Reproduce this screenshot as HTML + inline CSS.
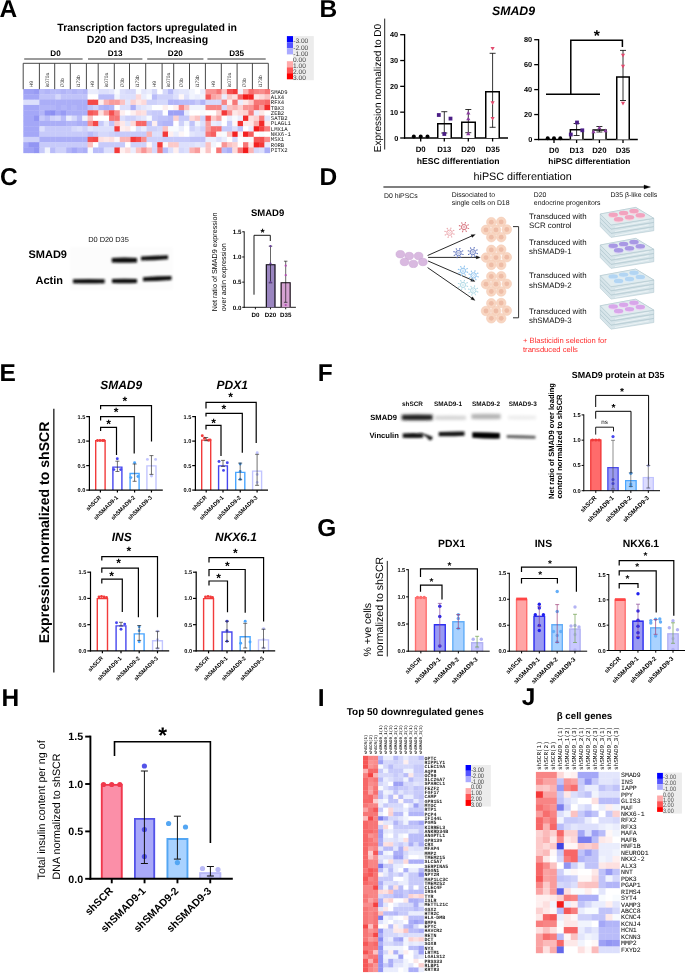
<!DOCTYPE html>
<html><head><meta charset="utf-8"><style>
html,body{margin:0;padding:0;background:#fff;}
svg{display:block;font-family:"Liberation Sans",sans-serif;-webkit-font-smoothing:antialiased;will-change:transform;text-rendering:geometricPrecision;}
</style></head><body>
<svg width="685" height="973" viewBox="0 0 685 973">
<rect width="685" height="973" fill="#fff"/>
<text x="-0.60" y="16.80" text-anchor="start" fill="#000" style='font-size:24.50px;font-weight:bold;'>A</text>
<text x="319.60" y="16.80" text-anchor="start" fill="#000" style='font-size:24.50px;font-weight:bold;'>B</text>
<text x="0.00" y="185.20" text-anchor="start" fill="#000" style='font-size:24.50px;font-weight:bold;'>C</text>
<text x="319.60" y="185.20" text-anchor="start" fill="#000" style='font-size:24.50px;font-weight:bold;'>D</text>
<text x="-0.50" y="380.80" text-anchor="start" fill="#000" style='font-size:24.50px;font-weight:bold;'>E</text>
<text x="317.80" y="380.60" text-anchor="start" fill="#000" style='font-size:24.50px;font-weight:bold;'>F</text>
<text x="317.30" y="535.80" text-anchor="start" fill="#000" style='font-size:24.50px;font-weight:bold;'>G</text>
<text x="1.60" y="706.10" text-anchor="start" fill="#000" style='font-size:24.50px;font-weight:bold;'>H</text>
<text x="317.80" y="706.10" text-anchor="start" fill="#000" style='font-size:24.50px;font-weight:bold;'>I</text>
<text x="521.80" y="705.20" text-anchor="start" fill="#000" style='font-size:24.50px;font-weight:bold;'>J</text>
<text x="513.50" y="14.60" text-anchor="middle" fill="#000" style='font-size:12.30px;font-weight:bold;font-style:italic;'>SMAD9</text>
<text x="380.70" y="88.00" text-anchor="middle" fill="#000" style='font-size:10.05px;font-weight:normal;' transform="rotate(-90.0 380.70 88.00)">Expression normalized to D0</text>
<line x1="384.70" y1="18.60" x2="384.70" y2="149.50" stroke="#222" stroke-width="1.00" stroke-linecap="butt"/>
<line x1="404.60" y1="34.05" x2="404.60" y2="138.65" stroke="#000" stroke-width="1.30" stroke-linecap="butt"/>
<line x1="400.20" y1="138.00" x2="404.60" y2="138.00" stroke="#000" stroke-width="1.30" stroke-linecap="butt"/>
<text x="398.20" y="140.63" text-anchor="end" fill="#000" style='font-size:7.30px;font-weight:bold;'>0</text>
<line x1="400.20" y1="112.17" x2="404.60" y2="112.17" stroke="#000" stroke-width="1.30" stroke-linecap="butt"/>
<text x="398.20" y="114.80" text-anchor="end" fill="#000" style='font-size:7.30px;font-weight:bold;'>10</text>
<line x1="400.20" y1="86.35" x2="404.60" y2="86.35" stroke="#000" stroke-width="1.30" stroke-linecap="butt"/>
<text x="398.20" y="88.98" text-anchor="end" fill="#000" style='font-size:7.30px;font-weight:bold;'>20</text>
<line x1="400.20" y1="60.53" x2="404.60" y2="60.53" stroke="#000" stroke-width="1.30" stroke-linecap="butt"/>
<text x="398.20" y="63.15" text-anchor="end" fill="#000" style='font-size:7.30px;font-weight:bold;'>30</text>
<line x1="400.20" y1="34.70" x2="404.60" y2="34.70" stroke="#000" stroke-width="1.30" stroke-linecap="butt"/>
<text x="398.20" y="37.33" text-anchor="end" fill="#000" style='font-size:7.30px;font-weight:bold;'>40</text>
<line x1="403.95" y1="138.00" x2="508.00" y2="138.00" stroke="#000" stroke-width="1.30" stroke-linecap="butt"/>
<line x1="420.70" y1="138.00" x2="420.70" y2="141.50" stroke="#000" stroke-width="1.30" stroke-linecap="butt"/>
<line x1="444.30" y1="138.00" x2="444.30" y2="141.50" stroke="#000" stroke-width="1.30" stroke-linecap="butt"/>
<line x1="468.30" y1="138.00" x2="468.30" y2="141.50" stroke="#000" stroke-width="1.30" stroke-linecap="butt"/>
<line x1="492.60" y1="138.00" x2="492.60" y2="141.50" stroke="#000" stroke-width="1.30" stroke-linecap="butt"/>
<rect x="437.00" y="123.00" width="15.00" height="15.00" fill="#fff"/>
<path d="M437.75 138.00 L437.75 123.75 L451.25 123.75 L451.25 138.00" stroke="#000" stroke-width="1.50" fill="none" stroke-linejoin="miter"/>
<rect x="461.00" y="121.60" width="15.00" height="16.40" fill="#fff"/>
<path d="M461.75 138.00 L461.75 122.35 L475.25 122.35 L475.25 138.00" stroke="#000" stroke-width="1.50" fill="none" stroke-linejoin="miter"/>
<rect x="485.00" y="91.00" width="15.00" height="47.00" fill="#fff"/>
<path d="M485.75 138.00 L485.75 91.75 L499.25 91.75 L499.25 138.00" stroke="#000" stroke-width="1.50" fill="none" stroke-linejoin="miter"/>
<line x1="444.30" y1="111.70" x2="444.30" y2="133.00" stroke="#000" stroke-width="0.80" stroke-linecap="butt"/>
<line x1="441.30" y1="111.70" x2="447.30" y2="111.70" stroke="#000" stroke-width="0.80" stroke-linecap="butt"/>
<line x1="441.30" y1="133.00" x2="447.30" y2="133.00" stroke="#000" stroke-width="0.80" stroke-linecap="butt"/>
<line x1="468.30" y1="109.50" x2="468.30" y2="132.70" stroke="#000" stroke-width="0.80" stroke-linecap="butt"/>
<line x1="465.30" y1="109.50" x2="471.30" y2="109.50" stroke="#000" stroke-width="0.80" stroke-linecap="butt"/>
<line x1="465.30" y1="132.70" x2="471.30" y2="132.70" stroke="#000" stroke-width="0.80" stroke-linecap="butt"/>
<line x1="492.60" y1="53.30" x2="492.60" y2="127.30" stroke="#000" stroke-width="0.80" stroke-linecap="butt"/>
<line x1="489.60" y1="53.30" x2="495.60" y2="53.30" stroke="#000" stroke-width="0.80" stroke-linecap="butt"/>
<line x1="489.60" y1="127.30" x2="495.60" y2="127.30" stroke="#000" stroke-width="0.80" stroke-linecap="butt"/>
<circle cx="413.80" cy="136.50" r="2.00" fill="#000"/>
<circle cx="420.70" cy="136.50" r="2.00" fill="#000"/>
<circle cx="427.50" cy="136.50" r="2.00" fill="#000"/>
<rect x="436.90" y="113.10" width="3.80" height="3.80" fill="#4b1e86"/>
<rect x="448.60" y="116.70" width="3.80" height="3.80" fill="#4b1e86"/>
<rect x="442.40" y="132.10" width="3.80" height="3.80" fill="#4b1e86"/>
<path d="M466.20 114.38 L470.40 114.38 L468.30 110.81 L466.20 114.38" stroke="#8a3d9e" stroke-width="0.01" fill="#8a3d9e" stroke-linejoin="miter"/>
<path d="M466.20 120.28 L470.40 120.28 L468.30 116.71 L466.20 120.28" stroke="#8a3d9e" stroke-width="0.01" fill="#8a3d9e" stroke-linejoin="miter"/>
<path d="M466.20 135.18 L470.40 135.18 L468.30 131.61 L466.20 135.18" stroke="#8a3d9e" stroke-width="0.01" fill="#8a3d9e" stroke-linejoin="miter"/>
<path d="M490.50 46.92 L494.70 46.92 L492.60 50.49 L490.50 46.92" stroke="#e24a6e" stroke-width="0.01" fill="#e24a6e" stroke-linejoin="miter"/>
<path d="M490.50 101.32 L494.70 101.32 L492.60 104.89 L490.50 101.32" stroke="#e24a6e" stroke-width="0.01" fill="#e24a6e" stroke-linejoin="miter"/>
<path d="M490.50 116.92 L494.70 116.92 L492.60 120.49 L490.50 116.92" stroke="#e24a6e" stroke-width="0.01" fill="#e24a6e" stroke-linejoin="miter"/>
<text x="420.70" y="152.00" text-anchor="middle" fill="#000" style='font-size:7.80px;font-weight:bold;'>D0</text>
<text x="444.30" y="152.00" text-anchor="middle" fill="#000" style='font-size:7.80px;font-weight:bold;'>D13</text>
<text x="468.30" y="152.00" text-anchor="middle" fill="#000" style='font-size:7.80px;font-weight:bold;'>D20</text>
<text x="492.60" y="152.00" text-anchor="middle" fill="#000" style='font-size:7.80px;font-weight:bold;'>D35</text>
<text x="458.10" y="163.80" text-anchor="middle" fill="#000" style='font-size:8.60px;font-weight:bold;'>hESC differentiation</text>
<line x1="538.60" y1="39.05" x2="538.60" y2="140.15" stroke="#000" stroke-width="1.30" stroke-linecap="butt"/>
<line x1="534.20" y1="139.50" x2="538.60" y2="139.50" stroke="#000" stroke-width="1.30" stroke-linecap="butt"/>
<text x="532.20" y="142.13" text-anchor="end" fill="#000" style='font-size:7.30px;font-weight:bold;'>0</text>
<line x1="534.20" y1="114.55" x2="538.60" y2="114.55" stroke="#000" stroke-width="1.30" stroke-linecap="butt"/>
<text x="532.20" y="117.18" text-anchor="end" fill="#000" style='font-size:7.30px;font-weight:bold;'>20</text>
<line x1="534.20" y1="89.60" x2="538.60" y2="89.60" stroke="#000" stroke-width="1.30" stroke-linecap="butt"/>
<text x="532.20" y="92.23" text-anchor="end" fill="#000" style='font-size:7.30px;font-weight:bold;'>40</text>
<line x1="534.20" y1="64.65" x2="538.60" y2="64.65" stroke="#000" stroke-width="1.30" stroke-linecap="butt"/>
<text x="532.20" y="67.28" text-anchor="end" fill="#000" style='font-size:7.30px;font-weight:bold;'>60</text>
<line x1="534.20" y1="39.70" x2="538.60" y2="39.70" stroke="#000" stroke-width="1.30" stroke-linecap="butt"/>
<text x="532.20" y="42.33" text-anchor="end" fill="#000" style='font-size:7.30px;font-weight:bold;'>80</text>
<line x1="537.95" y1="139.50" x2="637.80" y2="139.50" stroke="#000" stroke-width="1.30" stroke-linecap="butt"/>
<line x1="554.00" y1="139.50" x2="554.00" y2="143.00" stroke="#000" stroke-width="1.30" stroke-linecap="butt"/>
<line x1="576.60" y1="139.50" x2="576.60" y2="143.00" stroke="#000" stroke-width="1.30" stroke-linecap="butt"/>
<line x1="599.40" y1="139.50" x2="599.40" y2="143.00" stroke="#000" stroke-width="1.30" stroke-linecap="butt"/>
<line x1="623.00" y1="139.50" x2="623.00" y2="143.00" stroke="#000" stroke-width="1.30" stroke-linecap="butt"/>
<rect x="569.60" y="129.00" width="14.10" height="10.50" fill="#fff"/>
<path d="M570.35 139.50 L570.35 129.75 L582.95 129.75 L582.95 139.50" stroke="#000" stroke-width="1.50" fill="none" stroke-linejoin="miter"/>
<rect x="592.40" y="129.30" width="14.40" height="10.20" fill="#fff"/>
<path d="M593.15 139.50 L593.15 130.05 L606.05 130.05 L606.05 139.50" stroke="#000" stroke-width="1.50" fill="none" stroke-linejoin="miter"/>
<rect x="616.00" y="76.20" width="14.00" height="63.30" fill="#fff"/>
<path d="M616.75 139.50 L616.75 76.95 L629.25 76.95 L629.25 139.50" stroke="#000" stroke-width="1.50" fill="none" stroke-linejoin="miter"/>
<line x1="576.60" y1="123.50" x2="576.60" y2="135.50" stroke="#000" stroke-width="0.80" stroke-linecap="butt"/>
<line x1="573.60" y1="123.50" x2="579.60" y2="123.50" stroke="#000" stroke-width="0.80" stroke-linecap="butt"/>
<line x1="573.60" y1="135.50" x2="579.60" y2="135.50" stroke="#000" stroke-width="0.80" stroke-linecap="butt"/>
<line x1="599.40" y1="126.50" x2="599.40" y2="132.00" stroke="#000" stroke-width="0.80" stroke-linecap="butt"/>
<line x1="596.40" y1="126.50" x2="602.40" y2="126.50" stroke="#000" stroke-width="0.80" stroke-linecap="butt"/>
<line x1="596.40" y1="132.00" x2="602.40" y2="132.00" stroke="#000" stroke-width="0.80" stroke-linecap="butt"/>
<line x1="623.00" y1="50.40" x2="623.00" y2="100.50" stroke="#000" stroke-width="0.80" stroke-linecap="butt"/>
<line x1="620.00" y1="50.40" x2="626.00" y2="50.40" stroke="#000" stroke-width="0.80" stroke-linecap="butt"/>
<line x1="620.00" y1="100.50" x2="626.00" y2="100.50" stroke="#000" stroke-width="0.80" stroke-linecap="butt"/>
<circle cx="547.70" cy="138.20" r="2.00" fill="#000"/>
<circle cx="554.00" cy="138.20" r="2.00" fill="#000"/>
<circle cx="560.30" cy="138.20" r="2.00" fill="#000"/>
<rect x="568.90" y="132.60" width="3.80" height="3.80" fill="#4b1e86"/>
<rect x="575.10" y="120.60" width="3.80" height="3.80" fill="#4b1e86"/>
<rect x="580.40" y="128.40" width="3.80" height="3.80" fill="#4b1e86"/>
<path d="M591.40 133.18 L595.60 133.18 L593.50 129.61 L591.40 133.18" stroke="#8a3d9e" stroke-width="0.01" fill="#8a3d9e" stroke-linejoin="miter"/>
<path d="M597.30 129.28 L601.50 129.28 L599.40 125.71 L597.30 129.28" stroke="#8a3d9e" stroke-width="0.01" fill="#8a3d9e" stroke-linejoin="miter"/>
<path d="M603.40 132.18 L607.60 132.18 L605.50 128.61 L603.40 132.18" stroke="#8a3d9e" stroke-width="0.01" fill="#8a3d9e" stroke-linejoin="miter"/>
<path d="M620.90 53.82 L625.10 53.82 L623.00 57.39 L620.90 53.82" stroke="#e24a6e" stroke-width="0.01" fill="#e24a6e" stroke-linejoin="miter"/>
<path d="M620.90 64.82 L625.10 64.82 L623.00 68.39 L620.90 64.82" stroke="#e24a6e" stroke-width="0.01" fill="#e24a6e" stroke-linejoin="miter"/>
<path d="M620.90 101.82 L625.10 101.82 L623.00 105.39 L620.90 101.82" stroke="#e24a6e" stroke-width="0.01" fill="#e24a6e" stroke-linejoin="miter"/>
<path d="M546.00 94.30 L600.00 94.30" stroke="#000" stroke-width="1.50" fill="none" stroke-linejoin="miter"/>
<path d="M570.80 94.30 L570.80 40.20 L622.40 40.20 L622.40 47.00" stroke="#000" stroke-width="1.50" fill="none" stroke-linejoin="miter"/>
<text x="596.92" y="41.43" text-anchor="middle" fill="#000" style='font-size:15.79px;font-weight:bold;'>*</text>
<text x="554.00" y="153.00" text-anchor="middle" fill="#000" style='font-size:7.80px;font-weight:bold;'>D0</text>
<text x="576.60" y="153.00" text-anchor="middle" fill="#000" style='font-size:7.80px;font-weight:bold;'>D13</text>
<text x="599.40" y="153.00" text-anchor="middle" fill="#000" style='font-size:7.80px;font-weight:bold;'>D20</text>
<text x="623.00" y="153.00" text-anchor="middle" fill="#000" style='font-size:7.80px;font-weight:bold;'>D35</text>
<text x="589.40" y="164.30" text-anchor="middle" fill="#000" style='font-size:8.30px;font-weight:bold;'>hiPSC differentiation</text>
<defs><filter id="blur1" x="-20%" y="-50%" width="140%" height="200%"><feGaussianBlur stdDeviation="0.9"/></filter><filter id="blur2" x="-20%" y="-80%" width="140%" height="260%"><feGaussianBlur stdDeviation="1.4"/></filter><filter id="blur05"><feGaussianBlur stdDeviation="0.5"/></filter></defs>
<text x="108.50" y="242.30" text-anchor="middle" fill="#111" style='font-size:7.40px;font-weight:normal;'>D0 D20 D35</text>
<text x="47.70" y="258.00" text-anchor="middle" fill="#000" style='font-size:11.00px;font-weight:bold;'>SMAD9</text>
<text x="49.30" y="283.50" text-anchor="middle" fill="#000" style='font-size:11.00px;font-weight:bold;'>Actin</text>
<rect x="70.00" y="247.00" width="103.00" height="43.00" fill="#fcfcfc" filter="url(#blur2)"/>
<path d="M111.8 257.9 Q124.4 257.3 137.0 257.9 L137.0 262.5 Q124.4 263.1 111.8 262.5 Z" fill="#0c0c0c" filter="url(#blur1)"/>
<path d="M141.0 256.6 Q154.5 255.3 168.0 255.2 L168.0 259.2 Q154.5 260.5 141.0 260.6 Z" fill="#111" filter="url(#blur1)"/>
<path d="M73.0 279.2 Q88.8 278.6 104.7 279.2 L104.7 283.2 Q88.8 283.8 73.0 283.2 Z" fill="#111" filter="url(#blur1)"/>
<path d="M112.0 279.0 Q124.5 278.4 137.0 279.0 L137.0 283.0 Q124.5 283.6 112.0 283.0 Z" fill="#111" filter="url(#blur1)"/>
<path d="M143.0 277.3 Q157.2 276.1 171.5 276.1 L171.5 280.1 Q157.2 281.3 143.0 281.3 Z" fill="#111" filter="url(#blur1)"/>
<text x="267.60" y="216.20" text-anchor="middle" fill="#000" style='font-size:9.50px;font-weight:bold;'>SMAD9</text>
<text x="217.20" y="311.20" text-anchor="start" fill="#000" style='font-size:7.20px;font-weight:normal;' transform="rotate(-90.0 217.20 311.20)">Net ratio of SMAD9 expression</text>
<text x="225.90" y="311.20" text-anchor="start" fill="#000" style='font-size:7.20px;font-weight:normal;' transform="rotate(-90.0 225.90 311.20)">over actin expression</text>
<line x1="244.20" y1="231.35" x2="244.20" y2="307.75" stroke="#000" stroke-width="0.90" stroke-linecap="butt"/>
<line x1="242.20" y1="307.30" x2="244.20" y2="307.30" stroke="#000" stroke-width="0.90" stroke-linecap="butt"/>
<text x="241.40" y="309.53" text-anchor="end" fill="#000" style='font-size:6.20px;font-weight:bold;'>0.0</text>
<line x1="242.20" y1="282.13" x2="244.20" y2="282.13" stroke="#000" stroke-width="0.90" stroke-linecap="butt"/>
<text x="241.40" y="284.37" text-anchor="end" fill="#000" style='font-size:6.20px;font-weight:bold;'>0.5</text>
<line x1="242.20" y1="256.97" x2="244.20" y2="256.97" stroke="#000" stroke-width="0.90" stroke-linecap="butt"/>
<text x="241.40" y="259.20" text-anchor="end" fill="#000" style='font-size:6.20px;font-weight:bold;'>1.0</text>
<line x1="242.20" y1="231.80" x2="244.20" y2="231.80" stroke="#000" stroke-width="0.90" stroke-linecap="butt"/>
<text x="241.40" y="234.03" text-anchor="end" fill="#000" style='font-size:6.20px;font-weight:bold;'>1.5</text>
<line x1="243.75" y1="307.30" x2="295.90" y2="307.30" stroke="#000" stroke-width="0.90" stroke-linecap="butt"/>
<line x1="255.40" y1="307.30" x2="255.40" y2="309.30" stroke="#000" stroke-width="0.90" stroke-linecap="butt"/>
<line x1="270.50" y1="307.30" x2="270.50" y2="309.30" stroke="#000" stroke-width="0.90" stroke-linecap="butt"/>
<line x1="285.70" y1="307.30" x2="285.70" y2="309.30" stroke="#000" stroke-width="0.90" stroke-linecap="butt"/>
<rect x="265.80" y="264.20" width="9.70" height="43.10" fill="#9a85c0"/>
<path d="M266.35 307.30 L266.35 264.75 L274.95 264.75 L274.95 307.30" stroke="#111" stroke-width="1.10" fill="none" stroke-linejoin="miter"/>
<rect x="280.60" y="282.20" width="10.10" height="25.10" fill="#d5a2d2"/>
<path d="M281.15 307.30 L281.15 282.75 L290.15 282.75 L290.15 307.30" stroke="#111" stroke-width="1.10" fill="none" stroke-linejoin="miter"/>
<line x1="270.50" y1="246.20" x2="270.50" y2="282.80" stroke="#000" stroke-width="0.60" stroke-linecap="butt"/>
<line x1="268.75" y1="246.20" x2="272.25" y2="246.20" stroke="#000" stroke-width="0.60" stroke-linecap="butt"/>
<line x1="268.75" y1="282.80" x2="272.25" y2="282.80" stroke="#000" stroke-width="0.60" stroke-linecap="butt"/>
<line x1="285.70" y1="261.20" x2="285.70" y2="302.30" stroke="#000" stroke-width="0.60" stroke-linecap="butt"/>
<line x1="283.95" y1="261.20" x2="287.45" y2="261.20" stroke="#000" stroke-width="0.60" stroke-linecap="butt"/>
<line x1="283.95" y1="302.30" x2="287.45" y2="302.30" stroke="#000" stroke-width="0.60" stroke-linecap="butt"/>
<circle cx="270.50" cy="246.20" r="1.10" fill="#6a3f9e"/>
<circle cx="270.50" cy="263.50" r="1.10" fill="#6a3f9e"/>
<circle cx="270.50" cy="282.00" r="1.10" fill="#6a3f9e"/>
<circle cx="285.70" cy="265.70" r="1.10" fill="#b04bb0"/>
<circle cx="285.70" cy="275.20" r="1.10" fill="#b04bb0"/>
<circle cx="285.70" cy="305.00" r="1.10" fill="#b04bb0"/>
<path d="M254.00 294.70 L254.00 235.30 L270.30 235.30 L270.30 241.00" stroke="#000" stroke-width="0.90" fill="none" stroke-linejoin="miter"/>
<text x="262.55" y="235.78" text-anchor="middle" fill="#000" style='font-size:10.53px;font-weight:bold;'>*</text>
<text x="255.40" y="317.20" text-anchor="middle" fill="#000" style='font-size:6.20px;font-weight:bold;'>D0</text>
<text x="270.50" y="317.20" text-anchor="middle" fill="#000" style='font-size:6.20px;font-weight:bold;'>D20</text>
<text x="285.70" y="317.20" text-anchor="middle" fill="#000" style='font-size:6.20px;font-weight:bold;'>D35</text>
<text x="473.50" y="179.60" text-anchor="start" fill="#000" style='font-size:10.80px;font-weight:normal;'>hiPSC differentiation</text>
<line x1="383.40" y1="187.00" x2="646.00" y2="187.00" stroke="#000" stroke-width="1.20" stroke-linecap="butt"/>
<path d="M644.00 185.00 L650.50 187.00 L644.00 189.00 L644.00 185.00" stroke="#000" stroke-width="0.30" fill="#000" stroke-linejoin="miter"/>
<text x="384.00" y="197.70" text-anchor="start" fill="#111" style='font-size:6.90px;font-weight:normal;'>D0 hiPSCs</text>
<text x="451.70" y="197.00" text-anchor="start" fill="#111" style='font-size:6.90px;font-weight:normal;'>Dissociated to</text>
<text x="451.70" y="205.00" text-anchor="start" fill="#111" style='font-size:6.90px;font-weight:normal;'>single cells on D18</text>
<text x="533.80" y="197.00" text-anchor="start" fill="#111" style='font-size:6.90px;font-weight:normal;'>D20</text>
<text x="533.80" y="205.30" text-anchor="start" fill="#111" style='font-size:6.90px;font-weight:normal;'>endocrine progenitors</text>
<text x="610.40" y="197.00" text-anchor="start" fill="#111" style='font-size:6.90px;font-weight:normal;'>D35 β-like cells</text>
<text x="529.00" y="218.60" text-anchor="start" fill="#111" style='font-size:7.90px;font-weight:normal;'>Transduced with</text>
<text x="529.00" y="227.80" text-anchor="start" fill="#111" style='font-size:7.90px;font-weight:normal;'>SCR control</text>
<text x="529.00" y="245.00" text-anchor="start" fill="#111" style='font-size:7.90px;font-weight:normal;'>Transduced with</text>
<text x="529.00" y="254.20" text-anchor="start" fill="#111" style='font-size:7.90px;font-weight:normal;'>shSMAD9-1</text>
<text x="529.00" y="278.40" text-anchor="start" fill="#111" style='font-size:7.90px;font-weight:normal;'>Transduced with</text>
<text x="529.00" y="287.60" text-anchor="start" fill="#111" style='font-size:7.90px;font-weight:normal;'>shSMAD9-2</text>
<text x="529.00" y="313.60" text-anchor="start" fill="#111" style='font-size:7.90px;font-weight:normal;'>Transduced with</text>
<text x="529.00" y="322.80" text-anchor="start" fill="#111" style='font-size:7.90px;font-weight:normal;'>shSMAD9-3</text>
<text x="523.00" y="343.00" text-anchor="start" fill="#ff2b2b" style='font-size:7.60px;font-weight:normal;'>+ Blasticidin selection for</text>
<text x="523.00" y="351.90" text-anchor="start" fill="#ff2b2b" style='font-size:7.60px;font-weight:normal;'>transduced cells</text>
<ellipse cx="400.30" cy="254.20" rx="4.30" ry="3.70" fill="#d9b9e0" stroke="#cdaad6" stroke-width="0.60" opacity="1.00"/>
<ellipse cx="409.20" cy="256.00" rx="4.30" ry="3.70" fill="#d9b9e0" stroke="#cdaad6" stroke-width="0.60" opacity="1.00"/>
<ellipse cx="418.60" cy="256.00" rx="4.30" ry="3.70" fill="#d9b9e0" stroke="#cdaad6" stroke-width="0.60" opacity="1.00"/>
<ellipse cx="404.50" cy="262.00" rx="4.30" ry="3.70" fill="#d9b9e0" stroke="#cdaad6" stroke-width="0.60" opacity="1.00"/>
<ellipse cx="413.40" cy="263.90" rx="4.30" ry="3.70" fill="#d9b9e0" stroke="#cdaad6" stroke-width="0.60" opacity="1.00"/>
<ellipse cx="422.90" cy="262.00" rx="4.30" ry="3.70" fill="#d9b9e0" stroke="#cdaad6" stroke-width="0.60" opacity="1.00"/>
<line x1="427.60" y1="255.50" x2="472.02" y2="235.89" stroke="#111" stroke-width="0.90" stroke-linecap="butt"/>
<path d="M475.40 234.40 L472.20 237.56 L470.91 234.63 L475.40 234.40" stroke="#111" stroke-width="0.20" fill="#111" stroke-linejoin="miter"/>
<line x1="428.10" y1="257.40" x2="476.70" y2="257.40" stroke="#111" stroke-width="0.90" stroke-linecap="butt"/>
<path d="M480.40 257.40 L476.20 259.00 L476.20 255.80 L480.40 257.40" stroke="#111" stroke-width="0.20" fill="#111" stroke-linejoin="miter"/>
<line x1="428.10" y1="261.00" x2="471.71" y2="279.93" stroke="#111" stroke-width="0.90" stroke-linecap="butt"/>
<path d="M475.10 281.40 L470.61 281.20 L471.88 278.26 L475.10 281.40" stroke="#111" stroke-width="0.20" fill="#111" stroke-linejoin="miter"/>
<line x1="427.60" y1="267.60" x2="472.06" y2="298.30" stroke="#111" stroke-width="0.90" stroke-linecap="butt"/>
<path d="M475.10 300.40 L470.73 299.33 L472.55 296.70 L475.10 300.40" stroke="#111" stroke-width="0.20" fill="#111" stroke-linejoin="miter"/>
<line x1="451.98" y1="233.47" x2="454.09" y2="234.12" stroke="#eaa3a9" stroke-width="0.60" stroke-linecap="butt"/>
<circle cx="454.09" cy="234.12" r="0.60" fill="#eaa3a9"/>
<line x1="450.71" y1="235.00" x2="451.74" y2="236.95" stroke="#eaa3a9" stroke-width="0.60" stroke-linecap="butt"/>
<circle cx="451.74" cy="236.95" r="0.60" fill="#eaa3a9"/>
<line x1="448.73" y1="235.18" x2="448.08" y2="237.29" stroke="#eaa3a9" stroke-width="0.60" stroke-linecap="butt"/>
<circle cx="448.08" cy="237.29" r="0.60" fill="#eaa3a9"/>
<line x1="447.20" y1="233.91" x2="445.25" y2="234.94" stroke="#eaa3a9" stroke-width="0.60" stroke-linecap="butt"/>
<circle cx="445.25" cy="234.94" r="0.60" fill="#eaa3a9"/>
<line x1="447.02" y1="231.93" x2="444.91" y2="231.28" stroke="#eaa3a9" stroke-width="0.60" stroke-linecap="butt"/>
<circle cx="444.91" cy="231.28" r="0.60" fill="#eaa3a9"/>
<line x1="448.29" y1="230.40" x2="447.26" y2="228.45" stroke="#eaa3a9" stroke-width="0.60" stroke-linecap="butt"/>
<circle cx="447.26" cy="228.45" r="0.60" fill="#eaa3a9"/>
<line x1="450.27" y1="230.22" x2="450.92" y2="228.11" stroke="#eaa3a9" stroke-width="0.60" stroke-linecap="butt"/>
<circle cx="450.92" cy="228.11" r="0.60" fill="#eaa3a9"/>
<line x1="451.80" y1="231.49" x2="453.75" y2="230.46" stroke="#eaa3a9" stroke-width="0.60" stroke-linecap="butt"/>
<circle cx="453.75" cy="230.46" r="0.60" fill="#eaa3a9"/>
<circle cx="449.50" cy="232.70" r="2.60" fill="#fff" stroke="#eaa3a9" stroke-width="0.90"/>
<circle cx="449.50" cy="232.70" r="1.00" fill="none" stroke="#eaa3a9" stroke-width="0.50"/>
<line x1="466.48" y1="227.87" x2="468.59" y2="228.52" stroke="#d56b76" stroke-width="0.60" stroke-linecap="butt"/>
<circle cx="468.59" cy="228.52" r="0.60" fill="#d56b76"/>
<line x1="465.21" y1="229.40" x2="466.24" y2="231.35" stroke="#d56b76" stroke-width="0.60" stroke-linecap="butt"/>
<circle cx="466.24" cy="231.35" r="0.60" fill="#d56b76"/>
<line x1="463.23" y1="229.58" x2="462.58" y2="231.69" stroke="#d56b76" stroke-width="0.60" stroke-linecap="butt"/>
<circle cx="462.58" cy="231.69" r="0.60" fill="#d56b76"/>
<line x1="461.70" y1="228.31" x2="459.75" y2="229.34" stroke="#d56b76" stroke-width="0.60" stroke-linecap="butt"/>
<circle cx="459.75" cy="229.34" r="0.60" fill="#d56b76"/>
<line x1="461.52" y1="226.33" x2="459.41" y2="225.68" stroke="#d56b76" stroke-width="0.60" stroke-linecap="butt"/>
<circle cx="459.41" cy="225.68" r="0.60" fill="#d56b76"/>
<line x1="462.79" y1="224.80" x2="461.76" y2="222.85" stroke="#d56b76" stroke-width="0.60" stroke-linecap="butt"/>
<circle cx="461.76" cy="222.85" r="0.60" fill="#d56b76"/>
<line x1="464.77" y1="224.62" x2="465.42" y2="222.51" stroke="#d56b76" stroke-width="0.60" stroke-linecap="butt"/>
<circle cx="465.42" cy="222.51" r="0.60" fill="#d56b76"/>
<line x1="466.30" y1="225.89" x2="468.25" y2="224.86" stroke="#d56b76" stroke-width="0.60" stroke-linecap="butt"/>
<circle cx="468.25" cy="224.86" r="0.60" fill="#d56b76"/>
<circle cx="464.00" cy="227.10" r="2.60" fill="#fff" stroke="#d56b76" stroke-width="0.90"/>
<circle cx="464.00" cy="227.10" r="1.00" fill="none" stroke="#d56b76" stroke-width="0.50"/>
<line x1="460.98" y1="253.87" x2="463.09" y2="254.52" stroke="#5a6fbb" stroke-width="0.60" stroke-linecap="butt"/>
<circle cx="463.09" cy="254.52" r="0.60" fill="#5a6fbb"/>
<line x1="459.71" y1="255.40" x2="460.74" y2="257.35" stroke="#5a6fbb" stroke-width="0.60" stroke-linecap="butt"/>
<circle cx="460.74" cy="257.35" r="0.60" fill="#5a6fbb"/>
<line x1="457.73" y1="255.58" x2="457.08" y2="257.69" stroke="#5a6fbb" stroke-width="0.60" stroke-linecap="butt"/>
<circle cx="457.08" cy="257.69" r="0.60" fill="#5a6fbb"/>
<line x1="456.20" y1="254.31" x2="454.25" y2="255.34" stroke="#5a6fbb" stroke-width="0.60" stroke-linecap="butt"/>
<circle cx="454.25" cy="255.34" r="0.60" fill="#5a6fbb"/>
<line x1="456.02" y1="252.33" x2="453.91" y2="251.68" stroke="#5a6fbb" stroke-width="0.60" stroke-linecap="butt"/>
<circle cx="453.91" cy="251.68" r="0.60" fill="#5a6fbb"/>
<line x1="457.29" y1="250.80" x2="456.26" y2="248.85" stroke="#5a6fbb" stroke-width="0.60" stroke-linecap="butt"/>
<circle cx="456.26" cy="248.85" r="0.60" fill="#5a6fbb"/>
<line x1="459.27" y1="250.62" x2="459.92" y2="248.51" stroke="#5a6fbb" stroke-width="0.60" stroke-linecap="butt"/>
<circle cx="459.92" cy="248.51" r="0.60" fill="#5a6fbb"/>
<line x1="460.80" y1="251.89" x2="462.75" y2="250.86" stroke="#5a6fbb" stroke-width="0.60" stroke-linecap="butt"/>
<circle cx="462.75" cy="250.86" r="0.60" fill="#5a6fbb"/>
<circle cx="458.50" cy="253.10" r="2.60" fill="#fff" stroke="#5a6fbb" stroke-width="0.90"/>
<circle cx="458.50" cy="253.10" r="1.00" fill="none" stroke="#5a6fbb" stroke-width="0.50"/>
<line x1="475.28" y1="252.97" x2="477.39" y2="253.62" stroke="#5a6fbb" stroke-width="0.60" stroke-linecap="butt"/>
<circle cx="477.39" cy="253.62" r="0.60" fill="#5a6fbb"/>
<line x1="474.01" y1="254.50" x2="475.04" y2="256.45" stroke="#5a6fbb" stroke-width="0.60" stroke-linecap="butt"/>
<circle cx="475.04" cy="256.45" r="0.60" fill="#5a6fbb"/>
<line x1="472.03" y1="254.68" x2="471.38" y2="256.79" stroke="#5a6fbb" stroke-width="0.60" stroke-linecap="butt"/>
<circle cx="471.38" cy="256.79" r="0.60" fill="#5a6fbb"/>
<line x1="470.50" y1="253.41" x2="468.55" y2="254.44" stroke="#5a6fbb" stroke-width="0.60" stroke-linecap="butt"/>
<circle cx="468.55" cy="254.44" r="0.60" fill="#5a6fbb"/>
<line x1="470.32" y1="251.43" x2="468.21" y2="250.78" stroke="#5a6fbb" stroke-width="0.60" stroke-linecap="butt"/>
<circle cx="468.21" cy="250.78" r="0.60" fill="#5a6fbb"/>
<line x1="471.59" y1="249.90" x2="470.56" y2="247.95" stroke="#5a6fbb" stroke-width="0.60" stroke-linecap="butt"/>
<circle cx="470.56" cy="247.95" r="0.60" fill="#5a6fbb"/>
<line x1="473.57" y1="249.72" x2="474.22" y2="247.61" stroke="#5a6fbb" stroke-width="0.60" stroke-linecap="butt"/>
<circle cx="474.22" cy="247.61" r="0.60" fill="#5a6fbb"/>
<line x1="475.10" y1="250.99" x2="477.05" y2="249.96" stroke="#5a6fbb" stroke-width="0.60" stroke-linecap="butt"/>
<circle cx="477.05" cy="249.96" r="0.60" fill="#5a6fbb"/>
<circle cx="472.80" cy="252.20" r="2.60" fill="#fff" stroke="#5a6fbb" stroke-width="0.90"/>
<circle cx="472.80" cy="252.20" r="1.00" fill="none" stroke="#5a6fbb" stroke-width="0.50"/>
<line x1="465.48" y1="271.57" x2="467.59" y2="272.22" stroke="#85bdec" stroke-width="0.60" stroke-linecap="butt"/>
<circle cx="467.59" cy="272.22" r="0.60" fill="#85bdec"/>
<line x1="464.21" y1="273.10" x2="465.24" y2="275.05" stroke="#85bdec" stroke-width="0.60" stroke-linecap="butt"/>
<circle cx="465.24" cy="275.05" r="0.60" fill="#85bdec"/>
<line x1="462.23" y1="273.28" x2="461.58" y2="275.39" stroke="#85bdec" stroke-width="0.60" stroke-linecap="butt"/>
<circle cx="461.58" cy="275.39" r="0.60" fill="#85bdec"/>
<line x1="460.70" y1="272.01" x2="458.75" y2="273.04" stroke="#85bdec" stroke-width="0.60" stroke-linecap="butt"/>
<circle cx="458.75" cy="273.04" r="0.60" fill="#85bdec"/>
<line x1="460.52" y1="270.03" x2="458.41" y2="269.38" stroke="#85bdec" stroke-width="0.60" stroke-linecap="butt"/>
<circle cx="458.41" cy="269.38" r="0.60" fill="#85bdec"/>
<line x1="461.79" y1="268.50" x2="460.76" y2="266.55" stroke="#85bdec" stroke-width="0.60" stroke-linecap="butt"/>
<circle cx="460.76" cy="266.55" r="0.60" fill="#85bdec"/>
<line x1="463.77" y1="268.32" x2="464.42" y2="266.21" stroke="#85bdec" stroke-width="0.60" stroke-linecap="butt"/>
<circle cx="464.42" cy="266.21" r="0.60" fill="#85bdec"/>
<line x1="465.30" y1="269.59" x2="467.25" y2="268.56" stroke="#85bdec" stroke-width="0.60" stroke-linecap="butt"/>
<circle cx="467.25" cy="268.56" r="0.60" fill="#85bdec"/>
<circle cx="463.00" cy="270.80" r="2.60" fill="#fff" stroke="#85bdec" stroke-width="0.90"/>
<circle cx="463.00" cy="270.80" r="1.00" fill="none" stroke="#85bdec" stroke-width="0.50"/>
<line x1="476.08" y1="276.17" x2="478.19" y2="276.82" stroke="#85bdec" stroke-width="0.60" stroke-linecap="butt"/>
<circle cx="478.19" cy="276.82" r="0.60" fill="#85bdec"/>
<line x1="474.81" y1="277.70" x2="475.84" y2="279.65" stroke="#85bdec" stroke-width="0.60" stroke-linecap="butt"/>
<circle cx="475.84" cy="279.65" r="0.60" fill="#85bdec"/>
<line x1="472.83" y1="277.88" x2="472.18" y2="279.99" stroke="#85bdec" stroke-width="0.60" stroke-linecap="butt"/>
<circle cx="472.18" cy="279.99" r="0.60" fill="#85bdec"/>
<line x1="471.30" y1="276.61" x2="469.35" y2="277.64" stroke="#85bdec" stroke-width="0.60" stroke-linecap="butt"/>
<circle cx="469.35" cy="277.64" r="0.60" fill="#85bdec"/>
<line x1="471.12" y1="274.63" x2="469.01" y2="273.98" stroke="#85bdec" stroke-width="0.60" stroke-linecap="butt"/>
<circle cx="469.01" cy="273.98" r="0.60" fill="#85bdec"/>
<line x1="472.39" y1="273.10" x2="471.36" y2="271.15" stroke="#85bdec" stroke-width="0.60" stroke-linecap="butt"/>
<circle cx="471.36" cy="271.15" r="0.60" fill="#85bdec"/>
<line x1="474.37" y1="272.92" x2="475.02" y2="270.81" stroke="#85bdec" stroke-width="0.60" stroke-linecap="butt"/>
<circle cx="475.02" cy="270.81" r="0.60" fill="#85bdec"/>
<line x1="475.90" y1="274.19" x2="477.85" y2="273.16" stroke="#85bdec" stroke-width="0.60" stroke-linecap="butt"/>
<circle cx="477.85" cy="273.16" r="0.60" fill="#85bdec"/>
<circle cx="473.60" cy="275.40" r="2.60" fill="#fff" stroke="#85bdec" stroke-width="0.90"/>
<circle cx="473.60" cy="275.40" r="1.00" fill="none" stroke="#85bdec" stroke-width="0.50"/>
<line x1="465.48" y1="285.67" x2="467.59" y2="286.32" stroke="#aad6e2" stroke-width="0.60" stroke-linecap="butt"/>
<circle cx="467.59" cy="286.32" r="0.60" fill="#aad6e2"/>
<line x1="464.21" y1="287.20" x2="465.24" y2="289.15" stroke="#aad6e2" stroke-width="0.60" stroke-linecap="butt"/>
<circle cx="465.24" cy="289.15" r="0.60" fill="#aad6e2"/>
<line x1="462.23" y1="287.38" x2="461.58" y2="289.49" stroke="#aad6e2" stroke-width="0.60" stroke-linecap="butt"/>
<circle cx="461.58" cy="289.49" r="0.60" fill="#aad6e2"/>
<line x1="460.70" y1="286.11" x2="458.75" y2="287.14" stroke="#aad6e2" stroke-width="0.60" stroke-linecap="butt"/>
<circle cx="458.75" cy="287.14" r="0.60" fill="#aad6e2"/>
<line x1="460.52" y1="284.13" x2="458.41" y2="283.48" stroke="#aad6e2" stroke-width="0.60" stroke-linecap="butt"/>
<circle cx="458.41" cy="283.48" r="0.60" fill="#aad6e2"/>
<line x1="461.79" y1="282.60" x2="460.76" y2="280.65" stroke="#aad6e2" stroke-width="0.60" stroke-linecap="butt"/>
<circle cx="460.76" cy="280.65" r="0.60" fill="#aad6e2"/>
<line x1="463.77" y1="282.42" x2="464.42" y2="280.31" stroke="#aad6e2" stroke-width="0.60" stroke-linecap="butt"/>
<circle cx="464.42" cy="280.31" r="0.60" fill="#aad6e2"/>
<line x1="465.30" y1="283.69" x2="467.25" y2="282.66" stroke="#aad6e2" stroke-width="0.60" stroke-linecap="butt"/>
<circle cx="467.25" cy="282.66" r="0.60" fill="#aad6e2"/>
<circle cx="463.00" cy="284.90" r="2.60" fill="#fff" stroke="#aad6e2" stroke-width="0.90"/>
<circle cx="463.00" cy="284.90" r="1.00" fill="none" stroke="#aad6e2" stroke-width="0.50"/>
<line x1="475.68" y1="291.27" x2="477.79" y2="291.92" stroke="#aad6e2" stroke-width="0.60" stroke-linecap="butt"/>
<circle cx="477.79" cy="291.92" r="0.60" fill="#aad6e2"/>
<line x1="474.41" y1="292.80" x2="475.44" y2="294.75" stroke="#aad6e2" stroke-width="0.60" stroke-linecap="butt"/>
<circle cx="475.44" cy="294.75" r="0.60" fill="#aad6e2"/>
<line x1="472.43" y1="292.98" x2="471.78" y2="295.09" stroke="#aad6e2" stroke-width="0.60" stroke-linecap="butt"/>
<circle cx="471.78" cy="295.09" r="0.60" fill="#aad6e2"/>
<line x1="470.90" y1="291.71" x2="468.95" y2="292.74" stroke="#aad6e2" stroke-width="0.60" stroke-linecap="butt"/>
<circle cx="468.95" cy="292.74" r="0.60" fill="#aad6e2"/>
<line x1="470.72" y1="289.73" x2="468.61" y2="289.08" stroke="#aad6e2" stroke-width="0.60" stroke-linecap="butt"/>
<circle cx="468.61" cy="289.08" r="0.60" fill="#aad6e2"/>
<line x1="471.99" y1="288.20" x2="470.96" y2="286.25" stroke="#aad6e2" stroke-width="0.60" stroke-linecap="butt"/>
<circle cx="470.96" cy="286.25" r="0.60" fill="#aad6e2"/>
<line x1="473.97" y1="288.02" x2="474.62" y2="285.91" stroke="#aad6e2" stroke-width="0.60" stroke-linecap="butt"/>
<circle cx="474.62" cy="285.91" r="0.60" fill="#aad6e2"/>
<line x1="475.50" y1="289.29" x2="477.45" y2="288.26" stroke="#aad6e2" stroke-width="0.60" stroke-linecap="butt"/>
<circle cx="477.45" cy="288.26" r="0.60" fill="#aad6e2"/>
<circle cx="473.20" cy="290.50" r="2.60" fill="#fff" stroke="#aad6e2" stroke-width="0.90"/>
<circle cx="473.20" cy="290.50" r="1.00" fill="none" stroke="#aad6e2" stroke-width="0.50"/>
<circle cx="491.30" cy="222.20" r="4.80" fill="#f8d6c2" stroke="#f3c9b2" stroke-width="0.50"/>
<circle cx="501.20" cy="221.90" r="4.80" fill="#f8d6c2" stroke="#f3c9b2" stroke-width="0.50"/>
<circle cx="486.00" cy="229.90" r="4.80" fill="#f8d6c2" stroke="#f3c9b2" stroke-width="0.50"/>
<circle cx="496.00" cy="229.90" r="4.80" fill="#f8d6c2" stroke="#f3c9b2" stroke-width="0.50"/>
<circle cx="506.80" cy="229.50" r="4.80" fill="#f8d6c2" stroke="#f3c9b2" stroke-width="0.50"/>
<circle cx="491.30" cy="237.20" r="4.80" fill="#f8d6c2" stroke="#f3c9b2" stroke-width="0.50"/>
<circle cx="501.20" cy="237.20" r="4.80" fill="#f8d6c2" stroke="#f3c9b2" stroke-width="0.50"/>
<circle cx="491.30" cy="222.20" r="2.40" fill="#eebca6"/>
<circle cx="501.20" cy="221.90" r="2.40" fill="#eebca6"/>
<circle cx="486.00" cy="229.90" r="2.40" fill="#eebca6"/>
<circle cx="496.00" cy="229.90" r="2.40" fill="#eebca6"/>
<circle cx="506.80" cy="229.50" r="2.40" fill="#eebca6"/>
<circle cx="491.30" cy="237.20" r="2.40" fill="#eebca6"/>
<circle cx="501.20" cy="237.20" r="2.40" fill="#eebca6"/>
<circle cx="491.30" cy="249.90" r="4.80" fill="#f8d6c2" stroke="#f3c9b2" stroke-width="0.50"/>
<circle cx="501.20" cy="249.60" r="4.80" fill="#f8d6c2" stroke="#f3c9b2" stroke-width="0.50"/>
<circle cx="486.00" cy="257.60" r="4.80" fill="#f8d6c2" stroke="#f3c9b2" stroke-width="0.50"/>
<circle cx="496.00" cy="257.60" r="4.80" fill="#f8d6c2" stroke="#f3c9b2" stroke-width="0.50"/>
<circle cx="506.80" cy="257.20" r="4.80" fill="#f8d6c2" stroke="#f3c9b2" stroke-width="0.50"/>
<circle cx="491.30" cy="264.90" r="4.80" fill="#f8d6c2" stroke="#f3c9b2" stroke-width="0.50"/>
<circle cx="501.20" cy="264.90" r="4.80" fill="#f8d6c2" stroke="#f3c9b2" stroke-width="0.50"/>
<circle cx="491.30" cy="249.90" r="2.40" fill="#eebca6"/>
<circle cx="501.20" cy="249.60" r="2.40" fill="#eebca6"/>
<circle cx="486.00" cy="257.60" r="2.40" fill="#eebca6"/>
<circle cx="496.00" cy="257.60" r="2.40" fill="#eebca6"/>
<circle cx="506.80" cy="257.20" r="2.40" fill="#eebca6"/>
<circle cx="491.30" cy="264.90" r="2.40" fill="#eebca6"/>
<circle cx="501.20" cy="264.90" r="2.40" fill="#eebca6"/>
<circle cx="491.30" cy="276.50" r="4.80" fill="#f8d6c2" stroke="#f3c9b2" stroke-width="0.50"/>
<circle cx="501.20" cy="276.20" r="4.80" fill="#f8d6c2" stroke="#f3c9b2" stroke-width="0.50"/>
<circle cx="486.00" cy="284.20" r="4.80" fill="#f8d6c2" stroke="#f3c9b2" stroke-width="0.50"/>
<circle cx="496.00" cy="284.20" r="4.80" fill="#f8d6c2" stroke="#f3c9b2" stroke-width="0.50"/>
<circle cx="506.80" cy="283.80" r="4.80" fill="#f8d6c2" stroke="#f3c9b2" stroke-width="0.50"/>
<circle cx="491.30" cy="291.50" r="4.80" fill="#f8d6c2" stroke="#f3c9b2" stroke-width="0.50"/>
<circle cx="501.20" cy="291.50" r="4.80" fill="#f8d6c2" stroke="#f3c9b2" stroke-width="0.50"/>
<circle cx="491.30" cy="276.50" r="2.40" fill="#eebca6"/>
<circle cx="501.20" cy="276.20" r="2.40" fill="#eebca6"/>
<circle cx="486.00" cy="284.20" r="2.40" fill="#eebca6"/>
<circle cx="496.00" cy="284.20" r="2.40" fill="#eebca6"/>
<circle cx="506.80" cy="283.80" r="2.40" fill="#eebca6"/>
<circle cx="491.30" cy="291.50" r="2.40" fill="#eebca6"/>
<circle cx="501.20" cy="291.50" r="2.40" fill="#eebca6"/>
<circle cx="491.30" cy="303.30" r="4.80" fill="#f8d6c2" stroke="#f3c9b2" stroke-width="0.50"/>
<circle cx="501.20" cy="303.00" r="4.80" fill="#f8d6c2" stroke="#f3c9b2" stroke-width="0.50"/>
<circle cx="486.00" cy="311.00" r="4.80" fill="#f8d6c2" stroke="#f3c9b2" stroke-width="0.50"/>
<circle cx="496.00" cy="311.00" r="4.80" fill="#f8d6c2" stroke="#f3c9b2" stroke-width="0.50"/>
<circle cx="506.80" cy="310.60" r="4.80" fill="#f8d6c2" stroke="#f3c9b2" stroke-width="0.50"/>
<circle cx="491.30" cy="318.30" r="4.80" fill="#f8d6c2" stroke="#f3c9b2" stroke-width="0.50"/>
<circle cx="501.20" cy="318.30" r="4.80" fill="#f8d6c2" stroke="#f3c9b2" stroke-width="0.50"/>
<circle cx="491.30" cy="303.30" r="2.40" fill="#eebca6"/>
<circle cx="501.20" cy="303.00" r="2.40" fill="#eebca6"/>
<circle cx="486.00" cy="311.00" r="2.40" fill="#eebca6"/>
<circle cx="496.00" cy="311.00" r="2.40" fill="#eebca6"/>
<circle cx="506.80" cy="310.60" r="2.40" fill="#eebca6"/>
<circle cx="491.30" cy="318.30" r="2.40" fill="#eebca6"/>
<circle cx="501.20" cy="318.30" r="2.40" fill="#eebca6"/>
<path d="M513.00 226.60 L518.60 226.60 L518.60 317.80 L513.00 317.80" stroke="#333" stroke-width="1.00" fill="none" stroke-linejoin="miter"/>
<path d="M600.20 222.40 L635.80 215.80 L653.80 226.70 L653.80 230.70 L611.00 237.40 L600.20 226.40 L600.20 222.40" stroke="#aac2cb" stroke-width="0.50" fill="#d7e5ea" stroke-linejoin="miter"/>
<path d="M611.00 233.40 L653.80 226.70" stroke="#aac2cb" stroke-width="0.50" fill="none" stroke-linejoin="miter"/>
<path d="M600.20 222.40 L611.00 233.40" stroke="#aac2cb" stroke-width="0.50" fill="none" stroke-linejoin="miter"/>
<line x1="615.00" y1="235.60" x2="648.80" y2="229.10" stroke="#f4f8f9" stroke-width="0.70" stroke-linecap="butt"/>
<path d="M600.20 218.20 L635.80 211.60 L653.80 222.50 L653.80 226.50 L611.00 233.20 L600.20 222.20 L600.20 218.20" stroke="#aac2cb" stroke-width="0.50" fill="#d7e5ea" stroke-linejoin="miter"/>
<path d="M611.00 229.20 L653.80 222.50" stroke="#aac2cb" stroke-width="0.50" fill="none" stroke-linejoin="miter"/>
<path d="M600.20 218.20 L611.00 229.20" stroke="#aac2cb" stroke-width="0.50" fill="none" stroke-linejoin="miter"/>
<line x1="615.00" y1="231.40" x2="648.80" y2="224.90" stroke="#f4f8f9" stroke-width="0.70" stroke-linecap="butt"/>
<path d="M600.20 214.00 L635.80 207.40 L653.80 218.30 L653.80 222.30 L611.00 229.00 L600.20 218.00 L600.20 214.00" stroke="#aac2cb" stroke-width="0.50" fill="#d7e5ea" stroke-linejoin="miter"/>
<path d="M611.00 225.00 L653.80 218.30" stroke="#aac2cb" stroke-width="0.50" fill="none" stroke-linejoin="miter"/>
<path d="M600.20 214.00 L611.00 225.00" stroke="#aac2cb" stroke-width="0.50" fill="none" stroke-linejoin="miter"/>
<line x1="615.00" y1="227.20" x2="648.80" y2="220.70" stroke="#f4f8f9" stroke-width="0.70" stroke-linecap="butt"/>
<path d="M600.20 214.00 L635.80 207.40 L653.80 218.30 L611.00 225.00 L600.20 214.00" stroke="#aac2cb" stroke-width="0.50" fill="#e1ecef" stroke-linejoin="miter"/>
<ellipse cx="613.20" cy="215.70" rx="4.70" ry="2.40" fill="#f8d3df" opacity="1.00"/>
<ellipse cx="613.20" cy="214.70" rx="4.70" ry="2.20" fill="#f2a3bf" opacity="1.00"/>
<ellipse cx="623.60" cy="213.90" rx="4.70" ry="2.40" fill="#f8d3df" opacity="1.00"/>
<ellipse cx="623.60" cy="212.90" rx="4.70" ry="2.20" fill="#f2a3bf" opacity="1.00"/>
<ellipse cx="634.00" cy="212.00" rx="4.70" ry="2.40" fill="#f8d3df" opacity="1.00"/>
<ellipse cx="634.00" cy="211.00" rx="4.70" ry="2.20" fill="#f2a3bf" opacity="1.00"/>
<ellipse cx="618.60" cy="220.20" rx="4.70" ry="2.40" fill="#f8d3df" opacity="1.00"/>
<ellipse cx="618.60" cy="219.20" rx="4.70" ry="2.20" fill="#f2a3bf" opacity="1.00"/>
<ellipse cx="629.50" cy="218.30" rx="4.70" ry="2.40" fill="#f8d3df" opacity="1.00"/>
<ellipse cx="629.50" cy="217.30" rx="4.70" ry="2.20" fill="#f2a3bf" opacity="1.00"/>
<ellipse cx="640.30" cy="216.20" rx="4.70" ry="2.40" fill="#f8d3df" opacity="1.00"/>
<ellipse cx="640.30" cy="215.20" rx="4.70" ry="2.20" fill="#f2a3bf" opacity="1.00"/>
<path d="M600.20 253.40 L635.80 246.80 L653.80 257.70 L653.80 261.70 L611.00 268.40 L600.20 257.40 L600.20 253.40" stroke="#aac2cb" stroke-width="0.50" fill="#d7e5ea" stroke-linejoin="miter"/>
<path d="M611.00 264.40 L653.80 257.70" stroke="#aac2cb" stroke-width="0.50" fill="none" stroke-linejoin="miter"/>
<path d="M600.20 253.40 L611.00 264.40" stroke="#aac2cb" stroke-width="0.50" fill="none" stroke-linejoin="miter"/>
<line x1="615.00" y1="266.60" x2="648.80" y2="260.10" stroke="#f4f8f9" stroke-width="0.70" stroke-linecap="butt"/>
<path d="M600.20 249.20 L635.80 242.60 L653.80 253.50 L653.80 257.50 L611.00 264.20 L600.20 253.20 L600.20 249.20" stroke="#aac2cb" stroke-width="0.50" fill="#d7e5ea" stroke-linejoin="miter"/>
<path d="M611.00 260.20 L653.80 253.50" stroke="#aac2cb" stroke-width="0.50" fill="none" stroke-linejoin="miter"/>
<path d="M600.20 249.20 L611.00 260.20" stroke="#aac2cb" stroke-width="0.50" fill="none" stroke-linejoin="miter"/>
<line x1="615.00" y1="262.40" x2="648.80" y2="255.90" stroke="#f4f8f9" stroke-width="0.70" stroke-linecap="butt"/>
<path d="M600.20 245.00 L635.80 238.40 L653.80 249.30 L653.80 253.30 L611.00 260.00 L600.20 249.00 L600.20 245.00" stroke="#aac2cb" stroke-width="0.50" fill="#d7e5ea" stroke-linejoin="miter"/>
<path d="M611.00 256.00 L653.80 249.30" stroke="#aac2cb" stroke-width="0.50" fill="none" stroke-linejoin="miter"/>
<path d="M600.20 245.00 L611.00 256.00" stroke="#aac2cb" stroke-width="0.50" fill="none" stroke-linejoin="miter"/>
<line x1="615.00" y1="258.20" x2="648.80" y2="251.70" stroke="#f4f8f9" stroke-width="0.70" stroke-linecap="butt"/>
<path d="M600.20 245.00 L635.80 238.40 L653.80 249.30 L611.00 256.00 L600.20 245.00" stroke="#aac2cb" stroke-width="0.50" fill="#e1ecef" stroke-linejoin="miter"/>
<ellipse cx="613.20" cy="246.70" rx="4.70" ry="2.40" fill="#d9d0f4" opacity="1.00"/>
<ellipse cx="613.20" cy="245.70" rx="4.70" ry="2.20" fill="#a898e4" opacity="1.00"/>
<ellipse cx="623.60" cy="244.90" rx="4.70" ry="2.40" fill="#d9d0f4" opacity="1.00"/>
<ellipse cx="623.60" cy="243.90" rx="4.70" ry="2.20" fill="#a898e4" opacity="1.00"/>
<ellipse cx="634.00" cy="243.00" rx="4.70" ry="2.40" fill="#d9d0f4" opacity="1.00"/>
<ellipse cx="634.00" cy="242.00" rx="4.70" ry="2.20" fill="#a898e4" opacity="1.00"/>
<ellipse cx="618.60" cy="251.20" rx="4.70" ry="2.40" fill="#d9d0f4" opacity="1.00"/>
<ellipse cx="618.60" cy="250.20" rx="4.70" ry="2.20" fill="#a898e4" opacity="1.00"/>
<ellipse cx="629.50" cy="249.30" rx="4.70" ry="2.40" fill="#d9d0f4" opacity="1.00"/>
<ellipse cx="629.50" cy="248.30" rx="4.70" ry="2.20" fill="#a898e4" opacity="1.00"/>
<ellipse cx="640.30" cy="247.20" rx="4.70" ry="2.40" fill="#d9d0f4" opacity="1.00"/>
<ellipse cx="640.30" cy="246.20" rx="4.70" ry="2.20" fill="#a898e4" opacity="1.00"/>
<path d="M600.20 284.10 L635.80 277.50 L653.80 288.40 L653.80 292.40 L611.00 299.10 L600.20 288.10 L600.20 284.10" stroke="#aac2cb" stroke-width="0.50" fill="#d7e5ea" stroke-linejoin="miter"/>
<path d="M611.00 295.10 L653.80 288.40" stroke="#aac2cb" stroke-width="0.50" fill="none" stroke-linejoin="miter"/>
<path d="M600.20 284.10 L611.00 295.10" stroke="#aac2cb" stroke-width="0.50" fill="none" stroke-linejoin="miter"/>
<line x1="615.00" y1="297.30" x2="648.80" y2="290.80" stroke="#f4f8f9" stroke-width="0.70" stroke-linecap="butt"/>
<path d="M600.20 279.90 L635.80 273.30 L653.80 284.20 L653.80 288.20 L611.00 294.90 L600.20 283.90 L600.20 279.90" stroke="#aac2cb" stroke-width="0.50" fill="#d7e5ea" stroke-linejoin="miter"/>
<path d="M611.00 290.90 L653.80 284.20" stroke="#aac2cb" stroke-width="0.50" fill="none" stroke-linejoin="miter"/>
<path d="M600.20 279.90 L611.00 290.90" stroke="#aac2cb" stroke-width="0.50" fill="none" stroke-linejoin="miter"/>
<line x1="615.00" y1="293.10" x2="648.80" y2="286.60" stroke="#f4f8f9" stroke-width="0.70" stroke-linecap="butt"/>
<path d="M600.20 275.70 L635.80 269.10 L653.80 280.00 L653.80 284.00 L611.00 290.70 L600.20 279.70 L600.20 275.70" stroke="#aac2cb" stroke-width="0.50" fill="#d7e5ea" stroke-linejoin="miter"/>
<path d="M611.00 286.70 L653.80 280.00" stroke="#aac2cb" stroke-width="0.50" fill="none" stroke-linejoin="miter"/>
<path d="M600.20 275.70 L611.00 286.70" stroke="#aac2cb" stroke-width="0.50" fill="none" stroke-linejoin="miter"/>
<line x1="615.00" y1="288.90" x2="648.80" y2="282.40" stroke="#f4f8f9" stroke-width="0.70" stroke-linecap="butt"/>
<path d="M600.20 275.70 L635.80 269.10 L653.80 280.00 L611.00 286.70 L600.20 275.70" stroke="#aac2cb" stroke-width="0.50" fill="#e1ecef" stroke-linejoin="miter"/>
<ellipse cx="613.20" cy="277.40" rx="4.70" ry="2.40" fill="#d8eaf8" opacity="1.00"/>
<ellipse cx="613.20" cy="276.40" rx="4.70" ry="2.20" fill="#b2d5f3" opacity="1.00"/>
<ellipse cx="623.60" cy="275.60" rx="4.70" ry="2.40" fill="#d8eaf8" opacity="1.00"/>
<ellipse cx="623.60" cy="274.60" rx="4.70" ry="2.20" fill="#b2d5f3" opacity="1.00"/>
<ellipse cx="634.00" cy="273.70" rx="4.70" ry="2.40" fill="#d8eaf8" opacity="1.00"/>
<ellipse cx="634.00" cy="272.70" rx="4.70" ry="2.20" fill="#b2d5f3" opacity="1.00"/>
<ellipse cx="618.60" cy="281.90" rx="4.70" ry="2.40" fill="#d8eaf8" opacity="1.00"/>
<ellipse cx="618.60" cy="280.90" rx="4.70" ry="2.20" fill="#b2d5f3" opacity="1.00"/>
<ellipse cx="629.50" cy="280.00" rx="4.70" ry="2.40" fill="#d8eaf8" opacity="1.00"/>
<ellipse cx="629.50" cy="279.00" rx="4.70" ry="2.20" fill="#b2d5f3" opacity="1.00"/>
<ellipse cx="640.30" cy="277.90" rx="4.70" ry="2.40" fill="#d8eaf8" opacity="1.00"/>
<ellipse cx="640.30" cy="276.90" rx="4.70" ry="2.20" fill="#b2d5f3" opacity="1.00"/>
<path d="M600.20 314.20 L635.80 307.60 L653.80 318.50 L653.80 322.50 L611.00 329.20 L600.20 318.20 L600.20 314.20" stroke="#aac2cb" stroke-width="0.50" fill="#d7e5ea" stroke-linejoin="miter"/>
<path d="M611.00 325.20 L653.80 318.50" stroke="#aac2cb" stroke-width="0.50" fill="none" stroke-linejoin="miter"/>
<path d="M600.20 314.20 L611.00 325.20" stroke="#aac2cb" stroke-width="0.50" fill="none" stroke-linejoin="miter"/>
<line x1="615.00" y1="327.40" x2="648.80" y2="320.90" stroke="#f4f8f9" stroke-width="0.70" stroke-linecap="butt"/>
<path d="M600.20 310.00 L635.80 303.40 L653.80 314.30 L653.80 318.30 L611.00 325.00 L600.20 314.00 L600.20 310.00" stroke="#aac2cb" stroke-width="0.50" fill="#d7e5ea" stroke-linejoin="miter"/>
<path d="M611.00 321.00 L653.80 314.30" stroke="#aac2cb" stroke-width="0.50" fill="none" stroke-linejoin="miter"/>
<path d="M600.20 310.00 L611.00 321.00" stroke="#aac2cb" stroke-width="0.50" fill="none" stroke-linejoin="miter"/>
<line x1="615.00" y1="323.20" x2="648.80" y2="316.70" stroke="#f4f8f9" stroke-width="0.70" stroke-linecap="butt"/>
<path d="M600.20 305.80 L635.80 299.20 L653.80 310.10 L653.80 314.10 L611.00 320.80 L600.20 309.80 L600.20 305.80" stroke="#aac2cb" stroke-width="0.50" fill="#d7e5ea" stroke-linejoin="miter"/>
<path d="M611.00 316.80 L653.80 310.10" stroke="#aac2cb" stroke-width="0.50" fill="none" stroke-linejoin="miter"/>
<path d="M600.20 305.80 L611.00 316.80" stroke="#aac2cb" stroke-width="0.50" fill="none" stroke-linejoin="miter"/>
<line x1="615.00" y1="319.00" x2="648.80" y2="312.50" stroke="#f4f8f9" stroke-width="0.70" stroke-linecap="butt"/>
<path d="M600.20 305.80 L635.80 299.20 L653.80 310.10 L611.00 316.80 L600.20 305.80" stroke="#aac2cb" stroke-width="0.50" fill="#e1ecef" stroke-linejoin="miter"/>
<ellipse cx="613.20" cy="307.50" rx="4.70" ry="2.40" fill="#eed6f5" opacity="1.00"/>
<ellipse cx="613.20" cy="306.50" rx="4.70" ry="2.20" fill="#d8a6ea" opacity="1.00"/>
<ellipse cx="623.60" cy="305.70" rx="4.70" ry="2.40" fill="#eed6f5" opacity="1.00"/>
<ellipse cx="623.60" cy="304.70" rx="4.70" ry="2.20" fill="#d8a6ea" opacity="1.00"/>
<ellipse cx="634.00" cy="303.80" rx="4.70" ry="2.40" fill="#eed6f5" opacity="1.00"/>
<ellipse cx="634.00" cy="302.80" rx="4.70" ry="2.20" fill="#d8a6ea" opacity="1.00"/>
<ellipse cx="618.60" cy="312.00" rx="4.70" ry="2.40" fill="#eed6f5" opacity="1.00"/>
<ellipse cx="618.60" cy="311.00" rx="4.70" ry="2.20" fill="#d8a6ea" opacity="1.00"/>
<ellipse cx="629.50" cy="310.10" rx="4.70" ry="2.40" fill="#eed6f5" opacity="1.00"/>
<ellipse cx="629.50" cy="309.10" rx="4.70" ry="2.20" fill="#d8a6ea" opacity="1.00"/>
<ellipse cx="640.30" cy="308.00" rx="4.70" ry="2.40" fill="#eed6f5" opacity="1.00"/>
<ellipse cx="640.30" cy="307.00" rx="4.70" ry="2.20" fill="#d8a6ea" opacity="1.00"/>
<text x="48.90" y="532.40" text-anchor="middle" fill="#000" style='font-size:14.10px;font-weight:bold;' transform="rotate(-90.0 48.90 532.40)">Expression normalized to shSCR</text>
<line x1="53.80" y1="408.80" x2="53.80" y2="672.50" stroke="#444" stroke-width="1.60" stroke-linecap="butt"/>
<rect x="95.00" y="439.90" width="10.80" height="50.20" fill="#fff"/>
<path d="M95.70 490.10 L95.70 440.60 L105.10 440.60 L105.10 490.10" stroke="#f23b3b" stroke-width="1.40" fill="none" stroke-linejoin="miter"/>
<rect x="112.20" y="466.40" width="10.40" height="23.70" fill="#fff"/>
<path d="M112.90 490.10 L112.90 467.10 L121.90 467.10 L121.90 490.10" stroke="#4747ef" stroke-width="1.40" fill="none" stroke-linejoin="miter"/>
<rect x="129.40" y="472.80" width="10.40" height="17.30" fill="#fff"/>
<path d="M130.10 490.10 L130.10 473.50 L139.10 473.50 L139.10 490.10" stroke="#4aa6ff" stroke-width="1.40" fill="none" stroke-linejoin="miter"/>
<rect x="146.20" y="465.20" width="10.50" height="24.90" fill="#fff"/>
<path d="M146.90 490.10 L146.90 465.90 L156.00 465.90 L156.00 490.10" stroke="#c2c5ff" stroke-width="1.40" fill="none" stroke-linejoin="miter"/>
<circle cx="97.50" cy="440.50" r="1.45" fill="#f23b3b"/>
<circle cx="100.00" cy="440.50" r="1.45" fill="#f23b3b"/>
<circle cx="102.50" cy="440.50" r="1.45" fill="#f23b3b"/>
<circle cx="104.00" cy="440.50" r="1.45" fill="#f23b3b"/>
<circle cx="117.30" cy="458.80" r="1.45" fill="#4747ef"/>
<circle cx="113.80" cy="469.60" r="1.45" fill="#4747ef"/>
<circle cx="120.70" cy="469.60" r="1.45" fill="#4747ef"/>
<circle cx="134.60" cy="462.70" r="1.45" fill="#4aa6ff"/>
<circle cx="130.90" cy="477.60" r="1.45" fill="#4aa6ff"/>
<circle cx="137.90" cy="476.50" r="1.45" fill="#4aa6ff"/>
<circle cx="147.40" cy="459.40" r="1.45" fill="#c2c5ff"/>
<circle cx="155.60" cy="459.40" r="1.45" fill="#c2c5ff"/>
<circle cx="151.50" cy="476.00" r="1.45" fill="#c2c5ff"/>
<line x1="117.40" y1="461.20" x2="117.40" y2="471.50" stroke="#333" stroke-width="0.70" stroke-linecap="butt"/>
<line x1="115.40" y1="461.20" x2="119.40" y2="461.20" stroke="#333" stroke-width="0.70" stroke-linecap="butt"/>
<line x1="115.40" y1="471.50" x2="119.40" y2="471.50" stroke="#333" stroke-width="0.70" stroke-linecap="butt"/>
<line x1="134.60" y1="464.00" x2="134.60" y2="481.30" stroke="#333" stroke-width="0.70" stroke-linecap="butt"/>
<line x1="132.60" y1="464.00" x2="136.60" y2="464.00" stroke="#333" stroke-width="0.70" stroke-linecap="butt"/>
<line x1="132.60" y1="481.30" x2="136.60" y2="481.30" stroke="#333" stroke-width="0.70" stroke-linecap="butt"/>
<line x1="151.45" y1="455.60" x2="151.45" y2="474.40" stroke="#333" stroke-width="0.70" stroke-linecap="butt"/>
<line x1="149.45" y1="455.60" x2="153.45" y2="455.60" stroke="#333" stroke-width="0.70" stroke-linecap="butt"/>
<line x1="149.45" y1="474.40" x2="153.45" y2="474.40" stroke="#333" stroke-width="0.70" stroke-linecap="butt"/>
<path d="M100.60 431.00 L100.60 427.30 L116.50 427.30 L116.50 455.00" stroke="#000" stroke-width="1.20" fill="none" stroke-linejoin="miter"/>
<path d="M100.60 420.60 L100.60 416.60 L134.20 416.60 L134.20 453.50" stroke="#000" stroke-width="1.20" fill="none" stroke-linejoin="miter"/>
<path d="M100.60 409.30 L100.60 405.60 L151.50 405.60 L151.50 441.50" stroke="#000" stroke-width="1.20" fill="none" stroke-linejoin="miter"/>
<text x="108.64" y="428.08" text-anchor="middle" fill="#000" style='font-size:12.11px;font-weight:bold;'>*</text>
<text x="116.14" y="416.08" text-anchor="middle" fill="#000" style='font-size:12.11px;font-weight:bold;'>*</text>
<text x="124.94" y="405.48" text-anchor="middle" fill="#000" style='font-size:12.11px;font-weight:bold;'>*</text>
<line x1="89.40" y1="416.00" x2="89.40" y2="490.70" stroke="#000" stroke-width="1.20" stroke-linecap="butt"/>
<line x1="86.20" y1="490.10" x2="89.40" y2="490.10" stroke="#000" stroke-width="1.20" stroke-linecap="butt"/>
<text x="85.30" y="492.12" text-anchor="end" fill="#000" style='font-size:5.60px;font-weight:bold;'>0.0</text>
<line x1="86.20" y1="465.60" x2="89.40" y2="465.60" stroke="#000" stroke-width="1.20" stroke-linecap="butt"/>
<text x="85.30" y="467.62" text-anchor="end" fill="#000" style='font-size:5.60px;font-weight:bold;'>0.5</text>
<line x1="86.20" y1="441.10" x2="89.40" y2="441.10" stroke="#000" stroke-width="1.20" stroke-linecap="butt"/>
<text x="85.30" y="443.12" text-anchor="end" fill="#000" style='font-size:5.60px;font-weight:bold;'>1.0</text>
<line x1="86.20" y1="416.60" x2="89.40" y2="416.60" stroke="#000" stroke-width="1.20" stroke-linecap="butt"/>
<text x="85.30" y="418.62" text-anchor="end" fill="#000" style='font-size:5.60px;font-weight:bold;'>1.5</text>
<line x1="88.80" y1="490.10" x2="162.80" y2="490.10" stroke="#000" stroke-width="1.20" stroke-linecap="butt"/>
<line x1="100.40" y1="490.10" x2="100.40" y2="492.50" stroke="#000" stroke-width="1.20" stroke-linecap="butt"/>
<line x1="117.40" y1="490.10" x2="117.40" y2="492.50" stroke="#000" stroke-width="1.20" stroke-linecap="butt"/>
<line x1="134.60" y1="490.10" x2="134.60" y2="492.50" stroke="#000" stroke-width="1.20" stroke-linecap="butt"/>
<line x1="151.45" y1="490.10" x2="151.45" y2="492.50" stroke="#000" stroke-width="1.20" stroke-linecap="butt"/>
<text x="121.20" y="389.20" text-anchor="middle" fill="#000" style='font-size:12.00px;font-weight:bold;font-style:italic;'>SMAD9</text>
<text x="101.40" y="497.90" text-anchor="end" fill="#000" style='font-size:5.70px;font-weight:bold;' transform="rotate(-45.0 101.40 497.90)">shSCR</text>
<text x="118.40" y="497.90" text-anchor="end" fill="#000" style='font-size:5.70px;font-weight:bold;' transform="rotate(-45.0 118.40 497.90)">shSMAD9-1</text>
<text x="135.60" y="497.90" text-anchor="end" fill="#000" style='font-size:5.70px;font-weight:bold;' transform="rotate(-45.0 135.60 497.90)">shSMAD9-2</text>
<text x="152.45" y="497.90" text-anchor="end" fill="#000" style='font-size:5.70px;font-weight:bold;' transform="rotate(-45.0 152.45 497.90)">shSMAD9-3</text>
<rect x="201.00" y="439.40" width="10.40" height="50.70" fill="#fff"/>
<path d="M201.70 490.10 L201.70 440.10 L210.70 440.10 L210.70 490.10" stroke="#f23b3b" stroke-width="1.40" fill="none" stroke-linejoin="miter"/>
<rect x="217.90" y="465.20" width="10.20" height="24.90" fill="#fff"/>
<path d="M218.60 490.10 L218.60 465.90 L227.40 465.90 L227.40 490.10" stroke="#4747ef" stroke-width="1.40" fill="none" stroke-linejoin="miter"/>
<rect x="235.00" y="471.70" width="10.50" height="18.40" fill="#fff"/>
<path d="M235.70 490.10 L235.70 472.40 L244.80 472.40 L244.80 490.10" stroke="#4aa6ff" stroke-width="1.40" fill="none" stroke-linejoin="miter"/>
<rect x="251.90" y="470.40" width="10.40" height="19.70" fill="#fff"/>
<path d="M252.60 490.10 L252.60 471.10 L261.60 471.10 L261.60 490.10" stroke="#c2c5ff" stroke-width="1.40" fill="none" stroke-linejoin="miter"/>
<circle cx="202.30" cy="435.80" r="1.45" fill="#f23b3b"/>
<circle cx="204.50" cy="438.30" r="1.45" fill="#f23b3b"/>
<circle cx="208.50" cy="440.30" r="1.45" fill="#f23b3b"/>
<circle cx="210.00" cy="440.00" r="1.45" fill="#f23b3b"/>
<circle cx="219.00" cy="461.50" r="1.45" fill="#4747ef"/>
<circle cx="227.30" cy="462.80" r="1.45" fill="#4747ef"/>
<circle cx="223.50" cy="470.40" r="1.45" fill="#4747ef"/>
<circle cx="240.20" cy="464.00" r="1.45" fill="#4aa6ff"/>
<circle cx="240.20" cy="471.50" r="1.45" fill="#4aa6ff"/>
<circle cx="240.20" cy="479.20" r="1.45" fill="#4aa6ff"/>
<circle cx="257.20" cy="452.70" r="1.45" fill="#c2c5ff"/>
<circle cx="257.20" cy="474.40" r="1.45" fill="#c2c5ff"/>
<circle cx="257.20" cy="482.40" r="1.45" fill="#c2c5ff"/>
<line x1="206.20" y1="437.50" x2="206.20" y2="440.70" stroke="#333" stroke-width="0.70" stroke-linecap="butt"/>
<line x1="204.20" y1="437.50" x2="208.20" y2="437.50" stroke="#333" stroke-width="0.70" stroke-linecap="butt"/>
<line x1="204.20" y1="440.70" x2="208.20" y2="440.70" stroke="#333" stroke-width="0.70" stroke-linecap="butt"/>
<line x1="223.00" y1="460.40" x2="223.00" y2="466.40" stroke="#333" stroke-width="0.70" stroke-linecap="butt"/>
<line x1="221.00" y1="460.40" x2="225.00" y2="460.40" stroke="#333" stroke-width="0.70" stroke-linecap="butt"/>
<line x1="221.00" y1="466.40" x2="225.00" y2="466.40" stroke="#333" stroke-width="0.70" stroke-linecap="butt"/>
<line x1="240.20" y1="463.10" x2="240.20" y2="479.70" stroke="#333" stroke-width="0.70" stroke-linecap="butt"/>
<line x1="238.20" y1="463.10" x2="242.20" y2="463.10" stroke="#333" stroke-width="0.70" stroke-linecap="butt"/>
<line x1="238.20" y1="479.70" x2="242.20" y2="479.70" stroke="#333" stroke-width="0.70" stroke-linecap="butt"/>
<line x1="257.10" y1="454.30" x2="257.10" y2="485.30" stroke="#333" stroke-width="0.70" stroke-linecap="butt"/>
<line x1="255.10" y1="454.30" x2="259.10" y2="454.30" stroke="#333" stroke-width="0.70" stroke-linecap="butt"/>
<line x1="255.10" y1="485.30" x2="259.10" y2="485.30" stroke="#333" stroke-width="0.70" stroke-linecap="butt"/>
<path d="M206.00 429.40 L206.00 425.40 L221.00 425.40 L221.00 456.00" stroke="#000" stroke-width="1.20" fill="none" stroke-linejoin="miter"/>
<path d="M206.00 416.60 L206.00 413.40 L242.30 413.40 L242.30 452.70" stroke="#000" stroke-width="1.20" fill="none" stroke-linejoin="miter"/>
<path d="M206.00 408.50 L206.00 402.40 L256.20 402.40 L256.20 443.00" stroke="#000" stroke-width="1.20" fill="none" stroke-linejoin="miter"/>
<text x="213.64" y="426.68" text-anchor="middle" fill="#000" style='font-size:12.11px;font-weight:bold;'>*</text>
<text x="223.94" y="413.38" text-anchor="middle" fill="#000" style='font-size:12.11px;font-weight:bold;'>*</text>
<text x="230.64" y="401.48" text-anchor="middle" fill="#000" style='font-size:12.11px;font-weight:bold;'>*</text>
<line x1="195.40" y1="416.00" x2="195.40" y2="490.70" stroke="#000" stroke-width="1.20" stroke-linecap="butt"/>
<line x1="192.20" y1="490.10" x2="195.40" y2="490.10" stroke="#000" stroke-width="1.20" stroke-linecap="butt"/>
<text x="191.30" y="492.12" text-anchor="end" fill="#000" style='font-size:5.60px;font-weight:bold;'>0.0</text>
<line x1="192.20" y1="465.60" x2="195.40" y2="465.60" stroke="#000" stroke-width="1.20" stroke-linecap="butt"/>
<text x="191.30" y="467.62" text-anchor="end" fill="#000" style='font-size:5.60px;font-weight:bold;'>0.5</text>
<line x1="192.20" y1="441.10" x2="195.40" y2="441.10" stroke="#000" stroke-width="1.20" stroke-linecap="butt"/>
<text x="191.30" y="443.12" text-anchor="end" fill="#000" style='font-size:5.60px;font-weight:bold;'>1.0</text>
<line x1="192.20" y1="416.60" x2="195.40" y2="416.60" stroke="#000" stroke-width="1.20" stroke-linecap="butt"/>
<text x="191.30" y="418.62" text-anchor="end" fill="#000" style='font-size:5.60px;font-weight:bold;'>1.5</text>
<line x1="194.80" y1="490.10" x2="268.00" y2="490.10" stroke="#000" stroke-width="1.20" stroke-linecap="butt"/>
<line x1="206.20" y1="490.10" x2="206.20" y2="492.50" stroke="#000" stroke-width="1.20" stroke-linecap="butt"/>
<line x1="223.00" y1="490.10" x2="223.00" y2="492.50" stroke="#000" stroke-width="1.20" stroke-linecap="butt"/>
<line x1="240.25" y1="490.10" x2="240.25" y2="492.50" stroke="#000" stroke-width="1.20" stroke-linecap="butt"/>
<line x1="257.10" y1="490.10" x2="257.10" y2="492.50" stroke="#000" stroke-width="1.20" stroke-linecap="butt"/>
<text x="232.30" y="389.20" text-anchor="middle" fill="#000" style='font-size:12.00px;font-weight:bold;font-style:italic;'>PDX1</text>
<text x="207.20" y="497.90" text-anchor="end" fill="#000" style='font-size:5.70px;font-weight:bold;' transform="rotate(-45.0 207.20 497.90)">shSCR</text>
<text x="224.00" y="497.90" text-anchor="end" fill="#000" style='font-size:5.70px;font-weight:bold;' transform="rotate(-45.0 224.00 497.90)">shSMAD9-1</text>
<text x="241.25" y="497.90" text-anchor="end" fill="#000" style='font-size:5.70px;font-weight:bold;' transform="rotate(-45.0 241.25 497.90)">shSMAD9-2</text>
<text x="258.10" y="497.90" text-anchor="end" fill="#000" style='font-size:5.70px;font-weight:bold;' transform="rotate(-45.0 258.10 497.90)">shSMAD9-3</text>
<rect x="96.60" y="597.90" width="11.60" height="53.00" fill="#fff"/>
<path d="M97.30 650.90 L97.30 598.60 L107.50 598.60 L107.50 650.90" stroke="#f23b3b" stroke-width="1.40" fill="none" stroke-linejoin="miter"/>
<rect x="115.40" y="625.20" width="11.20" height="25.70" fill="#fff"/>
<path d="M116.10 650.90 L116.10 625.90 L125.90 625.90 L125.90 650.90" stroke="#4747ef" stroke-width="1.40" fill="none" stroke-linejoin="miter"/>
<rect x="133.60" y="633.20" width="11.20" height="17.70" fill="#fff"/>
<path d="M134.30 650.90 L134.30 633.90 L144.10 633.90 L144.10 650.90" stroke="#4aa6ff" stroke-width="1.40" fill="none" stroke-linejoin="miter"/>
<rect x="151.90" y="640.10" width="11.20" height="10.80" fill="#fff"/>
<path d="M152.60 650.90 L152.60 640.80 L162.40 640.80 L162.40 650.90" stroke="#c2c5ff" stroke-width="1.40" fill="none" stroke-linejoin="miter"/>
<circle cx="99.00" cy="597.00" r="1.45" fill="#f23b3b"/>
<circle cx="101.50" cy="596.50" r="1.45" fill="#f23b3b"/>
<circle cx="104.00" cy="597.00" r="1.45" fill="#f23b3b"/>
<circle cx="106.50" cy="597.50" r="1.45" fill="#f23b3b"/>
<circle cx="116.50" cy="622.80" r="1.45" fill="#4747ef"/>
<circle cx="124.70" cy="624.10" r="1.45" fill="#4747ef"/>
<circle cx="121.00" cy="629.20" r="1.45" fill="#4747ef"/>
<circle cx="139.20" cy="626.80" r="1.45" fill="#4aa6ff"/>
<circle cx="139.20" cy="630.80" r="1.45" fill="#4aa6ff"/>
<circle cx="139.20" cy="641.70" r="1.45" fill="#4aa6ff"/>
<circle cx="157.50" cy="631.30" r="1.45" fill="#c2c5ff"/>
<circle cx="157.50" cy="639.60" r="1.45" fill="#c2c5ff"/>
<circle cx="157.50" cy="648.50" r="1.45" fill="#c2c5ff"/>
<line x1="121.00" y1="622.30" x2="121.00" y2="626.00" stroke="#333" stroke-width="0.70" stroke-linecap="butt"/>
<line x1="119.00" y1="622.30" x2="123.00" y2="622.30" stroke="#333" stroke-width="0.70" stroke-linecap="butt"/>
<line x1="119.00" y1="626.00" x2="123.00" y2="626.00" stroke="#333" stroke-width="0.70" stroke-linecap="butt"/>
<line x1="139.20" y1="625.50" x2="139.20" y2="640.40" stroke="#333" stroke-width="0.70" stroke-linecap="butt"/>
<line x1="137.20" y1="625.50" x2="141.20" y2="625.50" stroke="#333" stroke-width="0.70" stroke-linecap="butt"/>
<line x1="137.20" y1="640.40" x2="141.20" y2="640.40" stroke="#333" stroke-width="0.70" stroke-linecap="butt"/>
<line x1="157.50" y1="631.30" x2="157.50" y2="648.20" stroke="#333" stroke-width="0.70" stroke-linecap="butt"/>
<line x1="155.50" y1="631.30" x2="159.50" y2="631.30" stroke="#333" stroke-width="0.70" stroke-linecap="butt"/>
<line x1="155.50" y1="648.20" x2="159.50" y2="648.20" stroke="#333" stroke-width="0.70" stroke-linecap="butt"/>
<path d="M101.80 583.40 L101.80 579.10 L122.30 579.10 L122.30 611.90" stroke="#000" stroke-width="1.20" fill="none" stroke-linejoin="miter"/>
<path d="M101.80 572.70 L101.80 568.20 L138.40 568.20 L138.40 617.20" stroke="#000" stroke-width="1.20" fill="none" stroke-linejoin="miter"/>
<path d="M101.80 560.50 L101.80 556.60 L157.50 556.60 L157.50 617.20" stroke="#000" stroke-width="1.20" fill="none" stroke-linejoin="miter"/>
<text x="111.64" y="579.88" text-anchor="middle" fill="#000" style='font-size:12.11px;font-weight:bold;'>*</text>
<text x="118.54" y="567.48" text-anchor="middle" fill="#000" style='font-size:12.11px;font-weight:bold;'>*</text>
<text x="128.94" y="555.48" text-anchor="middle" fill="#000" style='font-size:12.11px;font-weight:bold;'>*</text>
<line x1="90.50" y1="571.60" x2="90.50" y2="651.50" stroke="#000" stroke-width="1.20" stroke-linecap="butt"/>
<line x1="87.30" y1="650.90" x2="90.50" y2="650.90" stroke="#000" stroke-width="1.20" stroke-linecap="butt"/>
<text x="86.40" y="652.92" text-anchor="end" fill="#000" style='font-size:5.60px;font-weight:bold;'>0.0</text>
<line x1="87.30" y1="624.67" x2="90.50" y2="624.67" stroke="#000" stroke-width="1.20" stroke-linecap="butt"/>
<text x="86.40" y="626.68" text-anchor="end" fill="#000" style='font-size:5.60px;font-weight:bold;'>0.5</text>
<line x1="87.30" y1="598.43" x2="90.50" y2="598.43" stroke="#000" stroke-width="1.20" stroke-linecap="butt"/>
<text x="86.40" y="600.45" text-anchor="end" fill="#000" style='font-size:5.60px;font-weight:bold;'>1.0</text>
<line x1="87.30" y1="572.20" x2="90.50" y2="572.20" stroke="#000" stroke-width="1.20" stroke-linecap="butt"/>
<text x="86.40" y="574.22" text-anchor="end" fill="#000" style='font-size:5.60px;font-weight:bold;'>1.5</text>
<line x1="89.90" y1="650.90" x2="169.20" y2="650.90" stroke="#000" stroke-width="1.20" stroke-linecap="butt"/>
<line x1="102.40" y1="650.90" x2="102.40" y2="653.30" stroke="#000" stroke-width="1.20" stroke-linecap="butt"/>
<line x1="121.00" y1="650.90" x2="121.00" y2="653.30" stroke="#000" stroke-width="1.20" stroke-linecap="butt"/>
<line x1="139.20" y1="650.90" x2="139.20" y2="653.30" stroke="#000" stroke-width="1.20" stroke-linecap="butt"/>
<line x1="157.50" y1="650.90" x2="157.50" y2="653.30" stroke="#000" stroke-width="1.20" stroke-linecap="butt"/>
<text x="121.80" y="541.20" text-anchor="middle" fill="#000" style='font-size:12.00px;font-weight:bold;font-style:italic;'>INS</text>
<text x="103.40" y="658.70" text-anchor="end" fill="#000" style='font-size:5.70px;font-weight:bold;' transform="rotate(-45.0 103.40 658.70)">shSCR</text>
<text x="122.00" y="658.70" text-anchor="end" fill="#000" style='font-size:5.70px;font-weight:bold;' transform="rotate(-45.0 122.00 658.70)">shSMAD9-1</text>
<text x="140.20" y="658.70" text-anchor="end" fill="#000" style='font-size:5.70px;font-weight:bold;' transform="rotate(-45.0 140.20 658.70)">shSMAD9-2</text>
<text x="158.50" y="658.70" text-anchor="end" fill="#000" style='font-size:5.70px;font-weight:bold;' transform="rotate(-45.0 158.50 658.70)">shSMAD9-3</text>
<rect x="202.90" y="597.90" width="11.30" height="53.00" fill="#fff"/>
<path d="M203.60 650.90 L203.60 598.60 L213.50 598.60 L213.50 650.90" stroke="#f23b3b" stroke-width="1.40" fill="none" stroke-linejoin="miter"/>
<rect x="221.40" y="631.30" width="11.20" height="19.60" fill="#fff"/>
<path d="M222.10 650.90 L222.10 632.00 L231.90 632.00 L231.90 650.90" stroke="#4747ef" stroke-width="1.40" fill="none" stroke-linejoin="miter"/>
<rect x="239.50" y="636.00" width="11.30" height="14.90" fill="#fff"/>
<path d="M240.20 650.90 L240.20 636.70 L250.10 636.70 L250.10 650.90" stroke="#4aa6ff" stroke-width="1.40" fill="none" stroke-linejoin="miter"/>
<rect x="257.80" y="639.20" width="11.40" height="11.70" fill="#fff"/>
<path d="M258.50 650.90 L258.50 639.90 L268.50 639.90 L268.50 650.90" stroke="#c2c5ff" stroke-width="1.40" fill="none" stroke-linejoin="miter"/>
<circle cx="205.50" cy="597.00" r="1.45" fill="#f23b3b"/>
<circle cx="208.00" cy="596.50" r="1.45" fill="#f23b3b"/>
<circle cx="210.50" cy="597.00" r="1.45" fill="#f23b3b"/>
<circle cx="212.50" cy="597.50" r="1.45" fill="#f23b3b"/>
<circle cx="227.00" cy="621.20" r="1.45" fill="#4747ef"/>
<circle cx="227.00" cy="630.80" r="1.45" fill="#4747ef"/>
<circle cx="227.00" cy="641.20" r="1.45" fill="#4747ef"/>
<circle cx="245.20" cy="621.20" r="1.45" fill="#4aa6ff"/>
<circle cx="240.70" cy="643.30" r="1.45" fill="#4aa6ff"/>
<circle cx="250.00" cy="642.00" r="1.45" fill="#4aa6ff"/>
<circle cx="263.60" cy="628.70" r="1.45" fill="#c2c5ff"/>
<circle cx="263.60" cy="639.60" r="1.45" fill="#c2c5ff"/>
<circle cx="263.60" cy="648.00" r="1.45" fill="#c2c5ff"/>
<line x1="227.00" y1="621.20" x2="227.00" y2="641.50" stroke="#333" stroke-width="0.70" stroke-linecap="butt"/>
<line x1="225.00" y1="621.20" x2="229.00" y2="621.20" stroke="#333" stroke-width="0.70" stroke-linecap="butt"/>
<line x1="225.00" y1="641.50" x2="229.00" y2="641.50" stroke="#333" stroke-width="0.70" stroke-linecap="butt"/>
<line x1="245.20" y1="623.30" x2="245.20" y2="648.00" stroke="#333" stroke-width="0.70" stroke-linecap="butt"/>
<line x1="243.20" y1="623.30" x2="247.20" y2="623.30" stroke="#333" stroke-width="0.70" stroke-linecap="butt"/>
<line x1="243.20" y1="648.00" x2="247.20" y2="648.00" stroke="#333" stroke-width="0.70" stroke-linecap="butt"/>
<line x1="263.50" y1="629.20" x2="263.50" y2="648.00" stroke="#333" stroke-width="0.70" stroke-linecap="butt"/>
<line x1="261.50" y1="629.20" x2="265.50" y2="629.20" stroke="#333" stroke-width="0.70" stroke-linecap="butt"/>
<line x1="261.50" y1="648.00" x2="265.50" y2="648.00" stroke="#333" stroke-width="0.70" stroke-linecap="butt"/>
<path d="M209.00 585.50 L209.00 581.00 L227.50 581.00 L227.50 612.30" stroke="#000" stroke-width="1.20" fill="none" stroke-linejoin="miter"/>
<path d="M209.00 576.20 L209.00 569.50 L245.20 569.50 L245.20 612.80" stroke="#000" stroke-width="1.20" fill="none" stroke-linejoin="miter"/>
<path d="M209.00 562.60 L209.00 557.70 L263.60 557.70 L263.60 621.50" stroke="#000" stroke-width="1.20" fill="none" stroke-linejoin="miter"/>
<text x="218.64" y="582.28" text-anchor="middle" fill="#000" style='font-size:12.11px;font-weight:bold;'>*</text>
<text x="227.44" y="570.28" text-anchor="middle" fill="#000" style='font-size:12.11px;font-weight:bold;'>*</text>
<text x="235.44" y="557.08" text-anchor="middle" fill="#000" style='font-size:12.11px;font-weight:bold;'>*</text>
<line x1="196.20" y1="571.60" x2="196.20" y2="651.50" stroke="#000" stroke-width="1.20" stroke-linecap="butt"/>
<line x1="193.00" y1="650.90" x2="196.20" y2="650.90" stroke="#000" stroke-width="1.20" stroke-linecap="butt"/>
<text x="192.10" y="652.92" text-anchor="end" fill="#000" style='font-size:5.60px;font-weight:bold;'>0.0</text>
<line x1="193.00" y1="624.67" x2="196.20" y2="624.67" stroke="#000" stroke-width="1.20" stroke-linecap="butt"/>
<text x="192.10" y="626.68" text-anchor="end" fill="#000" style='font-size:5.60px;font-weight:bold;'>0.5</text>
<line x1="193.00" y1="598.43" x2="196.20" y2="598.43" stroke="#000" stroke-width="1.20" stroke-linecap="butt"/>
<text x="192.10" y="600.45" text-anchor="end" fill="#000" style='font-size:5.60px;font-weight:bold;'>1.0</text>
<line x1="193.00" y1="572.20" x2="196.20" y2="572.20" stroke="#000" stroke-width="1.20" stroke-linecap="butt"/>
<text x="192.10" y="574.22" text-anchor="end" fill="#000" style='font-size:5.60px;font-weight:bold;'>1.5</text>
<line x1="195.60" y1="650.90" x2="275.20" y2="650.90" stroke="#000" stroke-width="1.20" stroke-linecap="butt"/>
<line x1="208.55" y1="650.90" x2="208.55" y2="653.30" stroke="#000" stroke-width="1.20" stroke-linecap="butt"/>
<line x1="227.00" y1="650.90" x2="227.00" y2="653.30" stroke="#000" stroke-width="1.20" stroke-linecap="butt"/>
<line x1="245.15" y1="650.90" x2="245.15" y2="653.30" stroke="#000" stroke-width="1.20" stroke-linecap="butt"/>
<line x1="263.50" y1="650.90" x2="263.50" y2="653.30" stroke="#000" stroke-width="1.20" stroke-linecap="butt"/>
<text x="236.00" y="541.20" text-anchor="middle" fill="#000" style='font-size:12.00px;font-weight:bold;font-style:italic;'>NKX6.1</text>
<text x="209.55" y="658.70" text-anchor="end" fill="#000" style='font-size:5.70px;font-weight:bold;' transform="rotate(-45.0 209.55 658.70)">shSCR</text>
<text x="228.00" y="658.70" text-anchor="end" fill="#000" style='font-size:5.70px;font-weight:bold;' transform="rotate(-45.0 228.00 658.70)">shSMAD9-1</text>
<text x="246.15" y="658.70" text-anchor="end" fill="#000" style='font-size:5.70px;font-weight:bold;' transform="rotate(-45.0 246.15 658.70)">shSMAD9-2</text>
<text x="264.50" y="658.70" text-anchor="end" fill="#000" style='font-size:5.70px;font-weight:bold;' transform="rotate(-45.0 264.50 658.70)">shSMAD9-3</text>
<text x="412.50" y="406.00" text-anchor="middle" fill="#111" style='font-size:6.40px;font-weight:bold;'>shSCR</text>
<text x="448.00" y="406.00" text-anchor="middle" fill="#111" style='font-size:6.40px;font-weight:bold;'>SMAD9-1</text>
<text x="486.00" y="406.00" text-anchor="middle" fill="#111" style='font-size:6.40px;font-weight:bold;'>SMAD9-2</text>
<text x="522.70" y="406.00" text-anchor="middle" fill="#111" style='font-size:6.40px;font-weight:bold;'>SMAD9-3</text>
<text x="383.60" y="420.20" text-anchor="middle" fill="#000" style='font-size:7.60px;font-weight:bold;'>SMAD9</text>
<text x="384.10" y="438.20" text-anchor="middle" fill="#000" style='font-size:7.60px;font-weight:bold;'>Vinculin</text>
<path d="M401.8 414.7 Q417.2 414.1 432.6 414.7 L432.6 419.9 Q417.2 420.5 401.8 419.9 Z" fill="#1c1c1c" filter="url(#blur2)"/>
<path d="M435.0 415.8 Q450.5 415.2 466.0 415.8 L466.0 419.8 Q450.5 420.4 435.0 419.8 Z" fill="#d6d6d6" filter="url(#blur2)"/>
<path d="M471.5 414.0 Q486.1 413.4 500.6 414.0 L500.6 419.0 Q486.1 419.6 471.5 419.0 Z" fill="#b5b5b5" filter="url(#blur2)"/>
<path d="M508.0 415.8 Q522.0 415.1 536.0 415.8 L536.0 419.2 Q522.0 419.9 508.0 419.2 Z" fill="#ececec" filter="url(#blur2)"/>
<path d="M402.7 433.4 Q412.9 432.8 423.0 433.4 L423.0 437.8 Q412.9 438.4 402.7 437.8 Z" fill="#151515" filter="url(#blur1)"/>
<path d="M419 433.6 Q425 435 428.5 439.5 Q430.5 441.5 432.5 438.8 L432.5 436.8 Q426 433.5 419 433.1 Z" fill="#222" filter="url(#blur1)"/>
<path d="M438.7 432.1 Q451.6 431.2 464.5 431.5 L464.5 435.7 Q451.6 436.6 438.7 436.3 Z" fill="#151515" filter="url(#blur1)"/>
<path d="M472.3 432.2 Q486.1 432.0 499.8 433.0 L499.8 438.6 Q486.1 438.8 472.3 437.8 Z" fill="#050505" filter="url(#blur1)"/>
<path d="M506.7 435.0 Q521.1 434.8 535.5 435.8 L535.5 438.8 Q521.1 439.0 506.7 438.0 Z" fill="#6a6a6a" filter="url(#blur1)"/>
<text x="618.10" y="377.60" text-anchor="middle" fill="#000" style='font-size:8.90px;font-weight:bold;'>SMAD9 protein at D35</text>
<text x="553.60" y="441.00" text-anchor="middle" fill="#000" style='font-size:7.60px;font-weight:bold;' transform="rotate(-90.0 553.60 441.00)">Net ratio of SMAD9 over loading</text>
<text x="562.00" y="446.50" text-anchor="middle" fill="#000" style='font-size:7.60px;font-weight:bold;' transform="rotate(-90.0 562.00 446.50)">control normalized to shSCR</text>
<rect x="590.20" y="439.40" width="11.20" height="51.30" fill="#ff6b6b"/>
<path d="M590.80 490.70 L590.80 440.00 L600.80 440.00 L600.80 490.70" stroke="#f03a3a" stroke-width="1.20" fill="none" stroke-linejoin="miter"/>
<rect x="607.30" y="467.00" width="11.40" height="23.70" fill="#9a9af2"/>
<path d="M607.90 490.70 L607.90 467.60 L618.10 467.60 L618.10 490.70" stroke="#4a4aee" stroke-width="1.20" fill="none" stroke-linejoin="miter"/>
<rect x="625.00" y="480.00" width="11.70" height="10.70" fill="#a6d2ff"/>
<path d="M625.60 490.70 L625.60 480.60 L636.10 480.60 L636.10 490.70" stroke="#4aa6ff" stroke-width="1.20" fill="none" stroke-linejoin="miter"/>
<rect x="642.70" y="476.90" width="11.20" height="13.80" fill="#dcdcff"/>
<path d="M643.30 490.70 L643.30 477.50 L653.30 477.50 L653.30 490.70" stroke="#c0c3ff" stroke-width="1.20" fill="none" stroke-linejoin="miter"/>
<circle cx="592.50" cy="440.00" r="1.60" fill="#f03a3a"/>
<circle cx="595.80" cy="440.00" r="1.60" fill="#f03a3a"/>
<circle cx="599.00" cy="440.00" r="1.60" fill="#f03a3a"/>
<circle cx="613.00" cy="436.60" r="1.60" fill="#4a4aee"/>
<circle cx="613.00" cy="479.50" r="1.60" fill="#4a4aee"/>
<circle cx="613.00" cy="483.50" r="1.60" fill="#4a4aee"/>
<circle cx="630.80" cy="473.30" r="1.60" fill="#4aa6ff"/>
<circle cx="630.80" cy="484.00" r="1.60" fill="#4aa6ff"/>
<circle cx="630.80" cy="486.00" r="1.60" fill="#4aa6ff"/>
<circle cx="648.30" cy="465.50" r="1.60" fill="#c0c3ff"/>
<circle cx="648.30" cy="478.00" r="1.60" fill="#c0c3ff"/>
<circle cx="648.30" cy="488.00" r="1.60" fill="#c0c3ff"/>
<line x1="613.00" y1="440.30" x2="613.00" y2="489.00" stroke="#444" stroke-width="0.60" stroke-linecap="butt"/>
<line x1="611.00" y1="440.30" x2="615.00" y2="440.30" stroke="#444" stroke-width="0.60" stroke-linecap="butt"/>
<line x1="611.00" y1="489.00" x2="615.00" y2="489.00" stroke="#444" stroke-width="0.60" stroke-linecap="butt"/>
<line x1="630.80" y1="472.80" x2="630.80" y2="486.50" stroke="#444" stroke-width="0.60" stroke-linecap="butt"/>
<line x1="628.80" y1="472.80" x2="632.80" y2="472.80" stroke="#444" stroke-width="0.60" stroke-linecap="butt"/>
<line x1="628.80" y1="486.50" x2="632.80" y2="486.50" stroke="#444" stroke-width="0.60" stroke-linecap="butt"/>
<line x1="648.30" y1="465.50" x2="648.30" y2="488.00" stroke="#444" stroke-width="0.60" stroke-linecap="butt"/>
<line x1="646.30" y1="465.50" x2="650.30" y2="465.50" stroke="#444" stroke-width="0.60" stroke-linecap="butt"/>
<line x1="646.30" y1="488.00" x2="650.30" y2="488.00" stroke="#444" stroke-width="0.60" stroke-linecap="butt"/>
<line x1="583.80" y1="414.40" x2="583.80" y2="491.20" stroke="#000" stroke-width="1.00" stroke-linecap="butt"/>
<line x1="581.60" y1="490.70" x2="583.80" y2="490.70" stroke="#000" stroke-width="1.00" stroke-linecap="butt"/>
<text x="580.80" y="492.75" text-anchor="end" fill="#000" style='font-size:5.70px;font-weight:bold;'>0.0</text>
<line x1="581.60" y1="465.43" x2="583.80" y2="465.43" stroke="#000" stroke-width="1.00" stroke-linecap="butt"/>
<text x="580.80" y="467.49" text-anchor="end" fill="#000" style='font-size:5.70px;font-weight:bold;'>0.5</text>
<line x1="581.60" y1="440.17" x2="583.80" y2="440.17" stroke="#000" stroke-width="1.00" stroke-linecap="butt"/>
<text x="580.80" y="442.22" text-anchor="end" fill="#000" style='font-size:5.70px;font-weight:bold;'>1.0</text>
<line x1="581.60" y1="414.90" x2="583.80" y2="414.90" stroke="#000" stroke-width="1.00" stroke-linecap="butt"/>
<text x="580.80" y="416.95" text-anchor="end" fill="#000" style='font-size:5.70px;font-weight:bold;'>1.5</text>
<line x1="583.30" y1="490.70" x2="660.00" y2="490.70" stroke="#000" stroke-width="1.00" stroke-linecap="butt"/>
<line x1="595.80" y1="490.70" x2="595.80" y2="492.90" stroke="#000" stroke-width="1.00" stroke-linecap="butt"/>
<line x1="613.00" y1="490.70" x2="613.00" y2="492.90" stroke="#000" stroke-width="1.00" stroke-linecap="butt"/>
<line x1="630.85" y1="490.70" x2="630.85" y2="492.90" stroke="#000" stroke-width="1.00" stroke-linecap="butt"/>
<line x1="648.30" y1="490.70" x2="648.30" y2="492.90" stroke="#000" stroke-width="1.00" stroke-linecap="butt"/>
<path d="M595.70 434.60 L595.70 427.20 L613.50 427.20 L613.50 431.40" stroke="#000" stroke-width="0.90" fill="none" stroke-linejoin="miter"/>
<text x="604.60" y="423.80" text-anchor="middle" fill="#000" style='font-size:6.20px;font-weight:normal;'>ns</text>
<path d="M595.70 418.70 L595.70 411.30 L631.00 411.30 L631.00 472.70" stroke="#000" stroke-width="1.00" fill="none" stroke-linejoin="miter"/>
<path d="M595.70 407.00 L595.70 395.40 L648.60 395.40 L648.60 465.30" stroke="#000" stroke-width="1.00" fill="none" stroke-linejoin="miter"/>
<text x="613.45" y="411.15" text-anchor="middle" fill="#000" style='font-size:10.26px;font-weight:bold;'>*</text>
<text x="621.95" y="395.15" text-anchor="middle" fill="#000" style='font-size:10.26px;font-weight:bold;'>*</text>
<text x="597.00" y="498.30" text-anchor="end" fill="#000" style='font-size:6.20px;font-weight:bold;' transform="rotate(-45.0 597.00 498.30)">shSCR</text>
<text x="614.20" y="498.30" text-anchor="end" fill="#000" style='font-size:6.20px;font-weight:bold;' transform="rotate(-45.0 614.20 498.30)">shSMAD9-1</text>
<text x="632.05" y="498.30" text-anchor="end" fill="#000" style='font-size:6.20px;font-weight:bold;' transform="rotate(-45.0 632.05 498.30)">shSMAD9-2</text>
<text x="649.50" y="498.30" text-anchor="end" fill="#000" style='font-size:6.20px;font-weight:bold;' transform="rotate(-45.0 649.50 498.30)">shSMAD9-3</text>
<text x="371.30" y="656.50" text-anchor="start" fill="#000" style='font-size:10.55px;font-weight:normal;' transform="rotate(-90.0 371.30 656.50)">% +ve cells</text>
<text x="383.40" y="656.50" text-anchor="start" fill="#000" style='font-size:10.55px;font-weight:normal;' transform="rotate(-90.0 383.40 656.50)">normalized to shSCR</text>
<line x1="387.30" y1="560.90" x2="387.30" y2="656.50" stroke="#222" stroke-width="1.00" stroke-linecap="butt"/>
<rect x="414.90" y="597.00" width="11.90" height="54.20" fill="#ffa6a6"/>
<path d="M415.55 651.20 L415.55 597.65 L426.15 597.65 L426.15 651.20" stroke="#ff6e6e" stroke-width="1.30" fill="none" stroke-linejoin="miter"/>
<rect x="433.80" y="624.10" width="12.10" height="27.10" fill="#9a9af2"/>
<path d="M434.45 651.20 L434.45 624.75 L445.25 624.75 L445.25 651.20" stroke="#2d2df0" stroke-width="1.30" fill="none" stroke-linejoin="miter"/>
<rect x="452.20" y="621.10" width="12.30" height="30.10" fill="#a9d2ff"/>
<path d="M452.85 651.20 L452.85 621.75 L463.85 621.75 L463.85 651.20" stroke="#64aef8" stroke-width="1.30" fill="none" stroke-linejoin="miter"/>
<rect x="471.00" y="642.10" width="12.20" height="9.10" fill="#c9c9ff"/>
<path d="M471.65 651.20 L471.65 642.75 L482.55 642.75 L482.55 651.20" stroke="#b3b3f3" stroke-width="1.30" fill="none" stroke-linejoin="miter"/>
<circle cx="417.50" cy="597.50" r="1.70" fill="#ff6e6e"/>
<circle cx="420.80" cy="597.50" r="1.70" fill="#ff6e6e"/>
<circle cx="424.20" cy="597.50" r="1.70" fill="#ff6e6e"/>
<circle cx="439.80" cy="606.30" r="1.70" fill="#2020ee"/>
<circle cx="439.80" cy="616.50" r="1.70" fill="#2020ee"/>
<circle cx="439.80" cy="646.00" r="1.70" fill="#2020ee"/>
<circle cx="458.30" cy="614.80" r="1.70" fill="#64aef8"/>
<circle cx="458.30" cy="618.50" r="1.70" fill="#64aef8"/>
<circle cx="458.30" cy="628.50" r="1.70" fill="#64aef8"/>
<circle cx="473.20" cy="639.30" r="1.70" fill="#b3b3f3"/>
<circle cx="481.30" cy="639.30" r="1.70" fill="#b3b3f3"/>
<circle cx="477.10" cy="648.00" r="1.70" fill="#b3b3f3"/>
<line x1="439.80" y1="603.40" x2="439.80" y2="646.00" stroke="#8a4a9a" stroke-width="0.70" stroke-linecap="butt"/>
<line x1="437.80" y1="603.40" x2="441.80" y2="603.40" stroke="#8a4a9a" stroke-width="0.70" stroke-linecap="butt"/>
<line x1="437.80" y1="646.00" x2="441.80" y2="646.00" stroke="#8a4a9a" stroke-width="0.70" stroke-linecap="butt"/>
<line x1="458.30" y1="614.50" x2="458.30" y2="628.50" stroke="#a0407a" stroke-width="0.70" stroke-linecap="butt"/>
<line x1="456.30" y1="614.50" x2="460.30" y2="614.50" stroke="#a0407a" stroke-width="0.70" stroke-linecap="butt"/>
<line x1="456.30" y1="628.50" x2="460.30" y2="628.50" stroke="#a0407a" stroke-width="0.70" stroke-linecap="butt"/>
<line x1="477.10" y1="636.30" x2="477.10" y2="647.00" stroke="#70a050" stroke-width="0.70" stroke-linecap="butt"/>
<line x1="475.10" y1="636.30" x2="479.10" y2="636.30" stroke="#70a050" stroke-width="0.70" stroke-linecap="butt"/>
<line x1="475.10" y1="647.00" x2="479.10" y2="647.00" stroke="#70a050" stroke-width="0.70" stroke-linecap="butt"/>
<path d="M420.50 591.70 L420.50 585.20 L442.00 585.20 L442.00 599.60" stroke="#000" stroke-width="1.20" fill="none" stroke-linejoin="miter"/>
<path d="M420.50 577.10 L420.50 568.90 L477.40 568.90 L477.40 630.20" stroke="#000" stroke-width="1.20" fill="none" stroke-linejoin="miter"/>
<text x="431.45" y="585.02" text-anchor="middle" fill="#000" style='font-size:10.00px;font-weight:bold;'>*</text>
<text x="449.35" y="568.72" text-anchor="middle" fill="#000" style='font-size:10.00px;font-weight:bold;'>*</text>
<line x1="408.30" y1="569.20" x2="408.30" y2="651.70" stroke="#000" stroke-width="1.00" stroke-linecap="butt"/>
<line x1="406.10" y1="651.20" x2="408.30" y2="651.20" stroke="#000" stroke-width="1.00" stroke-linecap="butt"/>
<text x="405.30" y="653.25" text-anchor="end" fill="#000" style='font-size:5.70px;font-weight:bold;'>0.0</text>
<line x1="406.10" y1="624.03" x2="408.30" y2="624.03" stroke="#000" stroke-width="1.00" stroke-linecap="butt"/>
<text x="405.30" y="626.09" text-anchor="end" fill="#000" style='font-size:5.70px;font-weight:bold;'>0.5</text>
<line x1="406.10" y1="596.87" x2="408.30" y2="596.87" stroke="#000" stroke-width="1.00" stroke-linecap="butt"/>
<text x="405.30" y="598.92" text-anchor="end" fill="#000" style='font-size:5.70px;font-weight:bold;'>1.0</text>
<line x1="406.10" y1="569.70" x2="408.30" y2="569.70" stroke="#000" stroke-width="1.00" stroke-linecap="butt"/>
<text x="405.30" y="571.75" text-anchor="end" fill="#000" style='font-size:5.70px;font-weight:bold;'>1.5</text>
<line x1="407.80" y1="651.20" x2="489.70" y2="651.20" stroke="#000" stroke-width="1.00" stroke-linecap="butt"/>
<line x1="420.85" y1="651.20" x2="420.85" y2="653.40" stroke="#000" stroke-width="1.00" stroke-linecap="butt"/>
<line x1="439.85" y1="651.20" x2="439.85" y2="653.40" stroke="#000" stroke-width="1.00" stroke-linecap="butt"/>
<line x1="458.35" y1="651.20" x2="458.35" y2="653.40" stroke="#000" stroke-width="1.00" stroke-linecap="butt"/>
<line x1="477.10" y1="651.20" x2="477.10" y2="653.40" stroke="#000" stroke-width="1.00" stroke-linecap="butt"/>
<text x="451.70" y="546.80" text-anchor="middle" fill="#000" style='font-size:10.40px;font-weight:bold;'>PDX1</text>
<text x="421.85" y="659.80" text-anchor="end" fill="#000" style='font-size:6.20px;font-weight:bold;' transform="rotate(-45.0 421.85 659.80)">shSCR</text>
<text x="440.85" y="659.80" text-anchor="end" fill="#000" style='font-size:6.20px;font-weight:bold;' transform="rotate(-45.0 440.85 659.80)">shSMAD9-1</text>
<text x="459.35" y="659.80" text-anchor="end" fill="#000" style='font-size:6.20px;font-weight:bold;' transform="rotate(-45.0 459.35 659.80)">shSMAD9-2</text>
<text x="478.10" y="659.80" text-anchor="end" fill="#000" style='font-size:6.20px;font-weight:bold;' transform="rotate(-45.0 478.10 659.80)">shSMAD9-3</text>
<rect x="515.90" y="598.70" width="11.40" height="52.50" fill="#ffa6a6"/>
<path d="M516.55 651.20 L516.55 599.35 L526.65 599.35 L526.65 651.20" stroke="#ff6e6e" stroke-width="1.30" fill="none" stroke-linejoin="miter"/>
<rect x="533.40" y="615.70" width="11.80" height="35.50" fill="#9a9af2"/>
<path d="M534.05 651.20 L534.05 616.35 L544.55 616.35 L544.55 651.20" stroke="#2d2df0" stroke-width="1.30" fill="none" stroke-linejoin="miter"/>
<rect x="551.30" y="624.10" width="11.70" height="27.10" fill="#a9d2ff"/>
<path d="M551.95 651.20 L551.95 624.75 L562.35 624.75 L562.35 651.20" stroke="#64aef8" stroke-width="1.30" fill="none" stroke-linejoin="miter"/>
<rect x="569.20" y="628.50" width="11.50" height="22.70" fill="#c9c9ff"/>
<path d="M569.85 651.20 L569.85 629.15 L580.05 629.15 L580.05 651.20" stroke="#b3b3f3" stroke-width="1.30" fill="none" stroke-linejoin="miter"/>
<circle cx="539.30" cy="604.30" r="1.70" fill="#2020ee"/>
<circle cx="539.30" cy="608.00" r="1.70" fill="#2020ee"/>
<circle cx="535.30" cy="614.70" r="1.70" fill="#2020ee"/>
<circle cx="543.40" cy="614.70" r="1.70" fill="#2020ee"/>
<circle cx="539.30" cy="625.50" r="1.70" fill="#2020ee"/>
<circle cx="539.30" cy="630.50" r="1.70" fill="#2020ee"/>
<circle cx="557.20" cy="591.50" r="1.70" fill="#64aef8"/>
<circle cx="557.20" cy="611.50" r="1.70" fill="#64aef8"/>
<circle cx="553.50" cy="631.50" r="1.70" fill="#64aef8"/>
<circle cx="560.80" cy="631.50" r="1.70" fill="#64aef8"/>
<circle cx="557.20" cy="635.50" r="1.70" fill="#64aef8"/>
<circle cx="557.20" cy="642.00" r="1.70" fill="#64aef8"/>
<circle cx="575.00" cy="607.00" r="1.70" fill="#b3b3f3"/>
<circle cx="571.00" cy="626.00" r="1.70" fill="#b3b3f3"/>
<circle cx="575.00" cy="625.50" r="1.70" fill="#b3b3f3"/>
<circle cx="579.00" cy="627.00" r="1.70" fill="#b3b3f3"/>
<circle cx="575.00" cy="634.50" r="1.70" fill="#b3b3f3"/>
<circle cx="575.00" cy="650.00" r="1.70" fill="#b3b3f3"/>
<line x1="539.30" y1="606.30" x2="539.30" y2="626.40" stroke="#8a4a9a" stroke-width="0.70" stroke-linecap="butt"/>
<line x1="537.30" y1="606.30" x2="541.30" y2="606.30" stroke="#8a4a9a" stroke-width="0.70" stroke-linecap="butt"/>
<line x1="537.30" y1="626.40" x2="541.30" y2="626.40" stroke="#8a4a9a" stroke-width="0.70" stroke-linecap="butt"/>
<line x1="557.20" y1="604.60" x2="557.20" y2="642.40" stroke="#a0407a" stroke-width="0.70" stroke-linecap="butt"/>
<line x1="555.20" y1="604.60" x2="559.20" y2="604.60" stroke="#a0407a" stroke-width="0.70" stroke-linecap="butt"/>
<line x1="555.20" y1="642.40" x2="559.20" y2="642.40" stroke="#a0407a" stroke-width="0.70" stroke-linecap="butt"/>
<line x1="575.00" y1="614.30" x2="575.00" y2="642.50" stroke="#70a050" stroke-width="0.70" stroke-linecap="butt"/>
<line x1="573.00" y1="614.30" x2="577.00" y2="614.30" stroke="#70a050" stroke-width="0.70" stroke-linecap="butt"/>
<line x1="573.00" y1="642.50" x2="577.00" y2="642.50" stroke="#70a050" stroke-width="0.70" stroke-linecap="butt"/>
<path d="M521.50 583.40 L521.50 578.50 L557.40 578.50 L557.40 583.40" stroke="#000" stroke-width="1.20" fill="none" stroke-linejoin="miter"/>
<path d="M521.50 571.90 L521.50 567.20 L576.40 567.20 L576.40 591.70" stroke="#000" stroke-width="1.20" fill="none" stroke-linejoin="miter"/>
<text x="540.25" y="578.32" text-anchor="middle" fill="#000" style='font-size:10.00px;font-weight:bold;'>*</text>
<text x="549.85" y="566.92" text-anchor="middle" fill="#000" style='font-size:10.00px;font-weight:bold;'>*</text>
<line x1="509.30" y1="572.80" x2="509.30" y2="651.70" stroke="#000" stroke-width="1.00" stroke-linecap="butt"/>
<line x1="507.10" y1="651.20" x2="509.30" y2="651.20" stroke="#000" stroke-width="1.00" stroke-linecap="butt"/>
<text x="506.30" y="653.25" text-anchor="end" fill="#000" style='font-size:5.70px;font-weight:bold;'>0.0</text>
<line x1="507.10" y1="625.23" x2="509.30" y2="625.23" stroke="#000" stroke-width="1.00" stroke-linecap="butt"/>
<text x="506.30" y="627.29" text-anchor="end" fill="#000" style='font-size:5.70px;font-weight:bold;'>0.5</text>
<line x1="507.10" y1="599.27" x2="509.30" y2="599.27" stroke="#000" stroke-width="1.00" stroke-linecap="butt"/>
<text x="506.30" y="601.32" text-anchor="end" fill="#000" style='font-size:5.70px;font-weight:bold;'>1.0</text>
<line x1="507.10" y1="573.30" x2="509.30" y2="573.30" stroke="#000" stroke-width="1.00" stroke-linecap="butt"/>
<text x="506.30" y="575.35" text-anchor="end" fill="#000" style='font-size:5.70px;font-weight:bold;'>1.5</text>
<line x1="508.80" y1="651.20" x2="587.20" y2="651.20" stroke="#000" stroke-width="1.00" stroke-linecap="butt"/>
<line x1="521.60" y1="651.20" x2="521.60" y2="653.40" stroke="#000" stroke-width="1.00" stroke-linecap="butt"/>
<line x1="539.30" y1="651.20" x2="539.30" y2="653.40" stroke="#000" stroke-width="1.00" stroke-linecap="butt"/>
<line x1="557.15" y1="651.20" x2="557.15" y2="653.40" stroke="#000" stroke-width="1.00" stroke-linecap="butt"/>
<line x1="574.95" y1="651.20" x2="574.95" y2="653.40" stroke="#000" stroke-width="1.00" stroke-linecap="butt"/>
<text x="543.40" y="546.80" text-anchor="middle" fill="#000" style='font-size:10.40px;font-weight:bold;'>INS</text>
<text x="522.60" y="659.80" text-anchor="end" fill="#000" style='font-size:6.20px;font-weight:bold;' transform="rotate(-45.0 522.60 659.80)">shSCR</text>
<text x="540.30" y="659.80" text-anchor="end" fill="#000" style='font-size:6.20px;font-weight:bold;' transform="rotate(-45.0 540.30 659.80)">shSMAD9-1</text>
<text x="558.15" y="659.80" text-anchor="end" fill="#000" style='font-size:6.20px;font-weight:bold;' transform="rotate(-45.0 558.15 659.80)">shSMAD9-2</text>
<text x="575.95" y="659.80" text-anchor="end" fill="#000" style='font-size:6.20px;font-weight:bold;' transform="rotate(-45.0 575.95 659.80)">shSMAD9-3</text>
<rect x="614.60" y="599.20" width="11.20" height="51.30" fill="#ffa6a6"/>
<path d="M615.25 650.50 L615.25 599.85 L625.15 599.85 L625.15 650.50" stroke="#ff6e6e" stroke-width="1.30" fill="none" stroke-linejoin="miter"/>
<rect x="632.20" y="620.60" width="11.50" height="29.90" fill="#9a9af2"/>
<path d="M632.85 650.50 L632.85 621.25 L643.05 621.25 L643.05 650.50" stroke="#2d2df0" stroke-width="1.30" fill="none" stroke-linejoin="miter"/>
<rect x="650.00" y="627.20" width="11.50" height="23.30" fill="#a9d2ff"/>
<path d="M650.65 650.50 L650.65 627.85 L660.85 627.85 L660.85 650.50" stroke="#64aef8" stroke-width="1.30" fill="none" stroke-linejoin="miter"/>
<rect x="667.20" y="633.30" width="11.60" height="17.20" fill="#c9c9ff"/>
<path d="M667.85 650.50 L667.85 633.95 L678.15 633.95 L678.15 650.50" stroke="#b3b3f3" stroke-width="1.30" fill="none" stroke-linejoin="miter"/>
<circle cx="638.00" cy="593.80" r="1.70" fill="#2020ee"/>
<circle cx="638.00" cy="611.00" r="1.70" fill="#2020ee"/>
<circle cx="638.00" cy="620.20" r="1.70" fill="#2020ee"/>
<circle cx="638.00" cy="626.30" r="1.70" fill="#2020ee"/>
<circle cx="638.00" cy="632.70" r="1.70" fill="#2020ee"/>
<circle cx="638.00" cy="637.50" r="1.70" fill="#2020ee"/>
<circle cx="650.80" cy="620.60" r="1.70" fill="#64aef8"/>
<circle cx="655.60" cy="619.20" r="1.70" fill="#64aef8"/>
<circle cx="659.80" cy="619.00" r="1.70" fill="#64aef8"/>
<circle cx="660.50" cy="622.00" r="1.70" fill="#64aef8"/>
<circle cx="655.60" cy="636.00" r="1.70" fill="#64aef8"/>
<circle cx="650.80" cy="623.00" r="1.70" fill="#64aef8"/>
<circle cx="669.30" cy="627.80" r="1.70" fill="#b3b3f3"/>
<circle cx="673.00" cy="620.80" r="1.70" fill="#b3b3f3"/>
<circle cx="677.50" cy="629.80" r="1.70" fill="#b3b3f3"/>
<circle cx="673.00" cy="638.60" r="1.70" fill="#b3b3f3"/>
<circle cx="673.00" cy="649.50" r="1.70" fill="#b3b3f3"/>
<line x1="638.00" y1="604.20" x2="638.00" y2="636.60" stroke="#8a4a9a" stroke-width="0.70" stroke-linecap="butt"/>
<line x1="636.00" y1="604.20" x2="640.00" y2="604.20" stroke="#8a4a9a" stroke-width="0.70" stroke-linecap="butt"/>
<line x1="636.00" y1="636.60" x2="640.00" y2="636.60" stroke="#8a4a9a" stroke-width="0.70" stroke-linecap="butt"/>
<line x1="655.60" y1="619.50" x2="655.60" y2="634.30" stroke="#a0407a" stroke-width="0.70" stroke-linecap="butt"/>
<line x1="653.60" y1="619.50" x2="657.60" y2="619.50" stroke="#a0407a" stroke-width="0.70" stroke-linecap="butt"/>
<line x1="653.60" y1="634.30" x2="657.60" y2="634.30" stroke="#a0407a" stroke-width="0.70" stroke-linecap="butt"/>
<line x1="673.00" y1="622.80" x2="673.00" y2="643.30" stroke="#70a050" stroke-width="0.70" stroke-linecap="butt"/>
<line x1="671.00" y1="622.80" x2="675.00" y2="622.80" stroke="#70a050" stroke-width="0.70" stroke-linecap="butt"/>
<line x1="671.00" y1="643.30" x2="675.00" y2="643.30" stroke="#70a050" stroke-width="0.70" stroke-linecap="butt"/>
<path d="M619.20 588.50 L619.20 583.60 L638.00 583.60 L638.00 588.00" stroke="#000" stroke-width="1.20" fill="none" stroke-linejoin="miter"/>
<path d="M619.20 575.40 L619.20 570.90 L656.20 570.90 L656.20 612.40" stroke="#000" stroke-width="1.20" fill="none" stroke-linejoin="miter"/>
<path d="M619.20 565.50 L619.20 560.60 L673.80 560.60 L673.80 615.70" stroke="#000" stroke-width="1.20" fill="none" stroke-linejoin="miter"/>
<text x="627.35" y="582.02" text-anchor="middle" fill="#000" style='font-size:10.00px;font-weight:bold;'>*</text>
<text x="637.25" y="570.02" text-anchor="middle" fill="#000" style='font-size:10.00px;font-weight:bold;'>*</text>
<text x="645.45" y="559.02" text-anchor="middle" fill="#000" style='font-size:10.00px;font-weight:bold;'>*</text>
<line x1="608.80" y1="574.00" x2="608.80" y2="651.00" stroke="#000" stroke-width="1.00" stroke-linecap="butt"/>
<line x1="606.60" y1="650.50" x2="608.80" y2="650.50" stroke="#000" stroke-width="1.00" stroke-linecap="butt"/>
<text x="605.80" y="652.55" text-anchor="end" fill="#000" style='font-size:5.70px;font-weight:bold;'>0.0</text>
<line x1="606.60" y1="625.17" x2="608.80" y2="625.17" stroke="#000" stroke-width="1.00" stroke-linecap="butt"/>
<text x="605.80" y="627.22" text-anchor="end" fill="#000" style='font-size:5.70px;font-weight:bold;'>0.5</text>
<line x1="606.60" y1="599.83" x2="608.80" y2="599.83" stroke="#000" stroke-width="1.00" stroke-linecap="butt"/>
<text x="605.80" y="601.89" text-anchor="end" fill="#000" style='font-size:5.70px;font-weight:bold;'>1.0</text>
<line x1="606.60" y1="574.50" x2="608.80" y2="574.50" stroke="#000" stroke-width="1.00" stroke-linecap="butt"/>
<text x="605.80" y="576.55" text-anchor="end" fill="#000" style='font-size:5.70px;font-weight:bold;'>1.5</text>
<line x1="608.30" y1="650.50" x2="685.50" y2="650.50" stroke="#000" stroke-width="1.00" stroke-linecap="butt"/>
<line x1="620.20" y1="650.50" x2="620.20" y2="652.70" stroke="#000" stroke-width="1.00" stroke-linecap="butt"/>
<line x1="637.95" y1="650.50" x2="637.95" y2="652.70" stroke="#000" stroke-width="1.00" stroke-linecap="butt"/>
<line x1="655.75" y1="650.50" x2="655.75" y2="652.70" stroke="#000" stroke-width="1.00" stroke-linecap="butt"/>
<line x1="673.00" y1="650.50" x2="673.00" y2="652.70" stroke="#000" stroke-width="1.00" stroke-linecap="butt"/>
<text x="640.90" y="546.80" text-anchor="middle" fill="#000" style='font-size:10.40px;font-weight:bold;'>NKX6.1</text>
<text x="621.20" y="659.10" text-anchor="end" fill="#000" style='font-size:6.20px;font-weight:bold;' transform="rotate(-45.0 621.20 659.10)">shSCR</text>
<text x="638.95" y="659.10" text-anchor="end" fill="#000" style='font-size:6.20px;font-weight:bold;' transform="rotate(-45.0 638.95 659.10)">shSMAD9-1</text>
<text x="656.75" y="659.10" text-anchor="end" fill="#000" style='font-size:6.20px;font-weight:bold;' transform="rotate(-45.0 656.75 659.10)">shSMAD9-2</text>
<text x="674.00" y="659.10" text-anchor="end" fill="#000" style='font-size:6.20px;font-weight:bold;' transform="rotate(-45.0 674.00 659.10)">shSMAD9-3</text>
<rect x="516.20" y="597.60" width="10.80" height="2.80" fill="#ff4545"/>
<rect x="614.90" y="598.20" width="10.60" height="2.80" fill="#ff4545"/>
<text x="45.40" y="879.40" text-anchor="start" fill="#000" style='font-size:10.70px;font-weight:normal;' transform="rotate(-90.0 45.40 879.40)">Total insulin content per ng of</text>
<text x="60.30" y="879.40" text-anchor="start" fill="#000" style='font-size:10.70px;font-weight:normal;' transform="rotate(-90.0 60.30 879.40)">DNA normalized to shSCR</text>
<rect x="100.90" y="783.90" width="21.70" height="94.90" fill="#fb8fa8"/>
<path d="M101.80 878.80 L101.80 784.80 L121.70 784.80 L121.70 878.80" stroke="#f0384c" stroke-width="1.80" fill="none" stroke-linejoin="miter"/>
<rect x="134.00" y="818.00" width="21.10" height="60.80" fill="#a9a9f9"/>
<path d="M134.90 878.80 L134.90 818.90 L154.20 818.90 L154.20 878.80" stroke="#5353e8" stroke-width="1.80" fill="none" stroke-linejoin="miter"/>
<rect x="166.60" y="838.10" width="21.70" height="40.70" fill="#a9d2ff"/>
<path d="M167.50 878.80 L167.50 839.00 L187.40 839.00 L187.40 878.80" stroke="#53a6f3" stroke-width="1.80" fill="none" stroke-linejoin="miter"/>
<rect x="199.30" y="872.30" width="21.90" height="6.50" fill="#cdcdff"/>
<path d="M200.20 878.80 L200.20 873.20 L220.30 873.20 L220.30 878.80" stroke="#b9b9f6" stroke-width="1.80" fill="none" stroke-linejoin="miter"/>
<circle cx="103.50" cy="784.50" r="2.60" fill="#f0384c"/>
<circle cx="111.70" cy="784.50" r="2.60" fill="#f0384c"/>
<circle cx="119.80" cy="784.50" r="2.60" fill="#f0384c"/>
<circle cx="144.40" cy="766.00" r="2.60" fill="#5353e8"/>
<circle cx="144.40" cy="829.50" r="2.60" fill="#5353e8"/>
<circle cx="144.40" cy="856.50" r="2.60" fill="#5353e8"/>
<circle cx="168.60" cy="823.50" r="2.60" fill="#53a6f3"/>
<circle cx="185.50" cy="827.00" r="2.60" fill="#53a6f3"/>
<circle cx="177.40" cy="862.60" r="2.60" fill="#53a6f3"/>
<circle cx="202.50" cy="868.50" r="2.60" fill="#b9b9f6"/>
<circle cx="218.00" cy="869.50" r="2.60" fill="#b9b9f6"/>
<circle cx="210.40" cy="876.00" r="2.60" fill="#b9b9f6"/>
<line x1="144.40" y1="771.00" x2="144.40" y2="863.50" stroke="#111" stroke-width="1.00" stroke-linecap="butt"/>
<line x1="140.90" y1="771.00" x2="147.90" y2="771.00" stroke="#111" stroke-width="1.00" stroke-linecap="butt"/>
<line x1="140.90" y1="863.50" x2="147.90" y2="863.50" stroke="#111" stroke-width="1.00" stroke-linecap="butt"/>
<line x1="177.40" y1="816.20" x2="177.40" y2="859.10" stroke="#111" stroke-width="1.00" stroke-linecap="butt"/>
<line x1="173.90" y1="816.20" x2="180.90" y2="816.20" stroke="#111" stroke-width="1.00" stroke-linecap="butt"/>
<line x1="173.90" y1="859.10" x2="180.90" y2="859.10" stroke="#111" stroke-width="1.00" stroke-linecap="butt"/>
<line x1="210.40" y1="866.50" x2="210.40" y2="876.00" stroke="#111" stroke-width="1.00" stroke-linecap="butt"/>
<line x1="206.90" y1="866.50" x2="213.90" y2="866.50" stroke="#111" stroke-width="1.00" stroke-linecap="butt"/>
<line x1="206.90" y1="876.00" x2="213.90" y2="876.00" stroke="#111" stroke-width="1.00" stroke-linecap="butt"/>
<line x1="90.40" y1="735.65" x2="90.40" y2="879.75" stroke="#000" stroke-width="1.90" stroke-linecap="butt"/>
<line x1="85.20" y1="878.80" x2="90.40" y2="878.80" stroke="#000" stroke-width="1.90" stroke-linecap="butt"/>
<text x="83.20" y="882.65" text-anchor="end" fill="#000" style='font-size:10.70px;font-weight:bold;'>0.0</text>
<line x1="85.20" y1="831.40" x2="90.40" y2="831.40" stroke="#000" stroke-width="1.90" stroke-linecap="butt"/>
<text x="83.20" y="835.25" text-anchor="end" fill="#000" style='font-size:10.70px;font-weight:bold;'>0.5</text>
<line x1="85.20" y1="784.00" x2="90.40" y2="784.00" stroke="#000" stroke-width="1.90" stroke-linecap="butt"/>
<text x="83.20" y="787.85" text-anchor="end" fill="#000" style='font-size:10.70px;font-weight:bold;'>1.0</text>
<line x1="85.20" y1="736.60" x2="90.40" y2="736.60" stroke="#000" stroke-width="1.90" stroke-linecap="butt"/>
<text x="83.20" y="740.45" text-anchor="end" fill="#000" style='font-size:10.70px;font-weight:bold;'>1.5</text>
<line x1="89.45" y1="878.80" x2="232.80" y2="878.80" stroke="#000" stroke-width="1.90" stroke-linecap="butt"/>
<line x1="111.75" y1="878.80" x2="111.75" y2="883.30" stroke="#000" stroke-width="1.90" stroke-linecap="butt"/>
<line x1="144.55" y1="878.80" x2="144.55" y2="883.30" stroke="#000" stroke-width="1.90" stroke-linecap="butt"/>
<line x1="177.45" y1="878.80" x2="177.45" y2="883.30" stroke="#000" stroke-width="1.90" stroke-linecap="butt"/>
<line x1="210.25" y1="878.80" x2="210.25" y2="883.30" stroke="#000" stroke-width="1.90" stroke-linecap="butt"/>
<path d="M114.50 755.90 L114.50 741.80 L210.40 741.80 L210.40 843.00" stroke="#000" stroke-width="1.60" fill="none" stroke-linejoin="miter"/>
<text x="162.69" y="743.36" text-anchor="middle" fill="#000" style='font-size:22.63px;font-weight:bold;'>*</text>
<text x="113.55" y="891.50" text-anchor="end" fill="#000" style='font-size:10.50px;font-weight:bold;' transform="rotate(-45.0 113.55 891.50)">shSCR</text>
<text x="146.35" y="891.50" text-anchor="end" fill="#000" style='font-size:10.50px;font-weight:bold;' transform="rotate(-45.0 146.35 891.50)">shSMAD9-1</text>
<text x="179.25" y="891.50" text-anchor="end" fill="#000" style='font-size:10.50px;font-weight:bold;' transform="rotate(-45.0 179.25 891.50)">shSMAD9-2</text>
<text x="212.05" y="891.50" text-anchor="end" fill="#000" style='font-size:10.50px;font-weight:bold;' transform="rotate(-45.0 212.05 891.50)">shSMAD9-3</text>
<text x="147.20" y="31.00" text-anchor="middle" fill="#000" style='font-size:10.50px;font-weight:bold;'>Transcription factors upregulated in</text>
<text x="147.50" y="43.30" text-anchor="middle" fill="#000" style='font-size:10.50px;font-weight:bold;'>D20 and D35, Increasing</text>
<rect x="23.30" y="89.00" width="5.71" height="5.67" fill="#9ea1f5"/>
<rect x="28.66" y="89.00" width="5.71" height="5.67" fill="#9ea1f5"/>
<rect x="34.02" y="89.00" width="5.71" height="5.67" fill="#989bf4"/>
<rect x="39.38" y="89.00" width="5.71" height="5.67" fill="#b9bcf9"/>
<rect x="44.73" y="89.00" width="5.71" height="5.67" fill="#b2b5f8"/>
<rect x="50.09" y="89.00" width="5.71" height="5.67" fill="#b9bcf9"/>
<rect x="55.45" y="89.00" width="5.71" height="5.67" fill="#b9bcf9"/>
<rect x="60.81" y="89.00" width="5.71" height="5.67" fill="#b2b5f8"/>
<rect x="66.17" y="89.00" width="5.71" height="5.67" fill="#b9bcf9"/>
<rect x="71.53" y="89.00" width="5.71" height="5.67" fill="#b2b5f8"/>
<rect x="76.89" y="89.00" width="5.71" height="5.67" fill="#b9bcf9"/>
<rect x="82.25" y="89.00" width="5.71" height="5.67" fill="#b2b5f8"/>
<rect x="87.60" y="89.00" width="5.71" height="5.67" fill="#eaedfd"/>
<rect x="92.96" y="89.00" width="5.71" height="5.67" fill="#eaedfd"/>
<rect x="98.32" y="89.00" width="5.71" height="5.67" fill="#dcdffc"/>
<rect x="103.68" y="89.00" width="5.71" height="5.67" fill="#dcdffc"/>
<rect x="109.04" y="89.00" width="5.71" height="5.67" fill="#e3e6fc"/>
<rect x="114.40" y="89.00" width="5.71" height="5.67" fill="#f8fbfe"/>
<rect x="119.76" y="89.00" width="5.71" height="5.67" fill="#dcdffc"/>
<rect x="125.12" y="89.00" width="5.71" height="5.67" fill="#d5d8fb"/>
<rect x="130.47" y="89.00" width="5.71" height="5.67" fill="#d5d8fb"/>
<rect x="135.83" y="89.00" width="5.71" height="5.67" fill="#f8fbfe"/>
<rect x="141.19" y="89.00" width="5.71" height="5.67" fill="#e3e6fc"/>
<rect x="146.55" y="89.00" width="5.71" height="5.67" fill="#eaedfd"/>
<rect x="151.91" y="89.00" width="5.71" height="5.67" fill="#d5d8fb"/>
<rect x="157.27" y="89.00" width="5.71" height="5.67" fill="#ffffff"/>
<rect x="162.63" y="89.00" width="5.71" height="5.67" fill="#d5d8fb"/>
<rect x="167.98" y="89.00" width="5.71" height="5.67" fill="#b9bcf9"/>
<rect x="173.34" y="89.00" width="5.71" height="5.67" fill="#dcdffc"/>
<rect x="178.70" y="89.00" width="5.71" height="5.67" fill="#e3e6fc"/>
<rect x="184.06" y="89.00" width="5.71" height="5.67" fill="#e3e6fc"/>
<rect x="189.42" y="89.00" width="5.71" height="5.67" fill="#f1f4fd"/>
<rect x="194.78" y="89.00" width="5.71" height="5.67" fill="#ffffff"/>
<rect x="200.14" y="89.00" width="5.71" height="5.67" fill="#eaedfd"/>
<rect x="205.50" y="89.00" width="5.71" height="5.67" fill="#f99494"/>
<rect x="210.85" y="89.00" width="5.71" height="5.67" fill="#f99494"/>
<rect x="216.21" y="89.00" width="5.71" height="5.67" fill="#f77676"/>
<rect x="221.57" y="89.00" width="5.71" height="5.67" fill="#fbc2c2"/>
<rect x="226.93" y="89.00" width="5.71" height="5.67" fill="#f55050"/>
<rect x="232.29" y="89.00" width="5.71" height="5.67" fill="#f43939"/>
<rect x="237.65" y="89.00" width="5.71" height="5.67" fill="#f1f4fd"/>
<rect x="243.01" y="89.00" width="5.71" height="5.67" fill="#fbb3b3"/>
<rect x="248.37" y="89.00" width="5.71" height="5.67" fill="#f76e6e"/>
<rect x="253.72" y="89.00" width="5.71" height="5.67" fill="#f88585"/>
<rect x="259.08" y="89.00" width="5.71" height="5.67" fill="#f98d8d"/>
<rect x="264.44" y="89.00" width="5.71" height="5.67" fill="#f77676"/>
<rect x="23.30" y="94.32" width="5.71" height="5.67" fill="#a4a7f7"/>
<rect x="28.66" y="94.32" width="5.71" height="5.67" fill="#a4a7f7"/>
<rect x="34.02" y="94.32" width="5.71" height="5.67" fill="#a4a7f7"/>
<rect x="39.38" y="94.32" width="5.71" height="5.67" fill="#c0c3f9"/>
<rect x="44.73" y="94.32" width="5.71" height="5.67" fill="#c0c3f9"/>
<rect x="50.09" y="94.32" width="5.71" height="5.67" fill="#c0c3f9"/>
<rect x="55.45" y="94.32" width="5.71" height="5.67" fill="#d5d8fb"/>
<rect x="60.81" y="94.32" width="5.71" height="5.67" fill="#c0c3f9"/>
<rect x="66.17" y="94.32" width="5.71" height="5.67" fill="#c0c3f9"/>
<rect x="71.53" y="94.32" width="5.71" height="5.67" fill="#c0c3f9"/>
<rect x="76.89" y="94.32" width="5.71" height="5.67" fill="#c0c3f9"/>
<rect x="82.25" y="94.32" width="5.71" height="5.67" fill="#c0c3f9"/>
<rect x="87.60" y="94.32" width="5.71" height="5.67" fill="#ffffff"/>
<rect x="92.96" y="94.32" width="5.71" height="5.67" fill="#ffffff"/>
<rect x="98.32" y="94.32" width="5.71" height="5.67" fill="#b9bcf9"/>
<rect x="103.68" y="94.32" width="5.71" height="5.67" fill="#b9bcf9"/>
<rect x="109.04" y="94.32" width="5.71" height="5.67" fill="#b9bcf9"/>
<rect x="114.40" y="94.32" width="5.71" height="5.67" fill="#f1f4fd"/>
<rect x="119.76" y="94.32" width="5.71" height="5.67" fill="#dcdffc"/>
<rect x="125.12" y="94.32" width="5.71" height="5.67" fill="#dcdffc"/>
<rect x="130.47" y="94.32" width="5.71" height="5.67" fill="#dcdffc"/>
<rect x="135.83" y="94.32" width="5.71" height="5.67" fill="#fdd9d9"/>
<rect x="141.19" y="94.32" width="5.71" height="5.67" fill="#eaedfd"/>
<rect x="146.55" y="94.32" width="5.71" height="5.67" fill="#f8fbfe"/>
<rect x="151.91" y="94.32" width="5.71" height="5.67" fill="#b9bcf9"/>
<rect x="157.27" y="94.32" width="5.71" height="5.67" fill="#ced1fa"/>
<rect x="162.63" y="94.32" width="5.71" height="5.67" fill="#ced1fa"/>
<rect x="167.98" y="94.32" width="5.71" height="5.67" fill="#ced1fa"/>
<rect x="173.34" y="94.32" width="5.71" height="5.67" fill="#dcdffc"/>
<rect x="178.70" y="94.32" width="5.71" height="5.67" fill="#fef7f7"/>
<rect x="184.06" y="94.32" width="5.71" height="5.67" fill="#dcdffc"/>
<rect x="189.42" y="94.32" width="5.71" height="5.67" fill="#f1f4fd"/>
<rect x="194.78" y="94.32" width="5.71" height="5.67" fill="#eaedfd"/>
<rect x="200.14" y="94.32" width="5.71" height="5.67" fill="#f1f4fd"/>
<rect x="205.50" y="94.32" width="5.71" height="5.67" fill="#f65757"/>
<rect x="210.85" y="94.32" width="5.71" height="5.67" fill="#faa3a3"/>
<rect x="216.21" y="94.32" width="5.71" height="5.67" fill="#fbb3b3"/>
<rect x="221.57" y="94.32" width="5.71" height="5.67" fill="#eaedfd"/>
<rect x="226.93" y="94.32" width="5.71" height="5.67" fill="#fcc9c9"/>
<rect x="232.29" y="94.32" width="5.71" height="5.67" fill="#fde0e0"/>
<rect x="237.65" y="94.32" width="5.71" height="5.67" fill="#f76767"/>
<rect x="243.01" y="94.32" width="5.71" height="5.67" fill="#f31b1b"/>
<rect x="248.37" y="94.32" width="5.71" height="5.67" fill="#f32222"/>
<rect x="253.72" y="94.32" width="5.71" height="5.67" fill="#fde8e8"/>
<rect x="259.08" y="94.32" width="5.71" height="5.67" fill="#fdd9d9"/>
<rect x="264.44" y="94.32" width="5.71" height="5.67" fill="#fbc2c2"/>
<rect x="23.30" y="99.63" width="5.71" height="5.67" fill="#dcdffc"/>
<rect x="28.66" y="99.63" width="5.71" height="5.67" fill="#dcdffc"/>
<rect x="34.02" y="99.63" width="5.71" height="5.67" fill="#dcdffc"/>
<rect x="39.38" y="99.63" width="5.71" height="5.67" fill="#abaef7"/>
<rect x="44.73" y="99.63" width="5.71" height="5.67" fill="#abaef7"/>
<rect x="50.09" y="99.63" width="5.71" height="5.67" fill="#abaef7"/>
<rect x="55.45" y="99.63" width="5.71" height="5.67" fill="#abaef7"/>
<rect x="60.81" y="99.63" width="5.71" height="5.67" fill="#abaef7"/>
<rect x="66.17" y="99.63" width="5.71" height="5.67" fill="#abaef7"/>
<rect x="71.53" y="99.63" width="5.71" height="5.67" fill="#abaef7"/>
<rect x="76.89" y="99.63" width="5.71" height="5.67" fill="#abaef7"/>
<rect x="82.25" y="99.63" width="5.71" height="5.67" fill="#abaef7"/>
<rect x="87.60" y="99.63" width="5.71" height="5.67" fill="#f54848"/>
<rect x="92.96" y="99.63" width="5.71" height="5.67" fill="#f54848"/>
<rect x="98.32" y="99.63" width="5.71" height="5.67" fill="#feefef"/>
<rect x="103.68" y="99.63" width="5.71" height="5.67" fill="#fbb3b3"/>
<rect x="109.04" y="99.63" width="5.71" height="5.67" fill="#f99c9c"/>
<rect x="114.40" y="99.63" width="5.71" height="5.67" fill="#f99c9c"/>
<rect x="119.76" y="99.63" width="5.71" height="5.67" fill="#fbc2c2"/>
<rect x="125.12" y="99.63" width="5.71" height="5.67" fill="#e3e6fc"/>
<rect x="130.47" y="99.63" width="5.71" height="5.67" fill="#fcd1d1"/>
<rect x="135.83" y="99.63" width="5.71" height="5.67" fill="#fde8e8"/>
<rect x="141.19" y="99.63" width="5.71" height="5.67" fill="#fdd9d9"/>
<rect x="146.55" y="99.63" width="5.71" height="5.67" fill="#ced1fa"/>
<rect x="151.91" y="99.63" width="5.71" height="5.67" fill="#ced1fa"/>
<rect x="157.27" y="99.63" width="5.71" height="5.67" fill="#d5d8fb"/>
<rect x="162.63" y="99.63" width="5.71" height="5.67" fill="#d5d8fb"/>
<rect x="167.98" y="99.63" width="5.71" height="5.67" fill="#b2b5f8"/>
<rect x="173.34" y="99.63" width="5.71" height="5.67" fill="#b2b5f8"/>
<rect x="178.70" y="99.63" width="5.71" height="5.67" fill="#b9bcf9"/>
<rect x="184.06" y="99.63" width="5.71" height="5.67" fill="#b9bcf9"/>
<rect x="189.42" y="99.63" width="5.71" height="5.67" fill="#b9bcf9"/>
<rect x="194.78" y="99.63" width="5.71" height="5.67" fill="#c7cafa"/>
<rect x="200.14" y="99.63" width="5.71" height="5.67" fill="#b2b5f8"/>
<rect x="205.50" y="99.63" width="5.71" height="5.67" fill="#d5d8fb"/>
<rect x="210.85" y="99.63" width="5.71" height="5.67" fill="#d5d8fb"/>
<rect x="216.21" y="99.63" width="5.71" height="5.67" fill="#d5d8fb"/>
<rect x="221.57" y="99.63" width="5.71" height="5.67" fill="#f88585"/>
<rect x="226.93" y="99.63" width="5.71" height="5.67" fill="#feefef"/>
<rect x="232.29" y="99.63" width="5.71" height="5.67" fill="#f77676"/>
<rect x="237.65" y="99.63" width="5.71" height="5.67" fill="#eaedfd"/>
<rect x="243.01" y="99.63" width="5.71" height="5.67" fill="#fde8e8"/>
<rect x="248.37" y="99.63" width="5.71" height="5.67" fill="#fcc9c9"/>
<rect x="253.72" y="99.63" width="5.71" height="5.67" fill="#f77676"/>
<rect x="259.08" y="99.63" width="5.71" height="5.67" fill="#f77676"/>
<rect x="264.44" y="99.63" width="5.71" height="5.67" fill="#f76767"/>
<rect x="23.30" y="104.95" width="5.71" height="5.67" fill="#a4a7f7"/>
<rect x="28.66" y="104.95" width="5.71" height="5.67" fill="#a4a7f7"/>
<rect x="34.02" y="104.95" width="5.71" height="5.67" fill="#a4a7f7"/>
<rect x="39.38" y="104.95" width="5.71" height="5.67" fill="#b2b5f8"/>
<rect x="44.73" y="104.95" width="5.71" height="5.67" fill="#b2b5f8"/>
<rect x="50.09" y="104.95" width="5.71" height="5.67" fill="#b2b5f8"/>
<rect x="55.45" y="104.95" width="5.71" height="5.67" fill="#abaef7"/>
<rect x="60.81" y="104.95" width="5.71" height="5.67" fill="#b2b5f8"/>
<rect x="66.17" y="104.95" width="5.71" height="5.67" fill="#abaef7"/>
<rect x="71.53" y="104.95" width="5.71" height="5.67" fill="#b2b5f8"/>
<rect x="76.89" y="104.95" width="5.71" height="5.67" fill="#abaef7"/>
<rect x="82.25" y="104.95" width="5.71" height="5.67" fill="#abaef7"/>
<rect x="87.60" y="104.95" width="5.71" height="5.67" fill="#c0c3f9"/>
<rect x="92.96" y="104.95" width="5.71" height="5.67" fill="#ced1fa"/>
<rect x="98.32" y="104.95" width="5.71" height="5.67" fill="#b2b5f8"/>
<rect x="103.68" y="104.95" width="5.71" height="5.67" fill="#abaef7"/>
<rect x="109.04" y="104.95" width="5.71" height="5.67" fill="#b2b5f8"/>
<rect x="114.40" y="104.95" width="5.71" height="5.67" fill="#ffffff"/>
<rect x="119.76" y="104.95" width="5.71" height="5.67" fill="#dcdffc"/>
<rect x="125.12" y="104.95" width="5.71" height="5.67" fill="#dcdffc"/>
<rect x="130.47" y="104.95" width="5.71" height="5.67" fill="#abaef7"/>
<rect x="135.83" y="104.95" width="5.71" height="5.67" fill="#dcdffc"/>
<rect x="141.19" y="104.95" width="5.71" height="5.67" fill="#e3e6fc"/>
<rect x="146.55" y="104.95" width="5.71" height="5.67" fill="#eaedfd"/>
<rect x="151.91" y="104.95" width="5.71" height="5.67" fill="#ffffff"/>
<rect x="157.27" y="104.95" width="5.71" height="5.67" fill="#ffffff"/>
<rect x="162.63" y="104.95" width="5.71" height="5.67" fill="#feefef"/>
<rect x="167.98" y="104.95" width="5.71" height="5.67" fill="#ffffff"/>
<rect x="173.34" y="104.95" width="5.71" height="5.67" fill="#feefef"/>
<rect x="178.70" y="104.95" width="5.71" height="5.67" fill="#f88585"/>
<rect x="184.06" y="104.95" width="5.71" height="5.67" fill="#fbc2c2"/>
<rect x="189.42" y="104.95" width="5.71" height="5.67" fill="#f1f4fd"/>
<rect x="194.78" y="104.95" width="5.71" height="5.67" fill="#f1f4fd"/>
<rect x="200.14" y="104.95" width="5.71" height="5.67" fill="#f1f4fd"/>
<rect x="205.50" y="104.95" width="5.71" height="5.67" fill="#f88585"/>
<rect x="210.85" y="104.95" width="5.71" height="5.67" fill="#f88585"/>
<rect x="216.21" y="104.95" width="5.71" height="5.67" fill="#f88585"/>
<rect x="221.57" y="104.95" width="5.71" height="5.67" fill="#d5d8fb"/>
<rect x="226.93" y="104.95" width="5.71" height="5.67" fill="#fbc2c2"/>
<rect x="232.29" y="104.95" width="5.71" height="5.67" fill="#fbb3b3"/>
<rect x="237.65" y="104.95" width="5.71" height="5.67" fill="#fcd1d1"/>
<rect x="243.01" y="104.95" width="5.71" height="5.67" fill="#f99494"/>
<rect x="248.37" y="104.95" width="5.71" height="5.67" fill="#f99494"/>
<rect x="253.72" y="104.95" width="5.71" height="5.67" fill="#f76767"/>
<rect x="259.08" y="104.95" width="5.71" height="5.67" fill="#f99c9c"/>
<rect x="264.44" y="104.95" width="5.71" height="5.67" fill="#f32a2a"/>
<rect x="23.30" y="110.27" width="5.71" height="5.67" fill="#a4a7f7"/>
<rect x="28.66" y="110.27" width="5.71" height="5.67" fill="#a4a7f7"/>
<rect x="34.02" y="110.27" width="5.71" height="5.67" fill="#a4a7f7"/>
<rect x="39.38" y="110.27" width="5.71" height="5.67" fill="#b2b5f8"/>
<rect x="44.73" y="110.27" width="5.71" height="5.67" fill="#9295f3"/>
<rect x="50.09" y="110.27" width="5.71" height="5.67" fill="#8c8ff2"/>
<rect x="55.45" y="110.27" width="5.71" height="5.67" fill="#a4a7f7"/>
<rect x="60.81" y="110.27" width="5.71" height="5.67" fill="#989bf4"/>
<rect x="66.17" y="110.27" width="5.71" height="5.67" fill="#abaef7"/>
<rect x="71.53" y="110.27" width="5.71" height="5.67" fill="#abaef7"/>
<rect x="76.89" y="110.27" width="5.71" height="5.67" fill="#abaef7"/>
<rect x="82.25" y="110.27" width="5.71" height="5.67" fill="#abaef7"/>
<rect x="87.60" y="110.27" width="5.71" height="5.67" fill="#f65757"/>
<rect x="92.96" y="110.27" width="5.71" height="5.67" fill="#f76767"/>
<rect x="98.32" y="110.27" width="5.71" height="5.67" fill="#fde0e0"/>
<rect x="103.68" y="110.27" width="5.71" height="5.67" fill="#f99c9c"/>
<rect x="109.04" y="110.27" width="5.71" height="5.67" fill="#f55050"/>
<rect x="114.40" y="110.27" width="5.71" height="5.67" fill="#f98d8d"/>
<rect x="119.76" y="110.27" width="5.71" height="5.67" fill="#feefef"/>
<rect x="125.12" y="110.27" width="5.71" height="5.67" fill="#ffffff"/>
<rect x="130.47" y="110.27" width="5.71" height="5.67" fill="#feefef"/>
<rect x="135.83" y="110.27" width="5.71" height="5.67" fill="#fdd9d9"/>
<rect x="141.19" y="110.27" width="5.71" height="5.67" fill="#fde0e0"/>
<rect x="146.55" y="110.27" width="5.71" height="5.67" fill="#ced1fa"/>
<rect x="151.91" y="110.27" width="5.71" height="5.67" fill="#c7cafa"/>
<rect x="157.27" y="110.27" width="5.71" height="5.67" fill="#c7cafa"/>
<rect x="162.63" y="110.27" width="5.71" height="5.67" fill="#ffffff"/>
<rect x="167.98" y="110.27" width="5.71" height="5.67" fill="#9ea1f5"/>
<rect x="173.34" y="110.27" width="5.71" height="5.67" fill="#9ea1f5"/>
<rect x="178.70" y="110.27" width="5.71" height="5.67" fill="#9ea1f5"/>
<rect x="184.06" y="110.27" width="5.71" height="5.67" fill="#eaedfd"/>
<rect x="189.42" y="110.27" width="5.71" height="5.67" fill="#ffffff"/>
<rect x="194.78" y="110.27" width="5.71" height="5.67" fill="#ffffff"/>
<rect x="200.14" y="110.27" width="5.71" height="5.67" fill="#f8fbfe"/>
<rect x="205.50" y="110.27" width="5.71" height="5.67" fill="#ffffff"/>
<rect x="210.85" y="110.27" width="5.71" height="5.67" fill="#ffffff"/>
<rect x="216.21" y="110.27" width="5.71" height="5.67" fill="#fcd1d1"/>
<rect x="221.57" y="110.27" width="5.71" height="5.67" fill="#f43939"/>
<rect x="226.93" y="110.27" width="5.71" height="5.67" fill="#f98d8d"/>
<rect x="232.29" y="110.27" width="5.71" height="5.67" fill="#fde8e8"/>
<rect x="237.65" y="110.27" width="5.71" height="5.67" fill="#fdd9d9"/>
<rect x="243.01" y="110.27" width="5.71" height="5.67" fill="#fcd1d1"/>
<rect x="248.37" y="110.27" width="5.71" height="5.67" fill="#f87d7d"/>
<rect x="253.72" y="110.27" width="5.71" height="5.67" fill="#eaedfd"/>
<rect x="259.08" y="110.27" width="5.71" height="5.67" fill="#fde8e8"/>
<rect x="264.44" y="110.27" width="5.71" height="5.67" fill="#ffffff"/>
<rect x="23.30" y="115.58" width="5.71" height="5.67" fill="#a4a7f7"/>
<rect x="28.66" y="115.58" width="5.71" height="5.67" fill="#a4a7f7"/>
<rect x="34.02" y="115.58" width="5.71" height="5.67" fill="#9295f3"/>
<rect x="39.38" y="115.58" width="5.71" height="5.67" fill="#c7cafa"/>
<rect x="44.73" y="115.58" width="5.71" height="5.67" fill="#b9bcf9"/>
<rect x="50.09" y="115.58" width="5.71" height="5.67" fill="#ced1fa"/>
<rect x="55.45" y="115.58" width="5.71" height="5.67" fill="#d5d8fb"/>
<rect x="60.81" y="115.58" width="5.71" height="5.67" fill="#b9bcf9"/>
<rect x="66.17" y="115.58" width="5.71" height="5.67" fill="#eaedfd"/>
<rect x="71.53" y="115.58" width="5.71" height="5.67" fill="#d5d8fb"/>
<rect x="76.89" y="115.58" width="5.71" height="5.67" fill="#b9bcf9"/>
<rect x="82.25" y="115.58" width="5.71" height="5.67" fill="#f1f4fd"/>
<rect x="87.60" y="115.58" width="5.71" height="5.67" fill="#fbc2c2"/>
<rect x="92.96" y="115.58" width="5.71" height="5.67" fill="#ffffff"/>
<rect x="98.32" y="115.58" width="5.71" height="5.67" fill="#ffffff"/>
<rect x="103.68" y="115.58" width="5.71" height="5.67" fill="#ffffff"/>
<rect x="109.04" y="115.58" width="5.71" height="5.67" fill="#f77676"/>
<rect x="114.40" y="115.58" width="5.71" height="5.67" fill="#f77676"/>
<rect x="119.76" y="115.58" width="5.71" height="5.67" fill="#dcdffc"/>
<rect x="125.12" y="115.58" width="5.71" height="5.67" fill="#ced1fa"/>
<rect x="130.47" y="115.58" width="5.71" height="5.67" fill="#ced1fa"/>
<rect x="135.83" y="115.58" width="5.71" height="5.67" fill="#dcdffc"/>
<rect x="141.19" y="115.58" width="5.71" height="5.67" fill="#e3e6fc"/>
<rect x="146.55" y="115.58" width="5.71" height="5.67" fill="#f8fbfe"/>
<rect x="151.91" y="115.58" width="5.71" height="5.67" fill="#c7cafa"/>
<rect x="157.27" y="115.58" width="5.71" height="5.67" fill="#c0c3f9"/>
<rect x="162.63" y="115.58" width="5.71" height="5.67" fill="#c0c3f9"/>
<rect x="167.98" y="115.58" width="5.71" height="5.67" fill="#b9bcf9"/>
<rect x="173.34" y="115.58" width="5.71" height="5.67" fill="#fcd1d1"/>
<rect x="178.70" y="115.58" width="5.71" height="5.67" fill="#c7cafa"/>
<rect x="184.06" y="115.58" width="5.71" height="5.67" fill="#c7cafa"/>
<rect x="189.42" y="115.58" width="5.71" height="5.67" fill="#fdd9d9"/>
<rect x="194.78" y="115.58" width="5.71" height="5.67" fill="#fbc2c2"/>
<rect x="200.14" y="115.58" width="5.71" height="5.67" fill="#ced1fa"/>
<rect x="205.50" y="115.58" width="5.71" height="5.67" fill="#f65757"/>
<rect x="210.85" y="115.58" width="5.71" height="5.67" fill="#fcc9c9"/>
<rect x="216.21" y="115.58" width="5.71" height="5.67" fill="#faa3a3"/>
<rect x="221.57" y="115.58" width="5.71" height="5.67" fill="#ffffff"/>
<rect x="226.93" y="115.58" width="5.71" height="5.67" fill="#eaedfd"/>
<rect x="232.29" y="115.58" width="5.71" height="5.67" fill="#f8fbfe"/>
<rect x="237.65" y="115.58" width="5.71" height="5.67" fill="#eaedfd"/>
<rect x="243.01" y="115.58" width="5.71" height="5.67" fill="#f32a2a"/>
<rect x="248.37" y="115.58" width="5.71" height="5.67" fill="#fde0e0"/>
<rect x="253.72" y="115.58" width="5.71" height="5.67" fill="#fcd1d1"/>
<rect x="259.08" y="115.58" width="5.71" height="5.67" fill="#f87d7d"/>
<rect x="264.44" y="115.58" width="5.71" height="5.67" fill="#e3e6fc"/>
<rect x="23.30" y="120.90" width="5.71" height="5.67" fill="#a4a7f7"/>
<rect x="28.66" y="120.90" width="5.71" height="5.67" fill="#a4a7f7"/>
<rect x="34.02" y="120.90" width="5.71" height="5.67" fill="#a4a7f7"/>
<rect x="39.38" y="120.90" width="5.71" height="5.67" fill="#abaef7"/>
<rect x="44.73" y="120.90" width="5.71" height="5.67" fill="#abaef7"/>
<rect x="50.09" y="120.90" width="5.71" height="5.67" fill="#abaef7"/>
<rect x="55.45" y="120.90" width="5.71" height="5.67" fill="#abaef7"/>
<rect x="60.81" y="120.90" width="5.71" height="5.67" fill="#abaef7"/>
<rect x="66.17" y="120.90" width="5.71" height="5.67" fill="#b2b5f8"/>
<rect x="71.53" y="120.90" width="5.71" height="5.67" fill="#b2b5f8"/>
<rect x="76.89" y="120.90" width="5.71" height="5.67" fill="#abaef7"/>
<rect x="82.25" y="120.90" width="5.71" height="5.67" fill="#abaef7"/>
<rect x="87.60" y="120.90" width="5.71" height="5.67" fill="#f98d8d"/>
<rect x="92.96" y="120.90" width="5.71" height="5.67" fill="#f54848"/>
<rect x="98.32" y="120.90" width="5.71" height="5.67" fill="#c7cafa"/>
<rect x="103.68" y="120.90" width="5.71" height="5.67" fill="#e3e6fc"/>
<rect x="109.04" y="120.90" width="5.71" height="5.67" fill="#c0c3f9"/>
<rect x="114.40" y="120.90" width="5.71" height="5.67" fill="#fcc9c9"/>
<rect x="119.76" y="120.90" width="5.71" height="5.67" fill="#fde8e8"/>
<rect x="125.12" y="120.90" width="5.71" height="5.67" fill="#e3e6fc"/>
<rect x="130.47" y="120.90" width="5.71" height="5.67" fill="#fdd9d9"/>
<rect x="135.83" y="120.90" width="5.71" height="5.67" fill="#f76767"/>
<rect x="141.19" y="120.90" width="5.71" height="5.67" fill="#f76767"/>
<rect x="146.55" y="120.90" width="5.71" height="5.67" fill="#b9bcf9"/>
<rect x="151.91" y="120.90" width="5.71" height="5.67" fill="#feefef"/>
<rect x="157.27" y="120.90" width="5.71" height="5.67" fill="#b9bcf9"/>
<rect x="162.63" y="120.90" width="5.71" height="5.67" fill="#b2b5f8"/>
<rect x="167.98" y="120.90" width="5.71" height="5.67" fill="#b2b5f8"/>
<rect x="173.34" y="120.90" width="5.71" height="5.67" fill="#ffffff"/>
<rect x="178.70" y="120.90" width="5.71" height="5.67" fill="#ced1fa"/>
<rect x="184.06" y="120.90" width="5.71" height="5.67" fill="#f1f4fd"/>
<rect x="189.42" y="120.90" width="5.71" height="5.67" fill="#c0c3f9"/>
<rect x="194.78" y="120.90" width="5.71" height="5.67" fill="#f1f4fd"/>
<rect x="200.14" y="120.90" width="5.71" height="5.67" fill="#dcdffc"/>
<rect x="205.50" y="120.90" width="5.71" height="5.67" fill="#f99c9c"/>
<rect x="210.85" y="120.90" width="5.71" height="5.67" fill="#eaedfd"/>
<rect x="216.21" y="120.90" width="5.71" height="5.67" fill="#e3e6fc"/>
<rect x="221.57" y="120.90" width="5.71" height="5.67" fill="#ffffff"/>
<rect x="226.93" y="120.90" width="5.71" height="5.67" fill="#c7cafa"/>
<rect x="232.29" y="120.90" width="5.71" height="5.67" fill="#fef7f7"/>
<rect x="237.65" y="120.90" width="5.71" height="5.67" fill="#f43131"/>
<rect x="243.01" y="120.90" width="5.71" height="5.67" fill="#fde8e8"/>
<rect x="248.37" y="120.90" width="5.71" height="5.67" fill="#fde8e8"/>
<rect x="253.72" y="120.90" width="5.71" height="5.67" fill="#faabab"/>
<rect x="259.08" y="120.90" width="5.71" height="5.67" fill="#f32a2a"/>
<rect x="264.44" y="120.90" width="5.71" height="5.67" fill="#fde8e8"/>
<rect x="23.30" y="126.22" width="5.71" height="5.67" fill="#a4a7f7"/>
<rect x="28.66" y="126.22" width="5.71" height="5.67" fill="#a4a7f7"/>
<rect x="34.02" y="126.22" width="5.71" height="5.67" fill="#a4a7f7"/>
<rect x="39.38" y="126.22" width="5.71" height="5.67" fill="#dcdffc"/>
<rect x="44.73" y="126.22" width="5.71" height="5.67" fill="#c7cafa"/>
<rect x="50.09" y="126.22" width="5.71" height="5.67" fill="#c7cafa"/>
<rect x="55.45" y="126.22" width="5.71" height="5.67" fill="#c7cafa"/>
<rect x="60.81" y="126.22" width="5.71" height="5.67" fill="#c7cafa"/>
<rect x="66.17" y="126.22" width="5.71" height="5.67" fill="#c7cafa"/>
<rect x="71.53" y="126.22" width="5.71" height="5.67" fill="#d5d8fb"/>
<rect x="76.89" y="126.22" width="5.71" height="5.67" fill="#dcdffc"/>
<rect x="82.25" y="126.22" width="5.71" height="5.67" fill="#ced1fa"/>
<rect x="87.60" y="126.22" width="5.71" height="5.67" fill="#e3e6fc"/>
<rect x="92.96" y="126.22" width="5.71" height="5.67" fill="#dcdffc"/>
<rect x="98.32" y="126.22" width="5.71" height="5.67" fill="#dcdffc"/>
<rect x="103.68" y="126.22" width="5.71" height="5.67" fill="#dcdffc"/>
<rect x="109.04" y="126.22" width="5.71" height="5.67" fill="#dcdffc"/>
<rect x="114.40" y="126.22" width="5.71" height="5.67" fill="#f43939"/>
<rect x="119.76" y="126.22" width="5.71" height="5.67" fill="#feefef"/>
<rect x="125.12" y="126.22" width="5.71" height="5.67" fill="#fde8e8"/>
<rect x="130.47" y="126.22" width="5.71" height="5.67" fill="#ffffff"/>
<rect x="135.83" y="126.22" width="5.71" height="5.67" fill="#dcdffc"/>
<rect x="141.19" y="126.22" width="5.71" height="5.67" fill="#eaedfd"/>
<rect x="146.55" y="126.22" width="5.71" height="5.67" fill="#ced1fa"/>
<rect x="151.91" y="126.22" width="5.71" height="5.67" fill="#ced1fa"/>
<rect x="157.27" y="126.22" width="5.71" height="5.67" fill="#d5d8fb"/>
<rect x="162.63" y="126.22" width="5.71" height="5.67" fill="#fbc2c2"/>
<rect x="167.98" y="126.22" width="5.71" height="5.67" fill="#f8fbfe"/>
<rect x="173.34" y="126.22" width="5.71" height="5.67" fill="#f8fbfe"/>
<rect x="178.70" y="126.22" width="5.71" height="5.67" fill="#eaedfd"/>
<rect x="184.06" y="126.22" width="5.71" height="5.67" fill="#ffffff"/>
<rect x="189.42" y="126.22" width="5.71" height="5.67" fill="#ced1fa"/>
<rect x="194.78" y="126.22" width="5.71" height="5.67" fill="#dcdffc"/>
<rect x="200.14" y="126.22" width="5.71" height="5.67" fill="#ced1fa"/>
<rect x="205.50" y="126.22" width="5.71" height="5.67" fill="#f99c9c"/>
<rect x="210.85" y="126.22" width="5.71" height="5.67" fill="#f76e6e"/>
<rect x="216.21" y="126.22" width="5.71" height="5.67" fill="#f76e6e"/>
<rect x="221.57" y="126.22" width="5.71" height="5.67" fill="#c7cafa"/>
<rect x="226.93" y="126.22" width="5.71" height="5.67" fill="#c7cafa"/>
<rect x="232.29" y="126.22" width="5.71" height="5.67" fill="#dcdffc"/>
<rect x="237.65" y="126.22" width="5.71" height="5.67" fill="#c0c3f9"/>
<rect x="243.01" y="126.22" width="5.71" height="5.67" fill="#ffffff"/>
<rect x="248.37" y="126.22" width="5.71" height="5.67" fill="#eaedfd"/>
<rect x="253.72" y="126.22" width="5.71" height="5.67" fill="#f31b1b"/>
<rect x="259.08" y="126.22" width="5.71" height="5.67" fill="#f54141"/>
<rect x="264.44" y="126.22" width="5.71" height="5.67" fill="#f87d7d"/>
<rect x="23.30" y="131.53" width="5.71" height="5.67" fill="#a4a7f7"/>
<rect x="28.66" y="131.53" width="5.71" height="5.67" fill="#a4a7f7"/>
<rect x="34.02" y="131.53" width="5.71" height="5.67" fill="#a4a7f7"/>
<rect x="39.38" y="131.53" width="5.71" height="5.67" fill="#c7cafa"/>
<rect x="44.73" y="131.53" width="5.71" height="5.67" fill="#c7cafa"/>
<rect x="50.09" y="131.53" width="5.71" height="5.67" fill="#c7cafa"/>
<rect x="55.45" y="131.53" width="5.71" height="5.67" fill="#c7cafa"/>
<rect x="60.81" y="131.53" width="5.71" height="5.67" fill="#c7cafa"/>
<rect x="66.17" y="131.53" width="5.71" height="5.67" fill="#c7cafa"/>
<rect x="71.53" y="131.53" width="5.71" height="5.67" fill="#c7cafa"/>
<rect x="76.89" y="131.53" width="5.71" height="5.67" fill="#c7cafa"/>
<rect x="82.25" y="131.53" width="5.71" height="5.67" fill="#c7cafa"/>
<rect x="87.60" y="131.53" width="5.71" height="5.67" fill="#b9bcf9"/>
<rect x="92.96" y="131.53" width="5.71" height="5.67" fill="#c7cafa"/>
<rect x="98.32" y="131.53" width="5.71" height="5.67" fill="#d5d8fb"/>
<rect x="103.68" y="131.53" width="5.71" height="5.67" fill="#d5d8fb"/>
<rect x="109.04" y="131.53" width="5.71" height="5.67" fill="#ced1fa"/>
<rect x="114.40" y="131.53" width="5.71" height="5.67" fill="#c7cafa"/>
<rect x="119.76" y="131.53" width="5.71" height="5.67" fill="#c7cafa"/>
<rect x="125.12" y="131.53" width="5.71" height="5.67" fill="#c7cafa"/>
<rect x="130.47" y="131.53" width="5.71" height="5.67" fill="#c7cafa"/>
<rect x="135.83" y="131.53" width="5.71" height="5.67" fill="#c7cafa"/>
<rect x="141.19" y="131.53" width="5.71" height="5.67" fill="#c7cafa"/>
<rect x="146.55" y="131.53" width="5.71" height="5.67" fill="#fbb3b3"/>
<rect x="151.91" y="131.53" width="5.71" height="5.67" fill="#dcdffc"/>
<rect x="157.27" y="131.53" width="5.71" height="5.67" fill="#dcdffc"/>
<rect x="162.63" y="131.53" width="5.71" height="5.67" fill="#f43939"/>
<rect x="167.98" y="131.53" width="5.71" height="5.67" fill="#feefef"/>
<rect x="173.34" y="131.53" width="5.71" height="5.67" fill="#eaedfd"/>
<rect x="178.70" y="131.53" width="5.71" height="5.67" fill="#fef7f7"/>
<rect x="184.06" y="131.53" width="5.71" height="5.67" fill="#ffffff"/>
<rect x="189.42" y="131.53" width="5.71" height="5.67" fill="#e3e6fc"/>
<rect x="194.78" y="131.53" width="5.71" height="5.67" fill="#dcdffc"/>
<rect x="200.14" y="131.53" width="5.71" height="5.67" fill="#dcdffc"/>
<rect x="205.50" y="131.53" width="5.71" height="5.67" fill="#f77676"/>
<rect x="210.85" y="131.53" width="5.71" height="5.67" fill="#f65f5f"/>
<rect x="216.21" y="131.53" width="5.71" height="5.67" fill="#fef7f7"/>
<rect x="221.57" y="131.53" width="5.71" height="5.67" fill="#f8fbfe"/>
<rect x="226.93" y="131.53" width="5.71" height="5.67" fill="#fbc2c2"/>
<rect x="232.29" y="131.53" width="5.71" height="5.67" fill="#f32222"/>
<rect x="237.65" y="131.53" width="5.71" height="5.67" fill="#feefef"/>
<rect x="243.01" y="131.53" width="5.71" height="5.67" fill="#f32222"/>
<rect x="248.37" y="131.53" width="5.71" height="5.67" fill="#f65f5f"/>
<rect x="253.72" y="131.53" width="5.71" height="5.67" fill="#ffffff"/>
<rect x="259.08" y="131.53" width="5.71" height="5.67" fill="#f8fbfe"/>
<rect x="264.44" y="131.53" width="5.71" height="5.67" fill="#ffffff"/>
<rect x="23.30" y="136.85" width="5.71" height="5.67" fill="#ced1fa"/>
<rect x="28.66" y="136.85" width="5.71" height="5.67" fill="#ced1fa"/>
<rect x="34.02" y="136.85" width="5.71" height="5.67" fill="#ced1fa"/>
<rect x="39.38" y="136.85" width="5.71" height="5.67" fill="#abaef7"/>
<rect x="44.73" y="136.85" width="5.71" height="5.67" fill="#abaef7"/>
<rect x="50.09" y="136.85" width="5.71" height="5.67" fill="#abaef7"/>
<rect x="55.45" y="136.85" width="5.71" height="5.67" fill="#abaef7"/>
<rect x="60.81" y="136.85" width="5.71" height="5.67" fill="#abaef7"/>
<rect x="66.17" y="136.85" width="5.71" height="5.67" fill="#abaef7"/>
<rect x="71.53" y="136.85" width="5.71" height="5.67" fill="#abaef7"/>
<rect x="76.89" y="136.85" width="5.71" height="5.67" fill="#abaef7"/>
<rect x="82.25" y="136.85" width="5.71" height="5.67" fill="#abaef7"/>
<rect x="87.60" y="136.85" width="5.71" height="5.67" fill="#f55050"/>
<rect x="92.96" y="136.85" width="5.71" height="5.67" fill="#f54848"/>
<rect x="98.32" y="136.85" width="5.71" height="5.67" fill="#fde0e0"/>
<rect x="103.68" y="136.85" width="5.71" height="5.67" fill="#fde8e8"/>
<rect x="109.04" y="136.85" width="5.71" height="5.67" fill="#fde0e0"/>
<rect x="114.40" y="136.85" width="5.71" height="5.67" fill="#fef7f7"/>
<rect x="119.76" y="136.85" width="5.71" height="5.67" fill="#fbb3b3"/>
<rect x="125.12" y="136.85" width="5.71" height="5.67" fill="#fbb3b3"/>
<rect x="130.47" y="136.85" width="5.71" height="5.67" fill="#f43939"/>
<rect x="135.83" y="136.85" width="5.71" height="5.67" fill="#f55050"/>
<rect x="141.19" y="136.85" width="5.71" height="5.67" fill="#f98d8d"/>
<rect x="146.55" y="136.85" width="5.71" height="5.67" fill="#ced1fa"/>
<rect x="151.91" y="136.85" width="5.71" height="5.67" fill="#ced1fa"/>
<rect x="157.27" y="136.85" width="5.71" height="5.67" fill="#ced1fa"/>
<rect x="162.63" y="136.85" width="5.71" height="5.67" fill="#c7cafa"/>
<rect x="167.98" y="136.85" width="5.71" height="5.67" fill="#c7cafa"/>
<rect x="173.34" y="136.85" width="5.71" height="5.67" fill="#c7cafa"/>
<rect x="178.70" y="136.85" width="5.71" height="5.67" fill="#c7cafa"/>
<rect x="184.06" y="136.85" width="5.71" height="5.67" fill="#c7cafa"/>
<rect x="189.42" y="136.85" width="5.71" height="5.67" fill="#c0c3f9"/>
<rect x="194.78" y="136.85" width="5.71" height="5.67" fill="#c0c3f9"/>
<rect x="200.14" y="136.85" width="5.71" height="5.67" fill="#c0c3f9"/>
<rect x="205.50" y="136.85" width="5.71" height="5.67" fill="#eaedfd"/>
<rect x="210.85" y="136.85" width="5.71" height="5.67" fill="#eaedfd"/>
<rect x="216.21" y="136.85" width="5.71" height="5.67" fill="#dcdffc"/>
<rect x="221.57" y="136.85" width="5.71" height="5.67" fill="#eaedfd"/>
<rect x="226.93" y="136.85" width="5.71" height="5.67" fill="#ffffff"/>
<rect x="232.29" y="136.85" width="5.71" height="5.67" fill="#d5d8fb"/>
<rect x="237.65" y="136.85" width="5.71" height="5.67" fill="#ffffff"/>
<rect x="243.01" y="136.85" width="5.71" height="5.67" fill="#f8fbfe"/>
<rect x="248.37" y="136.85" width="5.71" height="5.67" fill="#f8fbfe"/>
<rect x="253.72" y="136.85" width="5.71" height="5.67" fill="#f65757"/>
<rect x="259.08" y="136.85" width="5.71" height="5.67" fill="#f55050"/>
<rect x="264.44" y="136.85" width="5.71" height="5.67" fill="#f98d8d"/>
<rect x="23.30" y="142.17" width="5.71" height="5.67" fill="#a4a7f7"/>
<rect x="28.66" y="142.17" width="5.71" height="5.67" fill="#9295f3"/>
<rect x="34.02" y="142.17" width="5.71" height="5.67" fill="#9295f3"/>
<rect x="39.38" y="142.17" width="5.71" height="5.67" fill="#c7cafa"/>
<rect x="44.73" y="142.17" width="5.71" height="5.67" fill="#c7cafa"/>
<rect x="50.09" y="142.17" width="5.71" height="5.67" fill="#c7cafa"/>
<rect x="55.45" y="142.17" width="5.71" height="5.67" fill="#c7cafa"/>
<rect x="60.81" y="142.17" width="5.71" height="5.67" fill="#c7cafa"/>
<rect x="66.17" y="142.17" width="5.71" height="5.67" fill="#c7cafa"/>
<rect x="71.53" y="142.17" width="5.71" height="5.67" fill="#c7cafa"/>
<rect x="76.89" y="142.17" width="5.71" height="5.67" fill="#c7cafa"/>
<rect x="82.25" y="142.17" width="5.71" height="5.67" fill="#c7cafa"/>
<rect x="87.60" y="142.17" width="5.71" height="5.67" fill="#fbc2c2"/>
<rect x="92.96" y="142.17" width="5.71" height="5.67" fill="#ffffff"/>
<rect x="98.32" y="142.17" width="5.71" height="5.67" fill="#c7cafa"/>
<rect x="103.68" y="142.17" width="5.71" height="5.67" fill="#c7cafa"/>
<rect x="109.04" y="142.17" width="5.71" height="5.67" fill="#c7cafa"/>
<rect x="114.40" y="142.17" width="5.71" height="5.67" fill="#c7cafa"/>
<rect x="119.76" y="142.17" width="5.71" height="5.67" fill="#c7cafa"/>
<rect x="125.12" y="142.17" width="5.71" height="5.67" fill="#ffffff"/>
<rect x="130.47" y="142.17" width="5.71" height="5.67" fill="#ced1fa"/>
<rect x="135.83" y="142.17" width="5.71" height="5.67" fill="#ced1fa"/>
<rect x="141.19" y="142.17" width="5.71" height="5.67" fill="#ced1fa"/>
<rect x="146.55" y="142.17" width="5.71" height="5.67" fill="#fef7f7"/>
<rect x="151.91" y="142.17" width="5.71" height="5.67" fill="#d5d8fb"/>
<rect x="157.27" y="142.17" width="5.71" height="5.67" fill="#f43939"/>
<rect x="162.63" y="142.17" width="5.71" height="5.67" fill="#fef7f7"/>
<rect x="167.98" y="142.17" width="5.71" height="5.67" fill="#fcc9c9"/>
<rect x="173.34" y="142.17" width="5.71" height="5.67" fill="#fcc9c9"/>
<rect x="178.70" y="142.17" width="5.71" height="5.67" fill="#dcdffc"/>
<rect x="184.06" y="142.17" width="5.71" height="5.67" fill="#dcdffc"/>
<rect x="189.42" y="142.17" width="5.71" height="5.67" fill="#dcdffc"/>
<rect x="194.78" y="142.17" width="5.71" height="5.67" fill="#e3e6fc"/>
<rect x="200.14" y="142.17" width="5.71" height="5.67" fill="#dcdffc"/>
<rect x="205.50" y="142.17" width="5.71" height="5.67" fill="#fbc2c2"/>
<rect x="210.85" y="142.17" width="5.71" height="5.67" fill="#f1f4fd"/>
<rect x="216.21" y="142.17" width="5.71" height="5.67" fill="#ffffff"/>
<rect x="221.57" y="142.17" width="5.71" height="5.67" fill="#f99494"/>
<rect x="226.93" y="142.17" width="5.71" height="5.67" fill="#fbc2c2"/>
<rect x="232.29" y="142.17" width="5.71" height="5.67" fill="#fcd1d1"/>
<rect x="237.65" y="142.17" width="5.71" height="5.67" fill="#ffffff"/>
<rect x="243.01" y="142.17" width="5.71" height="5.67" fill="#f77676"/>
<rect x="248.37" y="142.17" width="5.71" height="5.67" fill="#fde8e8"/>
<rect x="253.72" y="142.17" width="5.71" height="5.67" fill="#f32222"/>
<rect x="259.08" y="142.17" width="5.71" height="5.67" fill="#f43939"/>
<rect x="264.44" y="142.17" width="5.71" height="5.67" fill="#eaedfd"/>
<rect x="23.30" y="147.48" width="5.71" height="5.67" fill="#9ea1f5"/>
<rect x="28.66" y="147.48" width="5.71" height="5.67" fill="#9ea1f5"/>
<rect x="34.02" y="147.48" width="5.71" height="5.67" fill="#9295f3"/>
<rect x="39.38" y="147.48" width="5.71" height="5.67" fill="#c7cafa"/>
<rect x="44.73" y="147.48" width="5.71" height="5.67" fill="#f1f4fd"/>
<rect x="50.09" y="147.48" width="5.71" height="5.67" fill="#b9bcf9"/>
<rect x="55.45" y="147.48" width="5.71" height="5.67" fill="#ced1fa"/>
<rect x="60.81" y="147.48" width="5.71" height="5.67" fill="#ced1fa"/>
<rect x="66.17" y="147.48" width="5.71" height="5.67" fill="#b2b5f8"/>
<rect x="71.53" y="147.48" width="5.71" height="5.67" fill="#a4a7f7"/>
<rect x="76.89" y="147.48" width="5.71" height="5.67" fill="#b2b5f8"/>
<rect x="82.25" y="147.48" width="5.71" height="5.67" fill="#abaef7"/>
<rect x="87.60" y="147.48" width="5.71" height="5.67" fill="#f8fbfe"/>
<rect x="92.96" y="147.48" width="5.71" height="5.67" fill="#b9bcf9"/>
<rect x="98.32" y="147.48" width="5.71" height="5.67" fill="#b9bcf9"/>
<rect x="103.68" y="147.48" width="5.71" height="5.67" fill="#dcdffc"/>
<rect x="109.04" y="147.48" width="5.71" height="5.67" fill="#dcdffc"/>
<rect x="114.40" y="147.48" width="5.71" height="5.67" fill="#f43939"/>
<rect x="119.76" y="147.48" width="5.71" height="5.67" fill="#feefef"/>
<rect x="125.12" y="147.48" width="5.71" height="5.67" fill="#fdd9d9"/>
<rect x="130.47" y="147.48" width="5.71" height="5.67" fill="#eaedfd"/>
<rect x="135.83" y="147.48" width="5.71" height="5.67" fill="#fbc2c2"/>
<rect x="141.19" y="147.48" width="5.71" height="5.67" fill="#f99494"/>
<rect x="146.55" y="147.48" width="5.71" height="5.67" fill="#fbc2c2"/>
<rect x="151.91" y="147.48" width="5.71" height="5.67" fill="#d5d8fb"/>
<rect x="157.27" y="147.48" width="5.71" height="5.67" fill="#f77676"/>
<rect x="162.63" y="147.48" width="5.71" height="5.67" fill="#b9bcf9"/>
<rect x="167.98" y="147.48" width="5.71" height="5.67" fill="#dcdffc"/>
<rect x="173.34" y="147.48" width="5.71" height="5.67" fill="#feefef"/>
<rect x="178.70" y="147.48" width="5.71" height="5.67" fill="#d5d8fb"/>
<rect x="184.06" y="147.48" width="5.71" height="5.67" fill="#dcdffc"/>
<rect x="189.42" y="147.48" width="5.71" height="5.67" fill="#fbb3b3"/>
<rect x="194.78" y="147.48" width="5.71" height="5.67" fill="#f99c9c"/>
<rect x="200.14" y="147.48" width="5.71" height="5.67" fill="#fef7f7"/>
<rect x="205.50" y="147.48" width="5.71" height="5.67" fill="#fbc2c2"/>
<rect x="210.85" y="147.48" width="5.71" height="5.67" fill="#ffffff"/>
<rect x="216.21" y="147.48" width="5.71" height="5.67" fill="#f77676"/>
<rect x="221.57" y="147.48" width="5.71" height="5.67" fill="#b9bcf9"/>
<rect x="226.93" y="147.48" width="5.71" height="5.67" fill="#abaef7"/>
<rect x="232.29" y="147.48" width="5.71" height="5.67" fill="#fdd9d9"/>
<rect x="237.65" y="147.48" width="5.71" height="5.67" fill="#f77676"/>
<rect x="243.01" y="147.48" width="5.71" height="5.67" fill="#f31b1b"/>
<rect x="248.37" y="147.48" width="5.71" height="5.67" fill="#fbb3b3"/>
<rect x="253.72" y="147.48" width="5.71" height="5.67" fill="#d5d8fb"/>
<rect x="259.08" y="147.48" width="5.71" height="5.67" fill="#dcdffc"/>
<rect x="264.44" y="147.48" width="5.71" height="5.67" fill="#abaef7"/>
<line x1="24.20" y1="59.00" x2="82.60" y2="59.00" stroke="#7a7a7a" stroke-width="1.50" stroke-linecap="butt"/>
<text x="55.50" y="55.60" text-anchor="middle" fill="#000" style='font-size:8.10px;font-weight:bold;'>D0</text>
<line x1="88.00" y1="59.00" x2="142.40" y2="59.00" stroke="#7a7a7a" stroke-width="1.50" stroke-linecap="butt"/>
<text x="115.20" y="55.60" text-anchor="middle" fill="#000" style='font-size:8.10px;font-weight:bold;'>D13</text>
<line x1="147.20" y1="59.00" x2="203.40" y2="59.00" stroke="#7a7a7a" stroke-width="1.50" stroke-linecap="butt"/>
<text x="175.30" y="55.60" text-anchor="middle" fill="#000" style='font-size:8.10px;font-weight:bold;'>D20</text>
<line x1="207.40" y1="59.00" x2="265.70" y2="59.00" stroke="#7a7a7a" stroke-width="1.50" stroke-linecap="butt"/>
<text x="236.60" y="55.60" text-anchor="middle" fill="#000" style='font-size:8.10px;font-weight:bold;'>D35</text>
<line x1="23.20" y1="63.30" x2="268.30" y2="63.30" stroke="#333" stroke-width="0.90" stroke-linecap="butt"/>
<line x1="23.20" y1="63.30" x2="23.20" y2="89.20" stroke="#333" stroke-width="0.90" stroke-linecap="butt"/>
<line x1="39.40" y1="63.30" x2="39.40" y2="89.20" stroke="#333" stroke-width="0.90" stroke-linecap="butt"/>
<line x1="54.70" y1="63.30" x2="54.70" y2="89.20" stroke="#333" stroke-width="0.90" stroke-linecap="butt"/>
<line x1="70.30" y1="63.30" x2="70.30" y2="89.20" stroke="#333" stroke-width="0.90" stroke-linecap="butt"/>
<line x1="86.40" y1="63.30" x2="86.40" y2="89.20" stroke="#333" stroke-width="0.90" stroke-linecap="butt"/>
<line x1="98.20" y1="63.30" x2="98.20" y2="89.20" stroke="#333" stroke-width="0.90" stroke-linecap="butt"/>
<line x1="114.30" y1="63.30" x2="114.30" y2="89.20" stroke="#333" stroke-width="0.90" stroke-linecap="butt"/>
<line x1="129.50" y1="63.30" x2="129.50" y2="89.20" stroke="#333" stroke-width="0.90" stroke-linecap="butt"/>
<line x1="145.70" y1="63.30" x2="145.70" y2="89.20" stroke="#333" stroke-width="0.90" stroke-linecap="butt"/>
<line x1="162.10" y1="63.30" x2="162.10" y2="89.20" stroke="#333" stroke-width="0.90" stroke-linecap="butt"/>
<line x1="173.70" y1="63.30" x2="173.70" y2="89.20" stroke="#333" stroke-width="0.90" stroke-linecap="butt"/>
<line x1="189.50" y1="63.30" x2="189.50" y2="89.20" stroke="#333" stroke-width="0.90" stroke-linecap="butt"/>
<line x1="205.40" y1="63.30" x2="205.40" y2="89.20" stroke="#333" stroke-width="0.90" stroke-linecap="butt"/>
<line x1="221.30" y1="63.30" x2="221.30" y2="89.20" stroke="#333" stroke-width="0.90" stroke-linecap="butt"/>
<line x1="237.10" y1="63.30" x2="237.10" y2="89.20" stroke="#333" stroke-width="0.90" stroke-linecap="butt"/>
<line x1="252.40" y1="63.30" x2="252.40" y2="89.20" stroke="#333" stroke-width="0.90" stroke-linecap="butt"/>
<line x1="268.30" y1="63.30" x2="268.30" y2="89.20" stroke="#333" stroke-width="0.90" stroke-linecap="butt"/>
<text x="33.00" y="87.30" text-anchor="start" fill="#333" style='font-size:4.90px;font-weight:normal;' transform="rotate(-90.0 33.00 87.30)">H9</text>
<text x="48.75" y="87.30" text-anchor="start" fill="#333" style='font-size:4.90px;font-weight:normal;' transform="rotate(-90.0 48.75 87.30)">is070a</text>
<text x="64.20" y="87.30" text-anchor="start" fill="#333" style='font-size:4.90px;font-weight:normal;' transform="rotate(-90.0 64.20 87.30)">i70b</text>
<text x="80.05" y="87.30" text-anchor="start" fill="#333" style='font-size:4.90px;font-weight:normal;' transform="rotate(-90.0 80.05 87.30)">i173b</text>
<text x="94.00" y="87.30" text-anchor="start" fill="#333" style='font-size:4.90px;font-weight:normal;' transform="rotate(-90.0 94.00 87.30)">H9</text>
<text x="107.95" y="87.30" text-anchor="start" fill="#333" style='font-size:4.90px;font-weight:normal;' transform="rotate(-90.0 107.95 87.30)">is070a</text>
<text x="123.60" y="87.30" text-anchor="start" fill="#333" style='font-size:4.90px;font-weight:normal;' transform="rotate(-90.0 123.60 87.30)">i70b</text>
<text x="139.30" y="87.30" text-anchor="start" fill="#333" style='font-size:4.90px;font-weight:normal;' transform="rotate(-90.0 139.30 87.30)">i173b</text>
<text x="155.60" y="87.30" text-anchor="start" fill="#333" style='font-size:4.90px;font-weight:normal;' transform="rotate(-90.0 155.60 87.30)">H9</text>
<text x="169.60" y="87.30" text-anchor="start" fill="#333" style='font-size:4.90px;font-weight:normal;' transform="rotate(-90.0 169.60 87.30)">is070a</text>
<text x="183.30" y="87.30" text-anchor="start" fill="#333" style='font-size:4.90px;font-weight:normal;' transform="rotate(-90.0 183.30 87.30)">i70b</text>
<text x="199.15" y="87.30" text-anchor="start" fill="#333" style='font-size:4.90px;font-weight:normal;' transform="rotate(-90.0 199.15 87.30)">i173b</text>
<text x="215.05" y="87.30" text-anchor="start" fill="#333" style='font-size:4.90px;font-weight:normal;' transform="rotate(-90.0 215.05 87.30)">H9</text>
<text x="230.90" y="87.30" text-anchor="start" fill="#333" style='font-size:4.90px;font-weight:normal;' transform="rotate(-90.0 230.90 87.30)">is070a</text>
<text x="246.45" y="87.30" text-anchor="start" fill="#333" style='font-size:4.90px;font-weight:normal;' transform="rotate(-90.0 246.45 87.30)">i70b</text>
<text x="262.05" y="87.30" text-anchor="start" fill="#333" style='font-size:4.90px;font-weight:normal;' transform="rotate(-90.0 262.05 87.30)">i173b</text>
<text x="270.80" y="93.56" text-anchor="start" fill="#111" style='font-size:5.60px;font-weight:normal;font-family:"Liberation Mono",monospace;'>SMAD9</text>
<text x="270.80" y="98.88" text-anchor="start" fill="#111" style='font-size:5.60px;font-weight:normal;font-family:"Liberation Mono",monospace;'>ALX4</text>
<text x="270.80" y="104.19" text-anchor="start" fill="#111" style='font-size:5.60px;font-weight:normal;font-family:"Liberation Mono",monospace;'>RFX4</text>
<text x="270.80" y="109.51" text-anchor="start" fill="#111" style='font-size:5.60px;font-weight:normal;font-family:"Liberation Mono",monospace;'>TBX3</text>
<text x="270.80" y="114.83" text-anchor="start" fill="#111" style='font-size:5.60px;font-weight:normal;font-family:"Liberation Mono",monospace;'>ZEB2</text>
<text x="270.80" y="120.14" text-anchor="start" fill="#111" style='font-size:5.60px;font-weight:normal;font-family:"Liberation Mono",monospace;'>SATB2</text>
<text x="270.80" y="125.46" text-anchor="start" fill="#111" style='font-size:5.60px;font-weight:normal;font-family:"Liberation Mono",monospace;'>PLAGL1</text>
<text x="270.80" y="130.78" text-anchor="start" fill="#111" style='font-size:5.60px;font-weight:normal;font-family:"Liberation Mono",monospace;'>LMX1A</text>
<text x="270.80" y="136.09" text-anchor="start" fill="#111" style='font-size:5.60px;font-weight:normal;font-family:"Liberation Mono",monospace;'>NKX6-1</text>
<text x="270.80" y="141.41" text-anchor="start" fill="#111" style='font-size:5.60px;font-weight:normal;font-family:"Liberation Mono",monospace;'>MSX1</text>
<text x="270.80" y="146.73" text-anchor="start" fill="#111" style='font-size:5.60px;font-weight:normal;font-family:"Liberation Mono",monospace;'>RORB</text>
<text x="270.80" y="152.04" text-anchor="start" fill="#111" style='font-size:5.60px;font-weight:normal;font-family:"Liberation Mono",monospace;'>PITX2</text>
<rect x="293.00" y="36.10" width="20.80" height="44.10" fill="#ececec"/>
<rect x="286.90" y="36.10" width="6.10" height="6.20" fill="#0000ff"/>
<rect x="286.90" y="42.30" width="6.10" height="5.90" fill="#5555ff"/>
<rect x="286.90" y="48.20" width="6.10" height="6.20" fill="#aaaaff"/>
<rect x="286.90" y="61.20" width="6.10" height="6.10" fill="#ffaaaa"/>
<rect x="286.90" y="67.30" width="6.10" height="5.90" fill="#ff5555"/>
<rect x="286.90" y="73.20" width="6.10" height="6.10" fill="#ff0000"/>
<text x="293.20" y="43.48" text-anchor="start" fill="#444" style='font-size:6.60px;font-weight:normal;'>-3.00</text>
<text x="293.20" y="49.58" text-anchor="start" fill="#444" style='font-size:6.60px;font-weight:normal;'>-2.00</text>
<text x="293.20" y="55.78" text-anchor="start" fill="#444" style='font-size:6.60px;font-weight:normal;'>-1.00</text>
<text x="293.10" y="61.88" text-anchor="start" fill="#444" style='font-size:6.60px;font-weight:normal;'>0.00</text>
<text x="293.10" y="67.98" text-anchor="start" fill="#444" style='font-size:6.60px;font-weight:normal;'>1.00</text>
<text x="293.10" y="73.98" text-anchor="start" fill="#444" style='font-size:6.60px;font-weight:normal;'>2.00</text>
<text x="293.10" y="79.98" text-anchor="start" fill="#444" style='font-size:6.60px;font-weight:normal;'>3.00</text>
<text x="415.20" y="715.10" text-anchor="middle" fill="#000" style='font-size:10.00px;font-weight:bold;'>Top 50 downregulated genes</text>
<rect x="363.00" y="755.80" width="5.35" height="4.62" fill="#f65757"/>
<rect x="368.05" y="755.80" width="5.35" height="4.62" fill="#f88585"/>
<rect x="373.10" y="755.80" width="5.35" height="4.62" fill="#f88585"/>
<rect x="378.15" y="755.80" width="5.35" height="4.62" fill="#b9bcf9"/>
<rect x="383.20" y="755.80" width="5.35" height="4.62" fill="#eaedfd"/>
<rect x="388.25" y="755.80" width="5.35" height="4.62" fill="#eaedfd"/>
<rect x="393.30" y="755.80" width="5.35" height="4.62" fill="#b9bcf9"/>
<rect x="398.35" y="755.80" width="5.35" height="4.62" fill="#d5d8fb"/>
<rect x="403.40" y="755.80" width="5.35" height="4.62" fill="#eaedfd"/>
<rect x="408.45" y="755.80" width="5.35" height="4.62" fill="#d5d8fb"/>
<rect x="413.50" y="755.80" width="5.35" height="4.62" fill="#d5d8fb"/>
<rect x="418.55" y="755.80" width="5.35" height="4.62" fill="#b9bcf9"/>
<rect x="363.00" y="760.12" width="5.35" height="4.62" fill="#f65757"/>
<rect x="368.05" y="760.12" width="5.35" height="4.62" fill="#f99494"/>
<rect x="373.10" y="760.12" width="5.35" height="4.62" fill="#f98d8d"/>
<rect x="378.15" y="760.12" width="5.35" height="4.62" fill="#9ea1f5"/>
<rect x="383.20" y="760.12" width="5.35" height="4.62" fill="#d5d8fb"/>
<rect x="388.25" y="760.12" width="5.35" height="4.62" fill="#d5d8fb"/>
<rect x="393.30" y="760.12" width="5.35" height="4.62" fill="#ced1fa"/>
<rect x="398.35" y="760.12" width="5.35" height="4.62" fill="#d5d8fb"/>
<rect x="403.40" y="760.12" width="5.35" height="4.62" fill="#feefef"/>
<rect x="408.45" y="760.12" width="5.35" height="4.62" fill="#d5d8fb"/>
<rect x="413.50" y="760.12" width="5.35" height="4.62" fill="#d5d8fb"/>
<rect x="418.55" y="760.12" width="5.35" height="4.62" fill="#d5d8fb"/>
<rect x="363.00" y="764.44" width="5.35" height="4.62" fill="#f55050"/>
<rect x="368.05" y="764.44" width="5.35" height="4.62" fill="#f99494"/>
<rect x="373.10" y="764.44" width="5.35" height="4.62" fill="#f88585"/>
<rect x="378.15" y="764.44" width="5.35" height="4.62" fill="#f8fbfe"/>
<rect x="383.20" y="764.44" width="5.35" height="4.62" fill="#d5d8fb"/>
<rect x="388.25" y="764.44" width="5.35" height="4.62" fill="#b9bcf9"/>
<rect x="393.30" y="764.44" width="5.35" height="4.62" fill="#d5d8fb"/>
<rect x="398.35" y="764.44" width="5.35" height="4.62" fill="#d5d8fb"/>
<rect x="403.40" y="764.44" width="5.35" height="4.62" fill="#d5d8fb"/>
<rect x="408.45" y="764.44" width="5.35" height="4.62" fill="#d5d8fb"/>
<rect x="413.50" y="764.44" width="5.35" height="4.62" fill="#c7cafa"/>
<rect x="418.55" y="764.44" width="5.35" height="4.62" fill="#c7cafa"/>
<rect x="363.00" y="768.76" width="5.35" height="4.62" fill="#fbb3b3"/>
<rect x="368.05" y="768.76" width="5.35" height="4.62" fill="#f76767"/>
<rect x="373.10" y="768.76" width="5.35" height="4.62" fill="#f76767"/>
<rect x="378.15" y="768.76" width="5.35" height="4.62" fill="#c7cafa"/>
<rect x="383.20" y="768.76" width="5.35" height="4.62" fill="#f1f4fd"/>
<rect x="388.25" y="768.76" width="5.35" height="4.62" fill="#c7cafa"/>
<rect x="393.30" y="768.76" width="5.35" height="4.62" fill="#c7cafa"/>
<rect x="398.35" y="768.76" width="5.35" height="4.62" fill="#c7cafa"/>
<rect x="403.40" y="768.76" width="5.35" height="4.62" fill="#f1f4fd"/>
<rect x="408.45" y="768.76" width="5.35" height="4.62" fill="#f1f4fd"/>
<rect x="413.50" y="768.76" width="5.35" height="4.62" fill="#c7cafa"/>
<rect x="418.55" y="768.76" width="5.35" height="4.62" fill="#c7cafa"/>
<rect x="363.00" y="773.08" width="5.35" height="4.62" fill="#f87d7d"/>
<rect x="368.05" y="773.08" width="5.35" height="4.62" fill="#f54141"/>
<rect x="373.10" y="773.08" width="5.35" height="4.62" fill="#fbb3b3"/>
<rect x="378.15" y="773.08" width="5.35" height="4.62" fill="#d5d8fb"/>
<rect x="383.20" y="773.08" width="5.35" height="4.62" fill="#d5d8fb"/>
<rect x="388.25" y="773.08" width="5.35" height="4.62" fill="#d5d8fb"/>
<rect x="393.30" y="773.08" width="5.35" height="4.62" fill="#c7cafa"/>
<rect x="398.35" y="773.08" width="5.35" height="4.62" fill="#d5d8fb"/>
<rect x="403.40" y="773.08" width="5.35" height="4.62" fill="#b9bcf9"/>
<rect x="408.45" y="773.08" width="5.35" height="4.62" fill="#fde8e8"/>
<rect x="413.50" y="773.08" width="5.35" height="4.62" fill="#ced1fa"/>
<rect x="418.55" y="773.08" width="5.35" height="4.62" fill="#ced1fa"/>
<rect x="363.00" y="777.40" width="5.35" height="4.62" fill="#f76767"/>
<rect x="368.05" y="777.40" width="5.35" height="4.62" fill="#f88585"/>
<rect x="373.10" y="777.40" width="5.35" height="4.62" fill="#f77676"/>
<rect x="378.15" y="777.40" width="5.35" height="4.62" fill="#b9bcf9"/>
<rect x="383.20" y="777.40" width="5.35" height="4.62" fill="#eaedfd"/>
<rect x="388.25" y="777.40" width="5.35" height="4.62" fill="#dcdffc"/>
<rect x="393.30" y="777.40" width="5.35" height="4.62" fill="#ced1fa"/>
<rect x="398.35" y="777.40" width="5.35" height="4.62" fill="#ced1fa"/>
<rect x="403.40" y="777.40" width="5.35" height="4.62" fill="#f1f4fd"/>
<rect x="408.45" y="777.40" width="5.35" height="4.62" fill="#b9bcf9"/>
<rect x="413.50" y="777.40" width="5.35" height="4.62" fill="#d5d8fb"/>
<rect x="418.55" y="777.40" width="5.35" height="4.62" fill="#d5d8fb"/>
<rect x="363.00" y="781.72" width="5.35" height="4.62" fill="#f76767"/>
<rect x="368.05" y="781.72" width="5.35" height="4.62" fill="#f98d8d"/>
<rect x="373.10" y="781.72" width="5.35" height="4.62" fill="#f88585"/>
<rect x="378.15" y="781.72" width="5.35" height="4.62" fill="#d5d8fb"/>
<rect x="383.20" y="781.72" width="5.35" height="4.62" fill="#e3e6fc"/>
<rect x="388.25" y="781.72" width="5.35" height="4.62" fill="#ffffff"/>
<rect x="393.30" y="781.72" width="5.35" height="4.62" fill="#9ea1f5"/>
<rect x="398.35" y="781.72" width="5.35" height="4.62" fill="#9ea1f5"/>
<rect x="403.40" y="781.72" width="5.35" height="4.62" fill="#d5d8fb"/>
<rect x="408.45" y="781.72" width="5.35" height="4.62" fill="#d5d8fb"/>
<rect x="413.50" y="781.72" width="5.35" height="4.62" fill="#e3e6fc"/>
<rect x="418.55" y="781.72" width="5.35" height="4.62" fill="#dcdffc"/>
<rect x="363.00" y="786.04" width="5.35" height="4.62" fill="#f76767"/>
<rect x="368.05" y="786.04" width="5.35" height="4.62" fill="#f99c9c"/>
<rect x="373.10" y="786.04" width="5.35" height="4.62" fill="#f77676"/>
<rect x="378.15" y="786.04" width="5.35" height="4.62" fill="#f8fbfe"/>
<rect x="383.20" y="786.04" width="5.35" height="4.62" fill="#dcdffc"/>
<rect x="388.25" y="786.04" width="5.35" height="4.62" fill="#c7cafa"/>
<rect x="393.30" y="786.04" width="5.35" height="4.62" fill="#b9bcf9"/>
<rect x="398.35" y="786.04" width="5.35" height="4.62" fill="#c7cafa"/>
<rect x="403.40" y="786.04" width="5.35" height="4.62" fill="#c7cafa"/>
<rect x="408.45" y="786.04" width="5.35" height="4.62" fill="#d5d8fb"/>
<rect x="413.50" y="786.04" width="5.35" height="4.62" fill="#c0c3f9"/>
<rect x="418.55" y="786.04" width="5.35" height="4.62" fill="#c7cafa"/>
<rect x="363.00" y="790.36" width="5.35" height="4.62" fill="#f76767"/>
<rect x="368.05" y="790.36" width="5.35" height="4.62" fill="#faa3a3"/>
<rect x="373.10" y="790.36" width="5.35" height="4.62" fill="#f76e6e"/>
<rect x="378.15" y="790.36" width="5.35" height="4.62" fill="#c0c3f9"/>
<rect x="383.20" y="790.36" width="5.35" height="4.62" fill="#f1f4fd"/>
<rect x="388.25" y="790.36" width="5.35" height="4.62" fill="#eaedfd"/>
<rect x="393.30" y="790.36" width="5.35" height="4.62" fill="#c0c3f9"/>
<rect x="398.35" y="790.36" width="5.35" height="4.62" fill="#e3e6fc"/>
<rect x="403.40" y="790.36" width="5.35" height="4.62" fill="#ced1fa"/>
<rect x="408.45" y="790.36" width="5.35" height="4.62" fill="#d5d8fb"/>
<rect x="413.50" y="790.36" width="5.35" height="4.62" fill="#c7cafa"/>
<rect x="418.55" y="790.36" width="5.35" height="4.62" fill="#c7cafa"/>
<rect x="363.00" y="794.68" width="5.35" height="4.62" fill="#f76e6e"/>
<rect x="368.05" y="794.68" width="5.35" height="4.62" fill="#f76767"/>
<rect x="373.10" y="794.68" width="5.35" height="4.62" fill="#f99494"/>
<rect x="378.15" y="794.68" width="5.35" height="4.62" fill="#b9bcf9"/>
<rect x="383.20" y="794.68" width="5.35" height="4.62" fill="#e3e6fc"/>
<rect x="388.25" y="794.68" width="5.35" height="4.62" fill="#b9bcf9"/>
<rect x="393.30" y="794.68" width="5.35" height="4.62" fill="#fef7f7"/>
<rect x="398.35" y="794.68" width="5.35" height="4.62" fill="#b9bcf9"/>
<rect x="403.40" y="794.68" width="5.35" height="4.62" fill="#eaedfd"/>
<rect x="408.45" y="794.68" width="5.35" height="4.62" fill="#eaedfd"/>
<rect x="413.50" y="794.68" width="5.35" height="4.62" fill="#c7cafa"/>
<rect x="418.55" y="794.68" width="5.35" height="4.62" fill="#c0c3f9"/>
<rect x="363.00" y="799.00" width="5.35" height="4.62" fill="#f76767"/>
<rect x="368.05" y="799.00" width="5.35" height="4.62" fill="#f76767"/>
<rect x="373.10" y="799.00" width="5.35" height="4.62" fill="#fcd1d1"/>
<rect x="378.15" y="799.00" width="5.35" height="4.62" fill="#eaedfd"/>
<rect x="383.20" y="799.00" width="5.35" height="4.62" fill="#f8fbfe"/>
<rect x="388.25" y="799.00" width="5.35" height="4.62" fill="#c0c3f9"/>
<rect x="393.30" y="799.00" width="5.35" height="4.62" fill="#c0c3f9"/>
<rect x="398.35" y="799.00" width="5.35" height="4.62" fill="#fef7f7"/>
<rect x="403.40" y="799.00" width="5.35" height="4.62" fill="#c0c3f9"/>
<rect x="408.45" y="799.00" width="5.35" height="4.62" fill="#c0c3f9"/>
<rect x="413.50" y="799.00" width="5.35" height="4.62" fill="#eaedfd"/>
<rect x="418.55" y="799.00" width="5.35" height="4.62" fill="#ced1fa"/>
<rect x="363.00" y="803.32" width="5.35" height="4.62" fill="#f77676"/>
<rect x="368.05" y="803.32" width="5.35" height="4.62" fill="#f88585"/>
<rect x="373.10" y="803.32" width="5.35" height="4.62" fill="#f88585"/>
<rect x="378.15" y="803.32" width="5.35" height="4.62" fill="#eaedfd"/>
<rect x="383.20" y="803.32" width="5.35" height="4.62" fill="#c7cafa"/>
<rect x="388.25" y="803.32" width="5.35" height="4.62" fill="#d5d8fb"/>
<rect x="393.30" y="803.32" width="5.35" height="4.62" fill="#d5d8fb"/>
<rect x="398.35" y="803.32" width="5.35" height="4.62" fill="#d5d8fb"/>
<rect x="403.40" y="803.32" width="5.35" height="4.62" fill="#ffffff"/>
<rect x="408.45" y="803.32" width="5.35" height="4.62" fill="#e3e6fc"/>
<rect x="413.50" y="803.32" width="5.35" height="4.62" fill="#9ea1f5"/>
<rect x="418.55" y="803.32" width="5.35" height="4.62" fill="#ced1fa"/>
<rect x="363.00" y="807.64" width="5.35" height="4.62" fill="#faa3a3"/>
<rect x="368.05" y="807.64" width="5.35" height="4.62" fill="#f77676"/>
<rect x="373.10" y="807.64" width="5.35" height="4.62" fill="#f65757"/>
<rect x="378.15" y="807.64" width="5.35" height="4.62" fill="#c7cafa"/>
<rect x="383.20" y="807.64" width="5.35" height="4.62" fill="#ffffff"/>
<rect x="388.25" y="807.64" width="5.35" height="4.62" fill="#fdd9d9"/>
<rect x="393.30" y="807.64" width="5.35" height="4.62" fill="#dcdffc"/>
<rect x="398.35" y="807.64" width="5.35" height="4.62" fill="#dcdffc"/>
<rect x="403.40" y="807.64" width="5.35" height="4.62" fill="#eaedfd"/>
<rect x="408.45" y="807.64" width="5.35" height="4.62" fill="#c7cafa"/>
<rect x="413.50" y="807.64" width="5.35" height="4.62" fill="#c7cafa"/>
<rect x="418.55" y="807.64" width="5.35" height="4.62" fill="#c7cafa"/>
<rect x="363.00" y="811.96" width="5.35" height="4.62" fill="#f77676"/>
<rect x="368.05" y="811.96" width="5.35" height="4.62" fill="#f77676"/>
<rect x="373.10" y="811.96" width="5.35" height="4.62" fill="#f77676"/>
<rect x="378.15" y="811.96" width="5.35" height="4.62" fill="#eaedfd"/>
<rect x="383.20" y="811.96" width="5.35" height="4.62" fill="#ffffff"/>
<rect x="388.25" y="811.96" width="5.35" height="4.62" fill="#fcd1d1"/>
<rect x="393.30" y="811.96" width="5.35" height="4.62" fill="#b9bcf9"/>
<rect x="398.35" y="811.96" width="5.35" height="4.62" fill="#b9bcf9"/>
<rect x="403.40" y="811.96" width="5.35" height="4.62" fill="#f8fbfe"/>
<rect x="408.45" y="811.96" width="5.35" height="4.62" fill="#b2b5f8"/>
<rect x="413.50" y="811.96" width="5.35" height="4.62" fill="#b2b5f8"/>
<rect x="418.55" y="811.96" width="5.35" height="4.62" fill="#b2b5f8"/>
<rect x="363.00" y="816.28" width="5.35" height="4.62" fill="#fbbaba"/>
<rect x="368.05" y="816.28" width="5.35" height="4.62" fill="#f54848"/>
<rect x="373.10" y="816.28" width="5.35" height="4.62" fill="#f88585"/>
<rect x="378.15" y="816.28" width="5.35" height="4.62" fill="#7b7eee"/>
<rect x="383.20" y="816.28" width="5.35" height="4.62" fill="#abaef7"/>
<rect x="388.25" y="816.28" width="5.35" height="4.62" fill="#d5d8fb"/>
<rect x="393.30" y="816.28" width="5.35" height="4.62" fill="#d5d8fb"/>
<rect x="398.35" y="816.28" width="5.35" height="4.62" fill="#e3e6fc"/>
<rect x="403.40" y="816.28" width="5.35" height="4.62" fill="#f1f4fd"/>
<rect x="408.45" y="816.28" width="5.35" height="4.62" fill="#ffffff"/>
<rect x="413.50" y="816.28" width="5.35" height="4.62" fill="#ffffff"/>
<rect x="418.55" y="816.28" width="5.35" height="4.62" fill="#ffffff"/>
<rect x="363.00" y="820.60" width="5.35" height="4.62" fill="#f76767"/>
<rect x="368.05" y="820.60" width="5.35" height="4.62" fill="#f77676"/>
<rect x="373.10" y="820.60" width="5.35" height="4.62" fill="#f77676"/>
<rect x="378.15" y="820.60" width="5.35" height="4.62" fill="#feefef"/>
<rect x="383.20" y="820.60" width="5.35" height="4.62" fill="#e3e6fc"/>
<rect x="388.25" y="820.60" width="5.35" height="4.62" fill="#e3e6fc"/>
<rect x="393.30" y="820.60" width="5.35" height="4.62" fill="#b2b5f8"/>
<rect x="398.35" y="820.60" width="5.35" height="4.62" fill="#ced1fa"/>
<rect x="403.40" y="820.60" width="5.35" height="4.62" fill="#f1f4fd"/>
<rect x="408.45" y="820.60" width="5.35" height="4.62" fill="#b9bcf9"/>
<rect x="413.50" y="820.60" width="5.35" height="4.62" fill="#b9bcf9"/>
<rect x="418.55" y="820.60" width="5.35" height="4.62" fill="#a4a7f7"/>
<rect x="363.00" y="824.92" width="5.35" height="4.62" fill="#f76767"/>
<rect x="368.05" y="824.92" width="5.35" height="4.62" fill="#f77676"/>
<rect x="373.10" y="824.92" width="5.35" height="4.62" fill="#f77676"/>
<rect x="378.15" y="824.92" width="5.35" height="4.62" fill="#c7cafa"/>
<rect x="383.20" y="824.92" width="5.35" height="4.62" fill="#fdd9d9"/>
<rect x="388.25" y="824.92" width="5.35" height="4.62" fill="#ffffff"/>
<rect x="393.30" y="824.92" width="5.35" height="4.62" fill="#c7cafa"/>
<rect x="398.35" y="824.92" width="5.35" height="4.62" fill="#c7cafa"/>
<rect x="403.40" y="824.92" width="5.35" height="4.62" fill="#c7cafa"/>
<rect x="408.45" y="824.92" width="5.35" height="4.62" fill="#c7cafa"/>
<rect x="413.50" y="824.92" width="5.35" height="4.62" fill="#c7cafa"/>
<rect x="418.55" y="824.92" width="5.35" height="4.62" fill="#c7cafa"/>
<rect x="363.00" y="829.24" width="5.35" height="4.62" fill="#f76767"/>
<rect x="368.05" y="829.24" width="5.35" height="4.62" fill="#f76767"/>
<rect x="373.10" y="829.24" width="5.35" height="4.62" fill="#f77676"/>
<rect x="378.15" y="829.24" width="5.35" height="4.62" fill="#9ea1f5"/>
<rect x="383.20" y="829.24" width="5.35" height="4.62" fill="#e3e6fc"/>
<rect x="388.25" y="829.24" width="5.35" height="4.62" fill="#eaedfd"/>
<rect x="393.30" y="829.24" width="5.35" height="4.62" fill="#d5d8fb"/>
<rect x="398.35" y="829.24" width="5.35" height="4.62" fill="#d5d8fb"/>
<rect x="403.40" y="829.24" width="5.35" height="4.62" fill="#d5d8fb"/>
<rect x="408.45" y="829.24" width="5.35" height="4.62" fill="#e3e6fc"/>
<rect x="413.50" y="829.24" width="5.35" height="4.62" fill="#e3e6fc"/>
<rect x="418.55" y="829.24" width="5.35" height="4.62" fill="#c7cafa"/>
<rect x="363.00" y="833.56" width="5.35" height="4.62" fill="#f76767"/>
<rect x="368.05" y="833.56" width="5.35" height="4.62" fill="#f99494"/>
<rect x="373.10" y="833.56" width="5.35" height="4.62" fill="#f88585"/>
<rect x="378.15" y="833.56" width="5.35" height="4.62" fill="#9ea1f5"/>
<rect x="383.20" y="833.56" width="5.35" height="4.62" fill="#f1f4fd"/>
<rect x="388.25" y="833.56" width="5.35" height="4.62" fill="#ffffff"/>
<rect x="393.30" y="833.56" width="5.35" height="4.62" fill="#d5d8fb"/>
<rect x="398.35" y="833.56" width="5.35" height="4.62" fill="#f1f4fd"/>
<rect x="403.40" y="833.56" width="5.35" height="4.62" fill="#ffffff"/>
<rect x="408.45" y="833.56" width="5.35" height="4.62" fill="#b9bcf9"/>
<rect x="413.50" y="833.56" width="5.35" height="4.62" fill="#b9bcf9"/>
<rect x="418.55" y="833.56" width="5.35" height="4.62" fill="#b9bcf9"/>
<rect x="363.00" y="837.88" width="5.35" height="4.62" fill="#f76767"/>
<rect x="368.05" y="837.88" width="5.35" height="4.62" fill="#f77676"/>
<rect x="373.10" y="837.88" width="5.35" height="4.62" fill="#f98d8d"/>
<rect x="378.15" y="837.88" width="5.35" height="4.62" fill="#abaef7"/>
<rect x="383.20" y="837.88" width="5.35" height="4.62" fill="#e3e6fc"/>
<rect x="388.25" y="837.88" width="5.35" height="4.62" fill="#e3e6fc"/>
<rect x="393.30" y="837.88" width="5.35" height="4.62" fill="#dcdffc"/>
<rect x="398.35" y="837.88" width="5.35" height="4.62" fill="#eaedfd"/>
<rect x="403.40" y="837.88" width="5.35" height="4.62" fill="#fde0e0"/>
<rect x="408.45" y="837.88" width="5.35" height="4.62" fill="#b9bcf9"/>
<rect x="413.50" y="837.88" width="5.35" height="4.62" fill="#b9bcf9"/>
<rect x="418.55" y="837.88" width="5.35" height="4.62" fill="#b9bcf9"/>
<rect x="363.00" y="842.20" width="5.35" height="4.62" fill="#f76767"/>
<rect x="368.05" y="842.20" width="5.35" height="4.62" fill="#f77676"/>
<rect x="373.10" y="842.20" width="5.35" height="4.62" fill="#f77676"/>
<rect x="378.15" y="842.20" width="5.35" height="4.62" fill="#abaef7"/>
<rect x="383.20" y="842.20" width="5.35" height="4.62" fill="#fde0e0"/>
<rect x="388.25" y="842.20" width="5.35" height="4.62" fill="#fdd9d9"/>
<rect x="393.30" y="842.20" width="5.35" height="4.62" fill="#d5d8fb"/>
<rect x="398.35" y="842.20" width="5.35" height="4.62" fill="#c7cafa"/>
<rect x="403.40" y="842.20" width="5.35" height="4.62" fill="#dcdffc"/>
<rect x="408.45" y="842.20" width="5.35" height="4.62" fill="#abaef7"/>
<rect x="413.50" y="842.20" width="5.35" height="4.62" fill="#d5d8fb"/>
<rect x="418.55" y="842.20" width="5.35" height="4.62" fill="#abaef7"/>
<rect x="363.00" y="846.52" width="5.35" height="4.62" fill="#f76767"/>
<rect x="368.05" y="846.52" width="5.35" height="4.62" fill="#f99494"/>
<rect x="373.10" y="846.52" width="5.35" height="4.62" fill="#f88585"/>
<rect x="378.15" y="846.52" width="5.35" height="4.62" fill="#e3e6fc"/>
<rect x="383.20" y="846.52" width="5.35" height="4.62" fill="#b9bcf9"/>
<rect x="388.25" y="846.52" width="5.35" height="4.62" fill="#b9bcf9"/>
<rect x="393.30" y="846.52" width="5.35" height="4.62" fill="#e3e6fc"/>
<rect x="398.35" y="846.52" width="5.35" height="4.62" fill="#abaef7"/>
<rect x="403.40" y="846.52" width="5.35" height="4.62" fill="#fdd9d9"/>
<rect x="408.45" y="846.52" width="5.35" height="4.62" fill="#e3e6fc"/>
<rect x="413.50" y="846.52" width="5.35" height="4.62" fill="#dcdffc"/>
<rect x="418.55" y="846.52" width="5.35" height="4.62" fill="#dcdffc"/>
<rect x="363.00" y="850.84" width="5.35" height="4.62" fill="#f76767"/>
<rect x="368.05" y="850.84" width="5.35" height="4.62" fill="#fcd1d1"/>
<rect x="373.10" y="850.84" width="5.35" height="4.62" fill="#f65757"/>
<rect x="378.15" y="850.84" width="5.35" height="4.62" fill="#abaef7"/>
<rect x="383.20" y="850.84" width="5.35" height="4.62" fill="#f1f4fd"/>
<rect x="388.25" y="850.84" width="5.35" height="4.62" fill="#f8fbfe"/>
<rect x="393.30" y="850.84" width="5.35" height="4.62" fill="#abaef7"/>
<rect x="398.35" y="850.84" width="5.35" height="4.62" fill="#abaef7"/>
<rect x="403.40" y="850.84" width="5.35" height="4.62" fill="#d5d8fb"/>
<rect x="408.45" y="850.84" width="5.35" height="4.62" fill="#eaedfd"/>
<rect x="413.50" y="850.84" width="5.35" height="4.62" fill="#eaedfd"/>
<rect x="418.55" y="850.84" width="5.35" height="4.62" fill="#eaedfd"/>
<rect x="363.00" y="855.16" width="5.35" height="4.62" fill="#f76767"/>
<rect x="368.05" y="855.16" width="5.35" height="4.62" fill="#fbc2c2"/>
<rect x="373.10" y="855.16" width="5.35" height="4.62" fill="#f99494"/>
<rect x="378.15" y="855.16" width="5.35" height="4.62" fill="#e3e6fc"/>
<rect x="383.20" y="855.16" width="5.35" height="4.62" fill="#dcdffc"/>
<rect x="388.25" y="855.16" width="5.35" height="4.62" fill="#dcdffc"/>
<rect x="393.30" y="855.16" width="5.35" height="4.62" fill="#9ea1f5"/>
<rect x="398.35" y="855.16" width="5.35" height="4.62" fill="#9ea1f5"/>
<rect x="403.40" y="855.16" width="5.35" height="4.62" fill="#dcdffc"/>
<rect x="408.45" y="855.16" width="5.35" height="4.62" fill="#ffffff"/>
<rect x="413.50" y="855.16" width="5.35" height="4.62" fill="#ffffff"/>
<rect x="418.55" y="855.16" width="5.35" height="4.62" fill="#f1f4fd"/>
<rect x="363.00" y="859.48" width="5.35" height="4.62" fill="#f76767"/>
<rect x="368.05" y="859.48" width="5.35" height="4.62" fill="#f88585"/>
<rect x="373.10" y="859.48" width="5.35" height="4.62" fill="#f88585"/>
<rect x="378.15" y="859.48" width="5.35" height="4.62" fill="#d5d8fb"/>
<rect x="383.20" y="859.48" width="5.35" height="4.62" fill="#f8fbfe"/>
<rect x="388.25" y="859.48" width="5.35" height="4.62" fill="#fde0e0"/>
<rect x="393.30" y="859.48" width="5.35" height="4.62" fill="#d5d8fb"/>
<rect x="398.35" y="859.48" width="5.35" height="4.62" fill="#d5d8fb"/>
<rect x="403.40" y="859.48" width="5.35" height="4.62" fill="#fdd9d9"/>
<rect x="408.45" y="859.48" width="5.35" height="4.62" fill="#abaef7"/>
<rect x="413.50" y="859.48" width="5.35" height="4.62" fill="#abaef7"/>
<rect x="418.55" y="859.48" width="5.35" height="4.62" fill="#abaef7"/>
<rect x="363.00" y="863.80" width="5.35" height="4.62" fill="#f76767"/>
<rect x="368.05" y="863.80" width="5.35" height="4.62" fill="#f88585"/>
<rect x="373.10" y="863.80" width="5.35" height="4.62" fill="#f88585"/>
<rect x="378.15" y="863.80" width="5.35" height="4.62" fill="#7b7eee"/>
<rect x="383.20" y="863.80" width="5.35" height="4.62" fill="#c7cafa"/>
<rect x="388.25" y="863.80" width="5.35" height="4.62" fill="#c7cafa"/>
<rect x="393.30" y="863.80" width="5.35" height="4.62" fill="#eaedfd"/>
<rect x="398.35" y="863.80" width="5.35" height="4.62" fill="#eaedfd"/>
<rect x="403.40" y="863.80" width="5.35" height="4.62" fill="#ffffff"/>
<rect x="408.45" y="863.80" width="5.35" height="4.62" fill="#f8fbfe"/>
<rect x="413.50" y="863.80" width="5.35" height="4.62" fill="#f8fbfe"/>
<rect x="418.55" y="863.80" width="5.35" height="4.62" fill="#f8fbfe"/>
<rect x="363.00" y="868.12" width="5.35" height="4.62" fill="#f77676"/>
<rect x="368.05" y="868.12" width="5.35" height="4.62" fill="#f65757"/>
<rect x="373.10" y="868.12" width="5.35" height="4.62" fill="#f76767"/>
<rect x="378.15" y="868.12" width="5.35" height="4.62" fill="#b9bcf9"/>
<rect x="383.20" y="868.12" width="5.35" height="4.62" fill="#eaedfd"/>
<rect x="388.25" y="868.12" width="5.35" height="4.62" fill="#b9bcf9"/>
<rect x="393.30" y="868.12" width="5.35" height="4.62" fill="#eaedfd"/>
<rect x="398.35" y="868.12" width="5.35" height="4.62" fill="#ffffff"/>
<rect x="403.40" y="868.12" width="5.35" height="4.62" fill="#abaef7"/>
<rect x="408.45" y="868.12" width="5.35" height="4.62" fill="#eaedfd"/>
<rect x="413.50" y="868.12" width="5.35" height="4.62" fill="#eaedfd"/>
<rect x="418.55" y="868.12" width="5.35" height="4.62" fill="#b9bcf9"/>
<rect x="363.00" y="872.44" width="5.35" height="4.62" fill="#f76767"/>
<rect x="368.05" y="872.44" width="5.35" height="4.62" fill="#f65757"/>
<rect x="373.10" y="872.44" width="5.35" height="4.62" fill="#f77676"/>
<rect x="378.15" y="872.44" width="5.35" height="4.62" fill="#fef7f7"/>
<rect x="383.20" y="872.44" width="5.35" height="4.62" fill="#e3e6fc"/>
<rect x="388.25" y="872.44" width="5.35" height="4.62" fill="#c7cafa"/>
<rect x="393.30" y="872.44" width="5.35" height="4.62" fill="#d5d8fb"/>
<rect x="398.35" y="872.44" width="5.35" height="4.62" fill="#c0c3f9"/>
<rect x="403.40" y="872.44" width="5.35" height="4.62" fill="#eaedfd"/>
<rect x="408.45" y="872.44" width="5.35" height="4.62" fill="#c7cafa"/>
<rect x="413.50" y="872.44" width="5.35" height="4.62" fill="#c7cafa"/>
<rect x="418.55" y="872.44" width="5.35" height="4.62" fill="#9295f3"/>
<rect x="363.00" y="876.76" width="5.35" height="4.62" fill="#f65757"/>
<rect x="368.05" y="876.76" width="5.35" height="4.62" fill="#f88585"/>
<rect x="373.10" y="876.76" width="5.35" height="4.62" fill="#f77676"/>
<rect x="378.15" y="876.76" width="5.35" height="4.62" fill="#c7cafa"/>
<rect x="383.20" y="876.76" width="5.35" height="4.62" fill="#c7cafa"/>
<rect x="388.25" y="876.76" width="5.35" height="4.62" fill="#c7cafa"/>
<rect x="393.30" y="876.76" width="5.35" height="4.62" fill="#ffffff"/>
<rect x="398.35" y="876.76" width="5.35" height="4.62" fill="#ffffff"/>
<rect x="403.40" y="876.76" width="5.35" height="4.62" fill="#eaedfd"/>
<rect x="408.45" y="876.76" width="5.35" height="4.62" fill="#c7cafa"/>
<rect x="413.50" y="876.76" width="5.35" height="4.62" fill="#c7cafa"/>
<rect x="418.55" y="876.76" width="5.35" height="4.62" fill="#c7cafa"/>
<rect x="363.00" y="881.08" width="5.35" height="4.62" fill="#f76767"/>
<rect x="368.05" y="881.08" width="5.35" height="4.62" fill="#f77676"/>
<rect x="373.10" y="881.08" width="5.35" height="4.62" fill="#f77676"/>
<rect x="378.15" y="881.08" width="5.35" height="4.62" fill="#abaef7"/>
<rect x="383.20" y="881.08" width="5.35" height="4.62" fill="#dcdffc"/>
<rect x="388.25" y="881.08" width="5.35" height="4.62" fill="#dcdffc"/>
<rect x="393.30" y="881.08" width="5.35" height="4.62" fill="#d5d8fb"/>
<rect x="398.35" y="881.08" width="5.35" height="4.62" fill="#eaedfd"/>
<rect x="403.40" y="881.08" width="5.35" height="4.62" fill="#eaedfd"/>
<rect x="408.45" y="881.08" width="5.35" height="4.62" fill="#c7cafa"/>
<rect x="413.50" y="881.08" width="5.35" height="4.62" fill="#c7cafa"/>
<rect x="418.55" y="881.08" width="5.35" height="4.62" fill="#c7cafa"/>
<rect x="363.00" y="885.40" width="5.35" height="4.62" fill="#f88585"/>
<rect x="368.05" y="885.40" width="5.35" height="4.62" fill="#f88585"/>
<rect x="373.10" y="885.40" width="5.35" height="4.62" fill="#f54848"/>
<rect x="378.15" y="885.40" width="5.35" height="4.62" fill="#b9bcf9"/>
<rect x="383.20" y="885.40" width="5.35" height="4.62" fill="#f1f4fd"/>
<rect x="388.25" y="885.40" width="5.35" height="4.62" fill="#b9bcf9"/>
<rect x="393.30" y="885.40" width="5.35" height="4.62" fill="#fde0e0"/>
<rect x="398.35" y="885.40" width="5.35" height="4.62" fill="#b9bcf9"/>
<rect x="403.40" y="885.40" width="5.35" height="4.62" fill="#ffffff"/>
<rect x="408.45" y="885.40" width="5.35" height="4.62" fill="#c7cafa"/>
<rect x="413.50" y="885.40" width="5.35" height="4.62" fill="#ffffff"/>
<rect x="418.55" y="885.40" width="5.35" height="4.62" fill="#c7cafa"/>
<rect x="363.00" y="889.72" width="5.35" height="4.62" fill="#f88585"/>
<rect x="368.05" y="889.72" width="5.35" height="4.62" fill="#f88585"/>
<rect x="373.10" y="889.72" width="5.35" height="4.62" fill="#f88585"/>
<rect x="378.15" y="889.72" width="5.35" height="4.62" fill="#fdd9d9"/>
<rect x="383.20" y="889.72" width="5.35" height="4.62" fill="#fde0e0"/>
<rect x="388.25" y="889.72" width="5.35" height="4.62" fill="#fbc2c2"/>
<rect x="393.30" y="889.72" width="5.35" height="4.62" fill="#b9bcf9"/>
<rect x="398.35" y="889.72" width="5.35" height="4.62" fill="#b9bcf9"/>
<rect x="403.40" y="889.72" width="5.35" height="4.62" fill="#c7cafa"/>
<rect x="408.45" y="889.72" width="5.35" height="4.62" fill="#b9bcf9"/>
<rect x="413.50" y="889.72" width="5.35" height="4.62" fill="#b9bcf9"/>
<rect x="418.55" y="889.72" width="5.35" height="4.62" fill="#b9bcf9"/>
<rect x="363.00" y="894.04" width="5.35" height="4.62" fill="#f77676"/>
<rect x="368.05" y="894.04" width="5.35" height="4.62" fill="#f88585"/>
<rect x="373.10" y="894.04" width="5.35" height="4.62" fill="#f88585"/>
<rect x="378.15" y="894.04" width="5.35" height="4.62" fill="#d5d8fb"/>
<rect x="383.20" y="894.04" width="5.35" height="4.62" fill="#c7cafa"/>
<rect x="388.25" y="894.04" width="5.35" height="4.62" fill="#c7cafa"/>
<rect x="393.30" y="894.04" width="5.35" height="4.62" fill="#b2b5f8"/>
<rect x="398.35" y="894.04" width="5.35" height="4.62" fill="#b2b5f8"/>
<rect x="403.40" y="894.04" width="5.35" height="4.62" fill="#c7cafa"/>
<rect x="408.45" y="894.04" width="5.35" height="4.62" fill="#fcd1d1"/>
<rect x="413.50" y="894.04" width="5.35" height="4.62" fill="#fde0e0"/>
<rect x="418.55" y="894.04" width="5.35" height="4.62" fill="#fcd1d1"/>
<rect x="363.00" y="898.36" width="5.35" height="4.62" fill="#f77676"/>
<rect x="368.05" y="898.36" width="5.35" height="4.62" fill="#faa3a3"/>
<rect x="373.10" y="898.36" width="5.35" height="4.62" fill="#f88585"/>
<rect x="378.15" y="898.36" width="5.35" height="4.62" fill="#abaef7"/>
<rect x="383.20" y="898.36" width="5.35" height="4.62" fill="#fde0e0"/>
<rect x="388.25" y="898.36" width="5.35" height="4.62" fill="#fcd1d1"/>
<rect x="393.30" y="898.36" width="5.35" height="4.62" fill="#ffffff"/>
<rect x="398.35" y="898.36" width="5.35" height="4.62" fill="#ffffff"/>
<rect x="403.40" y="898.36" width="5.35" height="4.62" fill="#fde8e8"/>
<rect x="408.45" y="898.36" width="5.35" height="4.62" fill="#abaef7"/>
<rect x="413.50" y="898.36" width="5.35" height="4.62" fill="#abaef7"/>
<rect x="418.55" y="898.36" width="5.35" height="4.62" fill="#b9bcf9"/>
<rect x="363.00" y="902.68" width="5.35" height="4.62" fill="#f98d8d"/>
<rect x="368.05" y="902.68" width="5.35" height="4.62" fill="#f98d8d"/>
<rect x="373.10" y="902.68" width="5.35" height="4.62" fill="#f54141"/>
<rect x="378.15" y="902.68" width="5.35" height="4.62" fill="#abaef7"/>
<rect x="383.20" y="902.68" width="5.35" height="4.62" fill="#e3e6fc"/>
<rect x="388.25" y="902.68" width="5.35" height="4.62" fill="#ffffff"/>
<rect x="393.30" y="902.68" width="5.35" height="4.62" fill="#eaedfd"/>
<rect x="398.35" y="902.68" width="5.35" height="4.62" fill="#d5d8fb"/>
<rect x="403.40" y="902.68" width="5.35" height="4.62" fill="#d5d8fb"/>
<rect x="408.45" y="902.68" width="5.35" height="4.62" fill="#d5d8fb"/>
<rect x="413.50" y="902.68" width="5.35" height="4.62" fill="#abaef7"/>
<rect x="418.55" y="902.68" width="5.35" height="4.62" fill="#e3e6fc"/>
<rect x="363.00" y="907.00" width="5.35" height="4.62" fill="#f77676"/>
<rect x="368.05" y="907.00" width="5.35" height="4.62" fill="#f88585"/>
<rect x="373.10" y="907.00" width="5.35" height="4.62" fill="#f88585"/>
<rect x="378.15" y="907.00" width="5.35" height="4.62" fill="#e3e6fc"/>
<rect x="383.20" y="907.00" width="5.35" height="4.62" fill="#fde8e8"/>
<rect x="388.25" y="907.00" width="5.35" height="4.62" fill="#ffffff"/>
<rect x="393.30" y="907.00" width="5.35" height="4.62" fill="#c7cafa"/>
<rect x="398.35" y="907.00" width="5.35" height="4.62" fill="#c7cafa"/>
<rect x="403.40" y="907.00" width="5.35" height="4.62" fill="#c7cafa"/>
<rect x="408.45" y="907.00" width="5.35" height="4.62" fill="#c7cafa"/>
<rect x="413.50" y="907.00" width="5.35" height="4.62" fill="#b9bcf9"/>
<rect x="418.55" y="907.00" width="5.35" height="4.62" fill="#c7cafa"/>
<rect x="363.00" y="911.32" width="5.35" height="4.62" fill="#f77676"/>
<rect x="368.05" y="911.32" width="5.35" height="4.62" fill="#f88585"/>
<rect x="373.10" y="911.32" width="5.35" height="4.62" fill="#f77676"/>
<rect x="378.15" y="911.32" width="5.35" height="4.62" fill="#fbc2c2"/>
<rect x="383.20" y="911.32" width="5.35" height="4.62" fill="#b9bcf9"/>
<rect x="388.25" y="911.32" width="5.35" height="4.62" fill="#b9bcf9"/>
<rect x="393.30" y="911.32" width="5.35" height="4.62" fill="#b2b5f8"/>
<rect x="398.35" y="911.32" width="5.35" height="4.62" fill="#c7cafa"/>
<rect x="403.40" y="911.32" width="5.35" height="4.62" fill="#c7cafa"/>
<rect x="408.45" y="911.32" width="5.35" height="4.62" fill="#eaedfd"/>
<rect x="413.50" y="911.32" width="5.35" height="4.62" fill="#eaedfd"/>
<rect x="418.55" y="911.32" width="5.35" height="4.62" fill="#eaedfd"/>
<rect x="363.00" y="915.64" width="5.35" height="4.62" fill="#f77676"/>
<rect x="368.05" y="915.64" width="5.35" height="4.62" fill="#f88585"/>
<rect x="373.10" y="915.64" width="5.35" height="4.62" fill="#f77676"/>
<rect x="378.15" y="915.64" width="5.35" height="4.62" fill="#7b7eee"/>
<rect x="383.20" y="915.64" width="5.35" height="4.62" fill="#f1f4fd"/>
<rect x="388.25" y="915.64" width="5.35" height="4.62" fill="#e3e6fc"/>
<rect x="393.30" y="915.64" width="5.35" height="4.62" fill="#f8fbfe"/>
<rect x="398.35" y="915.64" width="5.35" height="4.62" fill="#ffffff"/>
<rect x="403.40" y="915.64" width="5.35" height="4.62" fill="#feefef"/>
<rect x="408.45" y="915.64" width="5.35" height="4.62" fill="#b9bcf9"/>
<rect x="413.50" y="915.64" width="5.35" height="4.62" fill="#b9bcf9"/>
<rect x="418.55" y="915.64" width="5.35" height="4.62" fill="#b9bcf9"/>
<rect x="363.00" y="919.96" width="5.35" height="4.62" fill="#f77676"/>
<rect x="368.05" y="919.96" width="5.35" height="4.62" fill="#f88585"/>
<rect x="373.10" y="919.96" width="5.35" height="4.62" fill="#f77676"/>
<rect x="378.15" y="919.96" width="5.35" height="4.62" fill="#dcdffc"/>
<rect x="383.20" y="919.96" width="5.35" height="4.62" fill="#f1f4fd"/>
<rect x="388.25" y="919.96" width="5.35" height="4.62" fill="#ffffff"/>
<rect x="393.30" y="919.96" width="5.35" height="4.62" fill="#e3e6fc"/>
<rect x="398.35" y="919.96" width="5.35" height="4.62" fill="#eaedfd"/>
<rect x="403.40" y="919.96" width="5.35" height="4.62" fill="#ffffff"/>
<rect x="408.45" y="919.96" width="5.35" height="4.62" fill="#abaef7"/>
<rect x="413.50" y="919.96" width="5.35" height="4.62" fill="#9ea1f5"/>
<rect x="418.55" y="919.96" width="5.35" height="4.62" fill="#abaef7"/>
<rect x="363.00" y="924.28" width="5.35" height="4.62" fill="#f54848"/>
<rect x="368.05" y="924.28" width="5.35" height="4.62" fill="#fbc2c2"/>
<rect x="373.10" y="924.28" width="5.35" height="4.62" fill="#f76767"/>
<rect x="378.15" y="924.28" width="5.35" height="4.62" fill="#ffffff"/>
<rect x="383.20" y="924.28" width="5.35" height="4.62" fill="#fef7f7"/>
<rect x="388.25" y="924.28" width="5.35" height="4.62" fill="#b9bcf9"/>
<rect x="393.30" y="924.28" width="5.35" height="4.62" fill="#feefef"/>
<rect x="398.35" y="924.28" width="5.35" height="4.62" fill="#eaedfd"/>
<rect x="403.40" y="924.28" width="5.35" height="4.62" fill="#b9bcf9"/>
<rect x="408.45" y="924.28" width="5.35" height="4.62" fill="#abaef7"/>
<rect x="413.50" y="924.28" width="5.35" height="4.62" fill="#d5d8fb"/>
<rect x="418.55" y="924.28" width="5.35" height="4.62" fill="#f8fbfe"/>
<rect x="363.00" y="928.60" width="5.35" height="4.62" fill="#f77676"/>
<rect x="368.05" y="928.60" width="5.35" height="4.62" fill="#f99494"/>
<rect x="373.10" y="928.60" width="5.35" height="4.62" fill="#f88585"/>
<rect x="378.15" y="928.60" width="5.35" height="4.62" fill="#9295f3"/>
<rect x="383.20" y="928.60" width="5.35" height="4.62" fill="#d5d8fb"/>
<rect x="388.25" y="928.60" width="5.35" height="4.62" fill="#d5d8fb"/>
<rect x="393.30" y="928.60" width="5.35" height="4.62" fill="#fde8e8"/>
<rect x="398.35" y="928.60" width="5.35" height="4.62" fill="#fde8e8"/>
<rect x="403.40" y="928.60" width="5.35" height="4.62" fill="#fbc2c2"/>
<rect x="408.45" y="928.60" width="5.35" height="4.62" fill="#b9bcf9"/>
<rect x="413.50" y="928.60" width="5.35" height="4.62" fill="#b9bcf9"/>
<rect x="418.55" y="928.60" width="5.35" height="4.62" fill="#abaef7"/>
<rect x="363.00" y="932.92" width="5.35" height="4.62" fill="#f77676"/>
<rect x="368.05" y="932.92" width="5.35" height="4.62" fill="#f88585"/>
<rect x="373.10" y="932.92" width="5.35" height="4.62" fill="#f54848"/>
<rect x="378.15" y="932.92" width="5.35" height="4.62" fill="#abaef7"/>
<rect x="383.20" y="932.92" width="5.35" height="4.62" fill="#d5d8fb"/>
<rect x="388.25" y="932.92" width="5.35" height="4.62" fill="#d5d8fb"/>
<rect x="393.30" y="932.92" width="5.35" height="4.62" fill="#d5d8fb"/>
<rect x="398.35" y="932.92" width="5.35" height="4.62" fill="#e3e6fc"/>
<rect x="403.40" y="932.92" width="5.35" height="4.62" fill="#d5d8fb"/>
<rect x="408.45" y="932.92" width="5.35" height="4.62" fill="#dcdffc"/>
<rect x="413.50" y="932.92" width="5.35" height="4.62" fill="#dcdffc"/>
<rect x="418.55" y="932.92" width="5.35" height="4.62" fill="#dcdffc"/>
<rect x="363.00" y="937.24" width="5.35" height="4.62" fill="#f77676"/>
<rect x="368.05" y="937.24" width="5.35" height="4.62" fill="#f99c9c"/>
<rect x="373.10" y="937.24" width="5.35" height="4.62" fill="#f98d8d"/>
<rect x="378.15" y="937.24" width="5.35" height="4.62" fill="#878af1"/>
<rect x="383.20" y="937.24" width="5.35" height="4.62" fill="#dcdffc"/>
<rect x="388.25" y="937.24" width="5.35" height="4.62" fill="#eaedfd"/>
<rect x="393.30" y="937.24" width="5.35" height="4.62" fill="#abaef7"/>
<rect x="398.35" y="937.24" width="5.35" height="4.62" fill="#9ea1f5"/>
<rect x="403.40" y="937.24" width="5.35" height="4.62" fill="#f1f4fd"/>
<rect x="408.45" y="937.24" width="5.35" height="4.62" fill="#fcd1d1"/>
<rect x="413.50" y="937.24" width="5.35" height="4.62" fill="#fde0e0"/>
<rect x="418.55" y="937.24" width="5.35" height="4.62" fill="#fcd1d1"/>
<rect x="363.00" y="941.56" width="5.35" height="4.62" fill="#f65757"/>
<rect x="368.05" y="941.56" width="5.35" height="4.62" fill="#f77676"/>
<rect x="373.10" y="941.56" width="5.35" height="4.62" fill="#f76767"/>
<rect x="378.15" y="941.56" width="5.35" height="4.62" fill="#abaef7"/>
<rect x="383.20" y="941.56" width="5.35" height="4.62" fill="#d5d8fb"/>
<rect x="388.25" y="941.56" width="5.35" height="4.62" fill="#d5d8fb"/>
<rect x="393.30" y="941.56" width="5.35" height="4.62" fill="#c7cafa"/>
<rect x="398.35" y="941.56" width="5.35" height="4.62" fill="#c7cafa"/>
<rect x="403.40" y="941.56" width="5.35" height="4.62" fill="#f1f4fd"/>
<rect x="408.45" y="941.56" width="5.35" height="4.62" fill="#e3e6fc"/>
<rect x="413.50" y="941.56" width="5.35" height="4.62" fill="#eaedfd"/>
<rect x="418.55" y="941.56" width="5.35" height="4.62" fill="#e3e6fc"/>
<rect x="363.00" y="945.88" width="5.35" height="4.62" fill="#f77676"/>
<rect x="368.05" y="945.88" width="5.35" height="4.62" fill="#f77676"/>
<rect x="373.10" y="945.88" width="5.35" height="4.62" fill="#f77676"/>
<rect x="378.15" y="945.88" width="5.35" height="4.62" fill="#9295f3"/>
<rect x="383.20" y="945.88" width="5.35" height="4.62" fill="#f1f4fd"/>
<rect x="388.25" y="945.88" width="5.35" height="4.62" fill="#f1f4fd"/>
<rect x="393.30" y="945.88" width="5.35" height="4.62" fill="#f1f4fd"/>
<rect x="398.35" y="945.88" width="5.35" height="4.62" fill="#f1f4fd"/>
<rect x="403.40" y="945.88" width="5.35" height="4.62" fill="#ffffff"/>
<rect x="408.45" y="945.88" width="5.35" height="4.62" fill="#b9bcf9"/>
<rect x="413.50" y="945.88" width="5.35" height="4.62" fill="#b9bcf9"/>
<rect x="418.55" y="945.88" width="5.35" height="4.62" fill="#9ea1f5"/>
<rect x="363.00" y="950.20" width="5.35" height="4.62" fill="#f55050"/>
<rect x="368.05" y="950.20" width="5.35" height="4.62" fill="#f77676"/>
<rect x="373.10" y="950.20" width="5.35" height="4.62" fill="#fbc2c2"/>
<rect x="378.15" y="950.20" width="5.35" height="4.62" fill="#9ea1f5"/>
<rect x="383.20" y="950.20" width="5.35" height="4.62" fill="#d5d8fb"/>
<rect x="388.25" y="950.20" width="5.35" height="4.62" fill="#feefef"/>
<rect x="393.30" y="950.20" width="5.35" height="4.62" fill="#abaef7"/>
<rect x="398.35" y="950.20" width="5.35" height="4.62" fill="#eaedfd"/>
<rect x="403.40" y="950.20" width="5.35" height="4.62" fill="#feefef"/>
<rect x="408.45" y="950.20" width="5.35" height="4.62" fill="#ffffff"/>
<rect x="413.50" y="950.20" width="5.35" height="4.62" fill="#dcdffc"/>
<rect x="418.55" y="950.20" width="5.35" height="4.62" fill="#9ea1f5"/>
<rect x="363.00" y="954.52" width="5.35" height="4.62" fill="#f98d8d"/>
<rect x="368.05" y="954.52" width="5.35" height="4.62" fill="#f77676"/>
<rect x="373.10" y="954.52" width="5.35" height="4.62" fill="#f77676"/>
<rect x="378.15" y="954.52" width="5.35" height="4.62" fill="#9295f3"/>
<rect x="383.20" y="954.52" width="5.35" height="4.62" fill="#f1f4fd"/>
<rect x="388.25" y="954.52" width="5.35" height="4.62" fill="#f1f4fd"/>
<rect x="393.30" y="954.52" width="5.35" height="4.62" fill="#f1f4fd"/>
<rect x="398.35" y="954.52" width="5.35" height="4.62" fill="#9ea1f5"/>
<rect x="403.40" y="954.52" width="5.35" height="4.62" fill="#ffffff"/>
<rect x="408.45" y="954.52" width="5.35" height="4.62" fill="#ffffff"/>
<rect x="413.50" y="954.52" width="5.35" height="4.62" fill="#d5d8fb"/>
<rect x="418.55" y="954.52" width="5.35" height="4.62" fill="#e3e6fc"/>
<rect x="363.00" y="958.84" width="5.35" height="4.62" fill="#f65757"/>
<rect x="368.05" y="958.84" width="5.35" height="4.62" fill="#fbb3b3"/>
<rect x="373.10" y="958.84" width="5.35" height="4.62" fill="#f76767"/>
<rect x="378.15" y="958.84" width="5.35" height="4.62" fill="#9295f3"/>
<rect x="383.20" y="958.84" width="5.35" height="4.62" fill="#eaedfd"/>
<rect x="388.25" y="958.84" width="5.35" height="4.62" fill="#abaef7"/>
<rect x="393.30" y="958.84" width="5.35" height="4.62" fill="#d5d8fb"/>
<rect x="398.35" y="958.84" width="5.35" height="4.62" fill="#d5d8fb"/>
<rect x="403.40" y="958.84" width="5.35" height="4.62" fill="#f1f4fd"/>
<rect x="408.45" y="958.84" width="5.35" height="4.62" fill="#ffffff"/>
<rect x="413.50" y="958.84" width="5.35" height="4.62" fill="#fde8e8"/>
<rect x="418.55" y="958.84" width="5.35" height="4.62" fill="#ffffff"/>
<rect x="363.00" y="963.16" width="5.35" height="4.62" fill="#f65757"/>
<rect x="368.05" y="963.16" width="5.35" height="4.62" fill="#f77676"/>
<rect x="373.10" y="963.16" width="5.35" height="4.62" fill="#f99494"/>
<rect x="378.15" y="963.16" width="5.35" height="4.62" fill="#9295f3"/>
<rect x="383.20" y="963.16" width="5.35" height="4.62" fill="#c7cafa"/>
<rect x="388.25" y="963.16" width="5.35" height="4.62" fill="#abaef7"/>
<rect x="393.30" y="963.16" width="5.35" height="4.62" fill="#e3e6fc"/>
<rect x="398.35" y="963.16" width="5.35" height="4.62" fill="#e3e6fc"/>
<rect x="403.40" y="963.16" width="5.35" height="4.62" fill="#f1f4fd"/>
<rect x="408.45" y="963.16" width="5.35" height="4.62" fill="#e3e6fc"/>
<rect x="413.50" y="963.16" width="5.35" height="4.62" fill="#ffffff"/>
<rect x="418.55" y="963.16" width="5.35" height="4.62" fill="#fcd1d1"/>
<rect x="363.00" y="967.48" width="5.35" height="4.62" fill="#f65757"/>
<rect x="368.05" y="967.48" width="5.35" height="4.62" fill="#f88585"/>
<rect x="373.10" y="967.48" width="5.35" height="4.62" fill="#f99494"/>
<rect x="378.15" y="967.48" width="5.35" height="4.62" fill="#9295f3"/>
<rect x="383.20" y="967.48" width="5.35" height="4.62" fill="#eaedfd"/>
<rect x="388.25" y="967.48" width="5.35" height="4.62" fill="#eaedfd"/>
<rect x="393.30" y="967.48" width="5.35" height="4.62" fill="#eaedfd"/>
<rect x="398.35" y="967.48" width="5.35" height="4.62" fill="#ffffff"/>
<rect x="403.40" y="967.48" width="5.35" height="4.62" fill="#f1f4fd"/>
<rect x="408.45" y="967.48" width="5.35" height="4.62" fill="#abaef7"/>
<rect x="413.50" y="967.48" width="5.35" height="4.62" fill="#abaef7"/>
<rect x="418.55" y="967.48" width="5.35" height="4.62" fill="#eaedfd"/>
<text x="366.92" y="754.30" text-anchor="start" fill="#333" style='font-size:4.10px;font-weight:bold;font-family:"Liberation Mono",monospace;' transform="rotate(-90.0 366.92 754.30)">shSCR(1)</text>
<text x="371.97" y="754.30" text-anchor="start" fill="#333" style='font-size:4.10px;font-weight:bold;font-family:"Liberation Mono",monospace;' transform="rotate(-90.0 371.97 754.30)">shSCR(2)</text>
<text x="377.02" y="754.30" text-anchor="start" fill="#333" style='font-size:4.10px;font-weight:bold;font-family:"Liberation Mono",monospace;' transform="rotate(-90.0 377.02 754.30)">shSCR(3)</text>
<text x="382.07" y="754.30" text-anchor="start" fill="#333" style='font-size:4.10px;font-weight:bold;font-family:"Liberation Mono",monospace;' transform="rotate(-90.0 382.07 754.30)">shSMAD9_1(1)</text>
<text x="387.12" y="754.30" text-anchor="start" fill="#333" style='font-size:4.10px;font-weight:bold;font-family:"Liberation Mono",monospace;' transform="rotate(-90.0 387.12 754.30)">shSMAD9_1(2)</text>
<text x="392.18" y="754.30" text-anchor="start" fill="#333" style='font-size:4.10px;font-weight:bold;font-family:"Liberation Mono",monospace;' transform="rotate(-90.0 392.18 754.30)">shSMAD9_1(3)</text>
<text x="397.22" y="754.30" text-anchor="start" fill="#333" style='font-size:4.10px;font-weight:bold;font-family:"Liberation Mono",monospace;' transform="rotate(-90.0 397.22 754.30)">shSMAD9_2(1)</text>
<text x="402.27" y="754.30" text-anchor="start" fill="#333" style='font-size:4.10px;font-weight:bold;font-family:"Liberation Mono",monospace;' transform="rotate(-90.0 402.27 754.30)">shSMAD9_2(2)</text>
<text x="407.32" y="754.30" text-anchor="start" fill="#333" style='font-size:4.10px;font-weight:bold;font-family:"Liberation Mono",monospace;' transform="rotate(-90.0 407.32 754.30)">shSMAD9_2(3)</text>
<text x="412.38" y="754.30" text-anchor="start" fill="#333" style='font-size:4.10px;font-weight:bold;font-family:"Liberation Mono",monospace;' transform="rotate(-90.0 412.38 754.30)">shSMAD9_3(1)</text>
<text x="417.43" y="754.30" text-anchor="start" fill="#333" style='font-size:4.10px;font-weight:bold;font-family:"Liberation Mono",monospace;' transform="rotate(-90.0 417.43 754.30)">shSMAD9_3(2)</text>
<text x="422.48" y="754.30" text-anchor="start" fill="#333" style='font-size:4.10px;font-weight:bold;font-family:"Liberation Mono",monospace;' transform="rotate(-90.0 422.48 754.30)">shSMAD9_3(3)</text>
<text x="424.60" y="759.56" text-anchor="start" fill="#222" style='font-size:4.90px;font-weight:bold;font-family:"Liberation Mono",monospace;'>OPTC</text>
<text x="424.60" y="763.88" text-anchor="start" fill="#222" style='font-size:4.90px;font-weight:bold;font-family:"Liberation Mono",monospace;'>RIPPLY1</text>
<text x="424.60" y="768.20" text-anchor="start" fill="#222" style='font-size:4.90px;font-weight:bold;font-family:"Liberation Mono",monospace;'>CLEC19A</text>
<text x="424.60" y="772.52" text-anchor="start" fill="#222" style='font-size:4.90px;font-weight:bold;font-family:"Liberation Mono",monospace;'>AQP8</text>
<text x="424.60" y="776.84" text-anchor="start" fill="#222" style='font-size:4.90px;font-weight:bold;font-family:"Liberation Mono",monospace;'>OC90</text>
<text x="424.60" y="781.16" text-anchor="start" fill="#222" style='font-size:4.90px;font-weight:bold;font-family:"Liberation Mono",monospace;'>SLC26A7</text>
<text x="424.60" y="785.48" text-anchor="start" fill="#222" style='font-size:4.90px;font-weight:bold;font-family:"Liberation Mono",monospace;'>SPARCL1</text>
<text x="424.60" y="789.80" text-anchor="start" fill="#222" style='font-size:4.90px;font-weight:bold;font-family:"Liberation Mono",monospace;'>FEZF2</text>
<text x="424.60" y="794.12" text-anchor="start" fill="#222" style='font-size:4.90px;font-weight:bold;font-family:"Liberation Mono",monospace;'>FGF17</text>
<text x="424.60" y="798.44" text-anchor="start" fill="#222" style='font-size:4.90px;font-weight:bold;font-family:"Liberation Mono",monospace;'>CAMP</text>
<text x="424.60" y="802.76" text-anchor="start" fill="#222" style='font-size:4.90px;font-weight:bold;font-family:"Liberation Mono",monospace;'>GPR151</text>
<text x="424.60" y="807.08" text-anchor="start" fill="#222" style='font-size:4.90px;font-weight:bold;font-family:"Liberation Mono",monospace;'>MYOC</text>
<text x="424.60" y="811.40" text-anchor="start" fill="#222" style='font-size:4.90px;font-weight:bold;font-family:"Liberation Mono",monospace;'>RTP1</text>
<text x="424.60" y="815.72" text-anchor="start" fill="#222" style='font-size:4.90px;font-weight:bold;font-family:"Liberation Mono",monospace;'>PCP4</text>
<text x="424.60" y="820.04" text-anchor="start" fill="#222" style='font-size:4.90px;font-weight:bold;font-family:"Liberation Mono",monospace;'>IFI44L</text>
<text x="424.60" y="824.36" text-anchor="start" fill="#222" style='font-size:4.90px;font-weight:bold;font-family:"Liberation Mono",monospace;'>PGM5</text>
<text x="424.60" y="828.68" text-anchor="start" fill="#222" style='font-size:4.90px;font-weight:bold;font-family:"Liberation Mono",monospace;'>KIRREL3</text>
<text x="424.60" y="833.00" text-anchor="start" fill="#222" style='font-size:4.90px;font-weight:bold;font-family:"Liberation Mono",monospace;'>ANKRD34B</text>
<text x="424.60" y="837.32" text-anchor="start" fill="#222" style='font-size:4.90px;font-weight:bold;font-family:"Liberation Mono",monospace;'>ANGPTL1</text>
<text x="424.60" y="841.64" text-anchor="start" fill="#222" style='font-size:4.90px;font-weight:bold;font-family:"Liberation Mono",monospace;'>GPR139</text>
<text x="424.60" y="845.96" text-anchor="start" fill="#222" style='font-size:4.90px;font-weight:bold;font-family:"Liberation Mono",monospace;'>CRX</text>
<text x="424.60" y="850.28" text-anchor="start" fill="#222" style='font-size:4.90px;font-weight:bold;font-family:"Liberation Mono",monospace;'>MFAP4</text>
<text x="424.60" y="854.60" text-anchor="start" fill="#222" style='font-size:4.90px;font-weight:bold;font-family:"Liberation Mono",monospace;'>MMP2</text>
<text x="424.60" y="858.92" text-anchor="start" fill="#222" style='font-size:4.90px;font-weight:bold;font-family:"Liberation Mono",monospace;'>TMEM215</text>
<text x="424.60" y="863.24" text-anchor="start" fill="#222" style='font-size:4.90px;font-weight:bold;font-family:"Liberation Mono",monospace;'>SLC5A7</text>
<text x="424.60" y="867.56" text-anchor="start" fill="#222" style='font-size:4.90px;font-weight:bold;font-family:"Liberation Mono",monospace;'>SERPINA5</text>
<text x="424.60" y="871.88" text-anchor="start" fill="#222" style='font-size:4.90px;font-weight:bold;font-family:"Liberation Mono",monospace;'>MSGN1</text>
<text x="424.60" y="876.20" text-anchor="start" fill="#222" style='font-size:4.90px;font-weight:bold;font-family:"Liberation Mono",monospace;'>NPY2R</text>
<text x="424.60" y="880.52" text-anchor="start" fill="#222" style='font-size:4.90px;font-weight:bold;font-family:"Liberation Mono",monospace;'>MAP1LC3C</text>
<text x="424.60" y="884.84" text-anchor="start" fill="#222" style='font-size:4.90px;font-weight:bold;font-family:"Liberation Mono",monospace;'>TMEM252</text>
<text x="424.60" y="889.16" text-anchor="start" fill="#222" style='font-size:4.90px;font-weight:bold;font-family:"Liberation Mono",monospace;'>CLEC4F</text>
<text x="424.60" y="893.48" text-anchor="start" fill="#222" style='font-size:4.90px;font-weight:bold;font-family:"Liberation Mono",monospace;'>IRS4</text>
<text x="424.60" y="897.80" text-anchor="start" fill="#222" style='font-size:4.90px;font-weight:bold;font-family:"Liberation Mono",monospace;'>TYR</text>
<text x="424.60" y="902.12" text-anchor="start" fill="#222" style='font-size:4.90px;font-weight:bold;font-family:"Liberation Mono",monospace;'>ISLR</text>
<text x="424.60" y="906.44" text-anchor="start" fill="#222" style='font-size:4.90px;font-weight:bold;font-family:"Liberation Mono",monospace;'>METTL21C</text>
<text x="424.60" y="910.76" text-anchor="start" fill="#222" style='font-size:4.90px;font-weight:bold;font-family:"Liberation Mono",monospace;'>GSX2</text>
<text x="424.60" y="915.08" text-anchor="start" fill="#222" style='font-size:4.90px;font-weight:bold;font-family:"Liberation Mono",monospace;'>HTR2C</text>
<text x="424.60" y="919.40" text-anchor="start" fill="#222" style='font-size:4.90px;font-weight:bold;font-family:"Liberation Mono",monospace;'>HLA-DMB</text>
<text x="424.60" y="923.72" text-anchor="start" fill="#222" style='font-size:4.90px;font-weight:bold;font-family:"Liberation Mono",monospace;'>BMP6</text>
<text x="424.60" y="928.04" text-anchor="start" fill="#222" style='font-size:4.90px;font-weight:bold;font-family:"Liberation Mono",monospace;'>EPYC</text>
<text x="424.60" y="932.36" text-anchor="start" fill="#222" style='font-size:4.90px;font-weight:bold;font-family:"Liberation Mono",monospace;'>HAVCR2</text>
<text x="424.60" y="936.68" text-anchor="start" fill="#222" style='font-size:4.90px;font-weight:bold;font-family:"Liberation Mono",monospace;'>RETN</text>
<text x="424.60" y="941.00" text-anchor="start" fill="#222" style='font-size:4.90px;font-weight:bold;font-family:"Liberation Mono",monospace;'>DCT</text>
<text x="424.60" y="945.32" text-anchor="start" fill="#222" style='font-size:4.90px;font-weight:bold;font-family:"Liberation Mono",monospace;'>SOX8</text>
<text x="424.60" y="949.64" text-anchor="start" fill="#222" style='font-size:4.90px;font-weight:bold;font-family:"Liberation Mono",monospace;'>NYX</text>
<text x="424.60" y="953.96" text-anchor="start" fill="#222" style='font-size:4.90px;font-weight:bold;font-family:"Liberation Mono",monospace;'>LRTM1</text>
<text x="424.60" y="958.28" text-anchor="start" fill="#222" style='font-size:4.90px;font-weight:bold;font-family:"Liberation Mono",monospace;'>LGALS12</text>
<text x="424.60" y="962.60" text-anchor="start" fill="#222" style='font-size:4.90px;font-weight:bold;font-family:"Liberation Mono",monospace;'>PRSS33</text>
<text x="424.60" y="966.92" text-anchor="start" fill="#222" style='font-size:4.90px;font-weight:bold;font-family:"Liberation Mono",monospace;'>RLBP1</text>
<text x="424.60" y="971.24" text-anchor="start" fill="#222" style='font-size:4.90px;font-weight:bold;font-family:"Liberation Mono",monospace;'>KRT83</text>
<rect x="471.00" y="765.00" width="19.80" height="41.50" fill="#ececec"/>
<rect x="465.60" y="765.00" width="5.40" height="5.80" fill="#0000ff"/>
<rect x="465.60" y="770.80" width="5.40" height="5.70" fill="#5555ff"/>
<rect x="465.60" y="776.50" width="5.40" height="5.70" fill="#aaaaff"/>
<rect x="465.60" y="788.10" width="5.40" height="5.90" fill="#ffaaaa"/>
<rect x="465.60" y="794.00" width="5.40" height="6.00" fill="#ff5555"/>
<rect x="465.60" y="800.00" width="5.40" height="5.90" fill="#ff0000"/>
<text x="471.20" y="772.04" text-anchor="start" fill="#444" style='font-size:6.50px;font-weight:normal;' textLength="12.72" lengthAdjust="spacingAndGlyphs">-3.00</text>
<text x="471.20" y="778.04" text-anchor="start" fill="#444" style='font-size:6.50px;font-weight:normal;' textLength="12.72" lengthAdjust="spacingAndGlyphs">-2.00</text>
<text x="471.20" y="783.94" text-anchor="start" fill="#444" style='font-size:6.50px;font-weight:normal;' textLength="12.72" lengthAdjust="spacingAndGlyphs">-1.00</text>
<text x="471.10" y="789.34" text-anchor="start" fill="#444" style='font-size:6.50px;font-weight:normal;' textLength="10.60" lengthAdjust="spacingAndGlyphs">0.00</text>
<text x="471.10" y="794.74" text-anchor="start" fill="#444" style='font-size:6.50px;font-weight:normal;' textLength="10.60" lengthAdjust="spacingAndGlyphs">1.00</text>
<text x="471.10" y="800.74" text-anchor="start" fill="#444" style='font-size:6.50px;font-weight:normal;' textLength="10.60" lengthAdjust="spacingAndGlyphs">2.00</text>
<text x="471.10" y="806.74" text-anchor="start" fill="#444" style='font-size:6.50px;font-weight:normal;' textLength="10.60" lengthAdjust="spacingAndGlyphs">3.00</text>
<text x="584.50" y="718.70" text-anchor="middle" fill="#000" style='font-size:9.70px;font-weight:bold;'>β cell genes</text>
<rect x="535.90" y="771.90" width="7.27" height="6.76" fill="#f88585"/>
<rect x="542.87" y="771.90" width="7.27" height="6.76" fill="#f88585"/>
<rect x="549.83" y="771.90" width="7.27" height="6.76" fill="#f88585"/>
<rect x="556.80" y="771.90" width="7.27" height="6.76" fill="#fdd9d9"/>
<rect x="563.77" y="771.90" width="7.27" height="6.76" fill="#fef7f7"/>
<rect x="570.73" y="771.90" width="7.27" height="6.76" fill="#feefef"/>
<rect x="577.70" y="771.90" width="7.27" height="6.76" fill="#a4a7f7"/>
<rect x="584.67" y="771.90" width="7.27" height="6.76" fill="#a4a7f7"/>
<rect x="591.63" y="771.90" width="7.27" height="6.76" fill="#a4a7f7"/>
<rect x="598.60" y="771.90" width="7.27" height="6.76" fill="#e3e6fc"/>
<rect x="605.57" y="771.90" width="7.27" height="6.76" fill="#e3e6fc"/>
<rect x="612.53" y="771.90" width="7.27" height="6.76" fill="#e3e6fc"/>
<rect x="535.90" y="778.36" width="7.27" height="6.76" fill="#f88585"/>
<rect x="542.87" y="778.36" width="7.27" height="6.76" fill="#faa3a3"/>
<rect x="549.83" y="778.36" width="7.27" height="6.76" fill="#faa3a3"/>
<rect x="556.80" y="778.36" width="7.27" height="6.76" fill="#c0c3f9"/>
<rect x="563.77" y="778.36" width="7.27" height="6.76" fill="#f99494"/>
<rect x="570.73" y="778.36" width="7.27" height="6.76" fill="#faa3a3"/>
<rect x="577.70" y="778.36" width="7.27" height="6.76" fill="#c7cafa"/>
<rect x="584.67" y="778.36" width="7.27" height="6.76" fill="#9295f3"/>
<rect x="591.63" y="778.36" width="7.27" height="6.76" fill="#c7cafa"/>
<rect x="598.60" y="778.36" width="7.27" height="6.76" fill="#e3e6fc"/>
<rect x="605.57" y="778.36" width="7.27" height="6.76" fill="#e3e6fc"/>
<rect x="612.53" y="778.36" width="7.27" height="6.76" fill="#dcdffc"/>
<rect x="535.90" y="784.83" width="7.27" height="6.76" fill="#fbc2c2"/>
<rect x="542.87" y="784.83" width="7.27" height="6.76" fill="#fcc9c9"/>
<rect x="549.83" y="784.83" width="7.27" height="6.76" fill="#fbb3b3"/>
<rect x="556.80" y="784.83" width="7.27" height="6.76" fill="#989bf4"/>
<rect x="563.77" y="784.83" width="7.27" height="6.76" fill="#f88585"/>
<rect x="570.73" y="784.83" width="7.27" height="6.76" fill="#f76e6e"/>
<rect x="577.70" y="784.83" width="7.27" height="6.76" fill="#ced1fa"/>
<rect x="584.67" y="784.83" width="7.27" height="6.76" fill="#eaedfd"/>
<rect x="591.63" y="784.83" width="7.27" height="6.76" fill="#eaedfd"/>
<rect x="598.60" y="784.83" width="7.27" height="6.76" fill="#c0c3f9"/>
<rect x="605.57" y="784.83" width="7.27" height="6.76" fill="#ced1fa"/>
<rect x="612.53" y="784.83" width="7.27" height="6.76" fill="#c0c3f9"/>
<rect x="535.90" y="791.29" width="7.27" height="6.76" fill="#f43939"/>
<rect x="542.87" y="791.29" width="7.27" height="6.76" fill="#faa3a3"/>
<rect x="549.83" y="791.29" width="7.27" height="6.76" fill="#faa3a3"/>
<rect x="556.80" y="791.29" width="7.27" height="6.76" fill="#c7cafa"/>
<rect x="563.77" y="791.29" width="7.27" height="6.76" fill="#fde8e8"/>
<rect x="570.73" y="791.29" width="7.27" height="6.76" fill="#dcdffc"/>
<rect x="577.70" y="791.29" width="7.27" height="6.76" fill="#ced1fa"/>
<rect x="584.67" y="791.29" width="7.27" height="6.76" fill="#c0c3f9"/>
<rect x="591.63" y="791.29" width="7.27" height="6.76" fill="#f1f4fd"/>
<rect x="598.60" y="791.29" width="7.27" height="6.76" fill="#dcdffc"/>
<rect x="605.57" y="791.29" width="7.27" height="6.76" fill="#dcdffc"/>
<rect x="612.53" y="791.29" width="7.27" height="6.76" fill="#dcdffc"/>
<rect x="535.90" y="797.76" width="7.27" height="6.76" fill="#f88585"/>
<rect x="542.87" y="797.76" width="7.27" height="6.76" fill="#f88585"/>
<rect x="549.83" y="797.76" width="7.27" height="6.76" fill="#f88585"/>
<rect x="556.80" y="797.76" width="7.27" height="6.76" fill="#c0c3f9"/>
<rect x="563.77" y="797.76" width="7.27" height="6.76" fill="#dcdffc"/>
<rect x="570.73" y="797.76" width="7.27" height="6.76" fill="#eaedfd"/>
<rect x="577.70" y="797.76" width="7.27" height="6.76" fill="#ffffff"/>
<rect x="584.67" y="797.76" width="7.27" height="6.76" fill="#ffffff"/>
<rect x="591.63" y="797.76" width="7.27" height="6.76" fill="#fde0e0"/>
<rect x="598.60" y="797.76" width="7.27" height="6.76" fill="#b9bcf9"/>
<rect x="605.57" y="797.76" width="7.27" height="6.76" fill="#b9bcf9"/>
<rect x="612.53" y="797.76" width="7.27" height="6.76" fill="#b9bcf9"/>
<rect x="535.90" y="804.22" width="7.27" height="6.76" fill="#f76e6e"/>
<rect x="542.87" y="804.22" width="7.27" height="6.76" fill="#f88585"/>
<rect x="549.83" y="804.22" width="7.27" height="6.76" fill="#f99494"/>
<rect x="556.80" y="804.22" width="7.27" height="6.76" fill="#7b7eee"/>
<rect x="563.77" y="804.22" width="7.27" height="6.76" fill="#ced1fa"/>
<rect x="570.73" y="804.22" width="7.27" height="6.76" fill="#ffffff"/>
<rect x="577.70" y="804.22" width="7.27" height="6.76" fill="#e3e6fc"/>
<rect x="584.67" y="804.22" width="7.27" height="6.76" fill="#d5d8fb"/>
<rect x="591.63" y="804.22" width="7.27" height="6.76" fill="#ffffff"/>
<rect x="598.60" y="804.22" width="7.27" height="6.76" fill="#eaedfd"/>
<rect x="605.57" y="804.22" width="7.27" height="6.76" fill="#feefef"/>
<rect x="612.53" y="804.22" width="7.27" height="6.76" fill="#f1f4fd"/>
<rect x="535.90" y="810.69" width="7.27" height="6.76" fill="#f99c9c"/>
<rect x="542.87" y="810.69" width="7.27" height="6.76" fill="#f76e6e"/>
<rect x="549.83" y="810.69" width="7.27" height="6.76" fill="#f88585"/>
<rect x="556.80" y="810.69" width="7.27" height="6.76" fill="#dcdffc"/>
<rect x="563.77" y="810.69" width="7.27" height="6.76" fill="#f1f4fd"/>
<rect x="570.73" y="810.69" width="7.27" height="6.76" fill="#fbc2c2"/>
<rect x="577.70" y="810.69" width="7.27" height="6.76" fill="#c7cafa"/>
<rect x="584.67" y="810.69" width="7.27" height="6.76" fill="#abaef7"/>
<rect x="591.63" y="810.69" width="7.27" height="6.76" fill="#c0c3f9"/>
<rect x="598.60" y="810.69" width="7.27" height="6.76" fill="#ffffff"/>
<rect x="605.57" y="810.69" width="7.27" height="6.76" fill="#c7cafa"/>
<rect x="612.53" y="810.69" width="7.27" height="6.76" fill="#fcd1d1"/>
<rect x="535.90" y="817.15" width="7.27" height="6.76" fill="#f76767"/>
<rect x="542.87" y="817.15" width="7.27" height="6.76" fill="#f98d8d"/>
<rect x="549.83" y="817.15" width="7.27" height="6.76" fill="#f77676"/>
<rect x="556.80" y="817.15" width="7.27" height="6.76" fill="#f1f4fd"/>
<rect x="563.77" y="817.15" width="7.27" height="6.76" fill="#c7cafa"/>
<rect x="570.73" y="817.15" width="7.27" height="6.76" fill="#c7cafa"/>
<rect x="577.70" y="817.15" width="7.27" height="6.76" fill="#ced1fa"/>
<rect x="584.67" y="817.15" width="7.27" height="6.76" fill="#eaedfd"/>
<rect x="591.63" y="817.15" width="7.27" height="6.76" fill="#ffffff"/>
<rect x="598.60" y="817.15" width="7.27" height="6.76" fill="#dcdffc"/>
<rect x="605.57" y="817.15" width="7.27" height="6.76" fill="#dcdffc"/>
<rect x="612.53" y="817.15" width="7.27" height="6.76" fill="#d5d8fb"/>
<rect x="535.90" y="823.61" width="7.27" height="6.76" fill="#f76767"/>
<rect x="542.87" y="823.61" width="7.27" height="6.76" fill="#fbb3b3"/>
<rect x="549.83" y="823.61" width="7.27" height="6.76" fill="#f76767"/>
<rect x="556.80" y="823.61" width="7.27" height="6.76" fill="#b9bcf9"/>
<rect x="563.77" y="823.61" width="7.27" height="6.76" fill="#d5d8fb"/>
<rect x="570.73" y="823.61" width="7.27" height="6.76" fill="#e3e6fc"/>
<rect x="577.70" y="823.61" width="7.27" height="6.76" fill="#dcdffc"/>
<rect x="584.67" y="823.61" width="7.27" height="6.76" fill="#dcdffc"/>
<rect x="591.63" y="823.61" width="7.27" height="6.76" fill="#dcdffc"/>
<rect x="598.60" y="823.61" width="7.27" height="6.76" fill="#eaedfd"/>
<rect x="605.57" y="823.61" width="7.27" height="6.76" fill="#f1f4fd"/>
<rect x="612.53" y="823.61" width="7.27" height="6.76" fill="#eaedfd"/>
<rect x="535.90" y="830.08" width="7.27" height="6.76" fill="#fcd1d1"/>
<rect x="542.87" y="830.08" width="7.27" height="6.76" fill="#fbbaba"/>
<rect x="549.83" y="830.08" width="7.27" height="6.76" fill="#fcd1d1"/>
<rect x="556.80" y="830.08" width="7.27" height="6.76" fill="#f76767"/>
<rect x="563.77" y="830.08" width="7.27" height="6.76" fill="#fcd1d1"/>
<rect x="570.73" y="830.08" width="7.27" height="6.76" fill="#fcd1d1"/>
<rect x="577.70" y="830.08" width="7.27" height="6.76" fill="#a4a7f7"/>
<rect x="584.67" y="830.08" width="7.27" height="6.76" fill="#dcdffc"/>
<rect x="591.63" y="830.08" width="7.27" height="6.76" fill="#9ea1f5"/>
<rect x="598.60" y="830.08" width="7.27" height="6.76" fill="#b9bcf9"/>
<rect x="605.57" y="830.08" width="7.27" height="6.76" fill="#fef7f7"/>
<rect x="612.53" y="830.08" width="7.27" height="6.76" fill="#f1f4fd"/>
<rect x="535.90" y="836.54" width="7.27" height="6.76" fill="#fcc9c9"/>
<rect x="542.87" y="836.54" width="7.27" height="6.76" fill="#fbb3b3"/>
<rect x="549.83" y="836.54" width="7.27" height="6.76" fill="#fde8e8"/>
<rect x="556.80" y="836.54" width="7.27" height="6.76" fill="#f98d8d"/>
<rect x="563.77" y="836.54" width="7.27" height="6.76" fill="#fde8e8"/>
<rect x="570.73" y="836.54" width="7.27" height="6.76" fill="#fdd9d9"/>
<rect x="577.70" y="836.54" width="7.27" height="6.76" fill="#7b7eee"/>
<rect x="584.67" y="836.54" width="7.27" height="6.76" fill="#7b7eee"/>
<rect x="591.63" y="836.54" width="7.27" height="6.76" fill="#b9bcf9"/>
<rect x="598.60" y="836.54" width="7.27" height="6.76" fill="#fde8e8"/>
<rect x="605.57" y="836.54" width="7.27" height="6.76" fill="#feefef"/>
<rect x="612.53" y="836.54" width="7.27" height="6.76" fill="#ffffff"/>
<rect x="535.90" y="843.01" width="7.27" height="6.76" fill="#fcc9c9"/>
<rect x="542.87" y="843.01" width="7.27" height="6.76" fill="#fdd9d9"/>
<rect x="549.83" y="843.01" width="7.27" height="6.76" fill="#fcc9c9"/>
<rect x="556.80" y="843.01" width="7.27" height="6.76" fill="#4144e2"/>
<rect x="563.77" y="843.01" width="7.27" height="6.76" fill="#fef7f7"/>
<rect x="570.73" y="843.01" width="7.27" height="6.76" fill="#fef7f7"/>
<rect x="577.70" y="843.01" width="7.27" height="6.76" fill="#fcc9c9"/>
<rect x="584.67" y="843.01" width="7.27" height="6.76" fill="#fcd1d1"/>
<rect x="591.63" y="843.01" width="7.27" height="6.76" fill="#fbc2c2"/>
<rect x="598.60" y="843.01" width="7.27" height="6.76" fill="#eaedfd"/>
<rect x="605.57" y="843.01" width="7.27" height="6.76" fill="#eaedfd"/>
<rect x="612.53" y="843.01" width="7.27" height="6.76" fill="#eaedfd"/>
<rect x="535.90" y="849.47" width="7.27" height="6.76" fill="#fcc9c9"/>
<rect x="542.87" y="849.47" width="7.27" height="6.76" fill="#fbbaba"/>
<rect x="549.83" y="849.47" width="7.27" height="6.76" fill="#fef7f7"/>
<rect x="556.80" y="849.47" width="7.27" height="6.76" fill="#c7cafa"/>
<rect x="563.77" y="849.47" width="7.27" height="6.76" fill="#f76767"/>
<rect x="570.73" y="849.47" width="7.27" height="6.76" fill="#f76767"/>
<rect x="577.70" y="849.47" width="7.27" height="6.76" fill="#c0c3f9"/>
<rect x="584.67" y="849.47" width="7.27" height="6.76" fill="#9ea1f5"/>
<rect x="591.63" y="849.47" width="7.27" height="6.76" fill="#c0c3f9"/>
<rect x="598.60" y="849.47" width="7.27" height="6.76" fill="#eaedfd"/>
<rect x="605.57" y="849.47" width="7.27" height="6.76" fill="#eaedfd"/>
<rect x="612.53" y="849.47" width="7.27" height="6.76" fill="#f1f4fd"/>
<rect x="535.90" y="855.94" width="7.27" height="6.76" fill="#f99494"/>
<rect x="542.87" y="855.94" width="7.27" height="6.76" fill="#fde8e8"/>
<rect x="549.83" y="855.94" width="7.27" height="6.76" fill="#ffffff"/>
<rect x="556.80" y="855.94" width="7.27" height="6.76" fill="#d5d8fb"/>
<rect x="563.77" y="855.94" width="7.27" height="6.76" fill="#f87d7d"/>
<rect x="570.73" y="855.94" width="7.27" height="6.76" fill="#f76767"/>
<rect x="577.70" y="855.94" width="7.27" height="6.76" fill="#b2b5f8"/>
<rect x="584.67" y="855.94" width="7.27" height="6.76" fill="#c0c3f9"/>
<rect x="591.63" y="855.94" width="7.27" height="6.76" fill="#c0c3f9"/>
<rect x="598.60" y="855.94" width="7.27" height="6.76" fill="#f1f4fd"/>
<rect x="605.57" y="855.94" width="7.27" height="6.76" fill="#eaedfd"/>
<rect x="612.53" y="855.94" width="7.27" height="6.76" fill="#feefef"/>
<rect x="535.90" y="862.40" width="7.27" height="6.76" fill="#f76767"/>
<rect x="542.87" y="862.40" width="7.27" height="6.76" fill="#f98d8d"/>
<rect x="549.83" y="862.40" width="7.27" height="6.76" fill="#fbc2c2"/>
<rect x="556.80" y="862.40" width="7.27" height="6.76" fill="#ffffff"/>
<rect x="563.77" y="862.40" width="7.27" height="6.76" fill="#9295f3"/>
<rect x="570.73" y="862.40" width="7.27" height="6.76" fill="#ced1fa"/>
<rect x="577.70" y="862.40" width="7.27" height="6.76" fill="#f1f4fd"/>
<rect x="584.67" y="862.40" width="7.27" height="6.76" fill="#c0c3f9"/>
<rect x="591.63" y="862.40" width="7.27" height="6.76" fill="#c0c3f9"/>
<rect x="598.60" y="862.40" width="7.27" height="6.76" fill="#fde8e8"/>
<rect x="605.57" y="862.40" width="7.27" height="6.76" fill="#fde0e0"/>
<rect x="612.53" y="862.40" width="7.27" height="6.76" fill="#fde0e0"/>
<rect x="535.90" y="868.86" width="7.27" height="6.76" fill="#f76767"/>
<rect x="542.87" y="868.86" width="7.27" height="6.76" fill="#faa3a3"/>
<rect x="549.83" y="868.86" width="7.27" height="6.76" fill="#f99c9c"/>
<rect x="556.80" y="868.86" width="7.27" height="6.76" fill="#ced1fa"/>
<rect x="563.77" y="868.86" width="7.27" height="6.76" fill="#f8fbfe"/>
<rect x="570.73" y="868.86" width="7.27" height="6.76" fill="#fef7f7"/>
<rect x="577.70" y="868.86" width="7.27" height="6.76" fill="#ffffff"/>
<rect x="584.67" y="868.86" width="7.27" height="6.76" fill="#ffffff"/>
<rect x="591.63" y="868.86" width="7.27" height="6.76" fill="#fde8e8"/>
<rect x="598.60" y="868.86" width="7.27" height="6.76" fill="#c0c3f9"/>
<rect x="605.57" y="868.86" width="7.27" height="6.76" fill="#989bf4"/>
<rect x="612.53" y="868.86" width="7.27" height="6.76" fill="#c0c3f9"/>
<rect x="535.90" y="875.33" width="7.27" height="6.76" fill="#f65757"/>
<rect x="542.87" y="875.33" width="7.27" height="6.76" fill="#faa3a3"/>
<rect x="549.83" y="875.33" width="7.27" height="6.76" fill="#f99c9c"/>
<rect x="556.80" y="875.33" width="7.27" height="6.76" fill="#c0c3f9"/>
<rect x="563.77" y="875.33" width="7.27" height="6.76" fill="#c7cafa"/>
<rect x="570.73" y="875.33" width="7.27" height="6.76" fill="#ced1fa"/>
<rect x="577.70" y="875.33" width="7.27" height="6.76" fill="#fef7f7"/>
<rect x="584.67" y="875.33" width="7.27" height="6.76" fill="#fef7f7"/>
<rect x="591.63" y="875.33" width="7.27" height="6.76" fill="#fdd9d9"/>
<rect x="598.60" y="875.33" width="7.27" height="6.76" fill="#c0c3f9"/>
<rect x="605.57" y="875.33" width="7.27" height="6.76" fill="#f1f4fd"/>
<rect x="612.53" y="875.33" width="7.27" height="6.76" fill="#d5d8fb"/>
<rect x="535.90" y="881.79" width="7.27" height="6.76" fill="#f88585"/>
<rect x="542.87" y="881.79" width="7.27" height="6.76" fill="#fcc9c9"/>
<rect x="549.83" y="881.79" width="7.27" height="6.76" fill="#f99c9c"/>
<rect x="556.80" y="881.79" width="7.27" height="6.76" fill="#d5d8fb"/>
<rect x="563.77" y="881.79" width="7.27" height="6.76" fill="#ced1fa"/>
<rect x="570.73" y="881.79" width="7.27" height="6.76" fill="#dcdffc"/>
<rect x="577.70" y="881.79" width="7.27" height="6.76" fill="#fcc9c9"/>
<rect x="584.67" y="881.79" width="7.27" height="6.76" fill="#fbc2c2"/>
<rect x="591.63" y="881.79" width="7.27" height="6.76" fill="#fbc2c2"/>
<rect x="598.60" y="881.79" width="7.27" height="6.76" fill="#c0c3f9"/>
<rect x="605.57" y="881.79" width="7.27" height="6.76" fill="#b2b5f8"/>
<rect x="612.53" y="881.79" width="7.27" height="6.76" fill="#b2b5f8"/>
<rect x="535.90" y="888.26" width="7.27" height="6.76" fill="#faa3a3"/>
<rect x="542.87" y="888.26" width="7.27" height="6.76" fill="#fcd1d1"/>
<rect x="549.83" y="888.26" width="7.27" height="6.76" fill="#f99c9c"/>
<rect x="556.80" y="888.26" width="7.27" height="6.76" fill="#5e61e8"/>
<rect x="563.77" y="888.26" width="7.27" height="6.76" fill="#fde0e0"/>
<rect x="570.73" y="888.26" width="7.27" height="6.76" fill="#f8fbfe"/>
<rect x="577.70" y="888.26" width="7.27" height="6.76" fill="#f8fbfe"/>
<rect x="584.67" y="888.26" width="7.27" height="6.76" fill="#feefef"/>
<rect x="591.63" y="888.26" width="7.27" height="6.76" fill="#ffffff"/>
<rect x="598.60" y="888.26" width="7.27" height="6.76" fill="#e3e6fc"/>
<rect x="605.57" y="888.26" width="7.27" height="6.76" fill="#ffffff"/>
<rect x="612.53" y="888.26" width="7.27" height="6.76" fill="#ffffff"/>
<rect x="535.90" y="894.72" width="7.27" height="6.76" fill="#feefef"/>
<rect x="542.87" y="894.72" width="7.27" height="6.76" fill="#feefef"/>
<rect x="549.83" y="894.72" width="7.27" height="6.76" fill="#fde8e8"/>
<rect x="556.80" y="894.72" width="7.27" height="6.76" fill="#fcd1d1"/>
<rect x="563.77" y="894.72" width="7.27" height="6.76" fill="#f87d7d"/>
<rect x="570.73" y="894.72" width="7.27" height="6.76" fill="#f88585"/>
<rect x="577.70" y="894.72" width="7.27" height="6.76" fill="#abaef7"/>
<rect x="584.67" y="894.72" width="7.27" height="6.76" fill="#abaef7"/>
<rect x="591.63" y="894.72" width="7.27" height="6.76" fill="#abaef7"/>
<rect x="598.60" y="894.72" width="7.27" height="6.76" fill="#f8fbfe"/>
<rect x="605.57" y="894.72" width="7.27" height="6.76" fill="#ffffff"/>
<rect x="612.53" y="894.72" width="7.27" height="6.76" fill="#f8fbfe"/>
<rect x="535.90" y="901.19" width="7.27" height="6.76" fill="#feefef"/>
<rect x="542.87" y="901.19" width="7.27" height="6.76" fill="#fde0e0"/>
<rect x="549.83" y="901.19" width="7.27" height="6.76" fill="#f1f4fd"/>
<rect x="556.80" y="901.19" width="7.27" height="6.76" fill="#f31b1b"/>
<rect x="563.77" y="901.19" width="7.27" height="6.76" fill="#eaedfd"/>
<rect x="570.73" y="901.19" width="7.27" height="6.76" fill="#feefef"/>
<rect x="577.70" y="901.19" width="7.27" height="6.76" fill="#c0c3f9"/>
<rect x="584.67" y="901.19" width="7.27" height="6.76" fill="#d5d8fb"/>
<rect x="591.63" y="901.19" width="7.27" height="6.76" fill="#eaedfd"/>
<rect x="598.60" y="901.19" width="7.27" height="6.76" fill="#eaedfd"/>
<rect x="605.57" y="901.19" width="7.27" height="6.76" fill="#feefef"/>
<rect x="612.53" y="901.19" width="7.27" height="6.76" fill="#e3e6fc"/>
<rect x="535.90" y="907.65" width="7.27" height="6.76" fill="#fcd1d1"/>
<rect x="542.87" y="907.65" width="7.27" height="6.76" fill="#fde8e8"/>
<rect x="549.83" y="907.65" width="7.27" height="6.76" fill="#fef7f7"/>
<rect x="556.80" y="907.65" width="7.27" height="6.76" fill="#b9bcf9"/>
<rect x="563.77" y="907.65" width="7.27" height="6.76" fill="#f65757"/>
<rect x="570.73" y="907.65" width="7.27" height="6.76" fill="#f87d7d"/>
<rect x="577.70" y="907.65" width="7.27" height="6.76" fill="#eaedfd"/>
<rect x="584.67" y="907.65" width="7.27" height="6.76" fill="#f8fbfe"/>
<rect x="591.63" y="907.65" width="7.27" height="6.76" fill="#f8fbfe"/>
<rect x="598.60" y="907.65" width="7.27" height="6.76" fill="#c0c3f9"/>
<rect x="605.57" y="907.65" width="7.27" height="6.76" fill="#c0c3f9"/>
<rect x="612.53" y="907.65" width="7.27" height="6.76" fill="#d5d8fb"/>
<rect x="535.90" y="914.11" width="7.27" height="6.76" fill="#fde8e8"/>
<rect x="542.87" y="914.11" width="7.27" height="6.76" fill="#f76767"/>
<rect x="549.83" y="914.11" width="7.27" height="6.76" fill="#f65757"/>
<rect x="556.80" y="914.11" width="7.27" height="6.76" fill="#eaedfd"/>
<rect x="563.77" y="914.11" width="7.27" height="6.76" fill="#fde8e8"/>
<rect x="570.73" y="914.11" width="7.27" height="6.76" fill="#fef7f7"/>
<rect x="577.70" y="914.11" width="7.27" height="6.76" fill="#ced1fa"/>
<rect x="584.67" y="914.11" width="7.27" height="6.76" fill="#ced1fa"/>
<rect x="591.63" y="914.11" width="7.27" height="6.76" fill="#c0c3f9"/>
<rect x="598.60" y="914.11" width="7.27" height="6.76" fill="#c0c3f9"/>
<rect x="605.57" y="914.11" width="7.27" height="6.76" fill="#fde8e8"/>
<rect x="612.53" y="914.11" width="7.27" height="6.76" fill="#f8fbfe"/>
<rect x="535.90" y="920.58" width="7.27" height="6.76" fill="#f87d7d"/>
<rect x="542.87" y="920.58" width="7.27" height="6.76" fill="#f88585"/>
<rect x="549.83" y="920.58" width="7.27" height="6.76" fill="#f88585"/>
<rect x="556.80" y="920.58" width="7.27" height="6.76" fill="#f8fbfe"/>
<rect x="563.77" y="920.58" width="7.27" height="6.76" fill="#fde8e8"/>
<rect x="570.73" y="920.58" width="7.27" height="6.76" fill="#fde8e8"/>
<rect x="577.70" y="920.58" width="7.27" height="6.76" fill="#f1f4fd"/>
<rect x="584.67" y="920.58" width="7.27" height="6.76" fill="#f1f4fd"/>
<rect x="591.63" y="920.58" width="7.27" height="6.76" fill="#ffffff"/>
<rect x="598.60" y="920.58" width="7.27" height="6.76" fill="#a4a7f7"/>
<rect x="605.57" y="920.58" width="7.27" height="6.76" fill="#b2b5f8"/>
<rect x="612.53" y="920.58" width="7.27" height="6.76" fill="#b2b5f8"/>
<rect x="535.90" y="927.04" width="7.27" height="6.76" fill="#fde0e0"/>
<rect x="542.87" y="927.04" width="7.27" height="6.76" fill="#fbc2c2"/>
<rect x="549.83" y="927.04" width="7.27" height="6.76" fill="#fde0e0"/>
<rect x="556.80" y="927.04" width="7.27" height="6.76" fill="#ffffff"/>
<rect x="563.77" y="927.04" width="7.27" height="6.76" fill="#f76767"/>
<rect x="570.73" y="927.04" width="7.27" height="6.76" fill="#f76767"/>
<rect x="577.70" y="927.04" width="7.27" height="6.76" fill="#eaedfd"/>
<rect x="584.67" y="927.04" width="7.27" height="6.76" fill="#d5d8fb"/>
<rect x="591.63" y="927.04" width="7.27" height="6.76" fill="#e3e6fc"/>
<rect x="598.60" y="927.04" width="7.27" height="6.76" fill="#b9bcf9"/>
<rect x="605.57" y="927.04" width="7.27" height="6.76" fill="#b9bcf9"/>
<rect x="612.53" y="927.04" width="7.27" height="6.76" fill="#b9bcf9"/>
<rect x="535.90" y="933.51" width="7.27" height="6.76" fill="#faa3a3"/>
<rect x="542.87" y="933.51" width="7.27" height="6.76" fill="#f76e6e"/>
<rect x="549.83" y="933.51" width="7.27" height="6.76" fill="#f87d7d"/>
<rect x="556.80" y="933.51" width="7.27" height="6.76" fill="#b9bcf9"/>
<rect x="563.77" y="933.51" width="7.27" height="6.76" fill="#fef7f7"/>
<rect x="570.73" y="933.51" width="7.27" height="6.76" fill="#fbc2c2"/>
<rect x="577.70" y="933.51" width="7.27" height="6.76" fill="#e3e6fc"/>
<rect x="584.67" y="933.51" width="7.27" height="6.76" fill="#f1f4fd"/>
<rect x="591.63" y="933.51" width="7.27" height="6.76" fill="#eaedfd"/>
<rect x="598.60" y="933.51" width="7.27" height="6.76" fill="#b9bcf9"/>
<rect x="605.57" y="933.51" width="7.27" height="6.76" fill="#b9bcf9"/>
<rect x="612.53" y="933.51" width="7.27" height="6.76" fill="#b9bcf9"/>
<rect x="535.90" y="939.97" width="7.27" height="6.76" fill="#faa3a3"/>
<rect x="542.87" y="939.97" width="7.27" height="6.76" fill="#fbbaba"/>
<rect x="549.83" y="939.97" width="7.27" height="6.76" fill="#fbbaba"/>
<rect x="556.80" y="939.97" width="7.27" height="6.76" fill="#f76767"/>
<rect x="563.77" y="939.97" width="7.27" height="6.76" fill="#fde8e8"/>
<rect x="570.73" y="939.97" width="7.27" height="6.76" fill="#fde8e8"/>
<rect x="577.70" y="939.97" width="7.27" height="6.76" fill="#f1f4fd"/>
<rect x="584.67" y="939.97" width="7.27" height="6.76" fill="#ffffff"/>
<rect x="591.63" y="939.97" width="7.27" height="6.76" fill="#fef7f7"/>
<rect x="598.60" y="939.97" width="7.27" height="6.76" fill="#9ea1f5"/>
<rect x="605.57" y="939.97" width="7.27" height="6.76" fill="#9295f3"/>
<rect x="612.53" y="939.97" width="7.27" height="6.76" fill="#989bf4"/>
<rect x="535.90" y="946.44" width="7.27" height="6.76" fill="#f99c9c"/>
<rect x="542.87" y="946.44" width="7.27" height="6.76" fill="#fde0e0"/>
<rect x="549.83" y="946.44" width="7.27" height="6.76" fill="#faabab"/>
<rect x="556.80" y="946.44" width="7.27" height="6.76" fill="#6467e9"/>
<rect x="563.77" y="946.44" width="7.27" height="6.76" fill="#ffffff"/>
<rect x="570.73" y="946.44" width="7.27" height="6.76" fill="#ffffff"/>
<rect x="577.70" y="946.44" width="7.27" height="6.76" fill="#fde0e0"/>
<rect x="584.67" y="946.44" width="7.27" height="6.76" fill="#fef7f7"/>
<rect x="591.63" y="946.44" width="7.27" height="6.76" fill="#fbbaba"/>
<rect x="598.60" y="946.44" width="7.27" height="6.76" fill="#dcdffc"/>
<rect x="605.57" y="946.44" width="7.27" height="6.76" fill="#dcdffc"/>
<rect x="612.53" y="946.44" width="7.27" height="6.76" fill="#dcdffc"/>
<text x="541.38" y="770.00" text-anchor="start" fill="#000" style='font-size:6.00px;font-weight:normal;font-family:"Liberation Mono",monospace;' transform="rotate(-90.0 541.38 770.00)">shSCR(1)</text>
<text x="548.35" y="770.00" text-anchor="start" fill="#000" style='font-size:6.00px;font-weight:normal;font-family:"Liberation Mono",monospace;' transform="rotate(-90.0 548.35 770.00)">shSCR(2)</text>
<text x="555.32" y="770.00" text-anchor="start" fill="#000" style='font-size:6.00px;font-weight:normal;font-family:"Liberation Mono",monospace;' transform="rotate(-90.0 555.32 770.00)">shSCR(3)</text>
<text x="562.28" y="770.00" text-anchor="start" fill="#000" style='font-size:6.00px;font-weight:normal;font-family:"Liberation Mono",monospace;' transform="rotate(-90.0 562.28 770.00)">shSMAD9_1(1)</text>
<text x="569.25" y="770.00" text-anchor="start" fill="#000" style='font-size:6.00px;font-weight:normal;font-family:"Liberation Mono",monospace;' transform="rotate(-90.0 569.25 770.00)">shSMAD9_1(2)</text>
<text x="576.22" y="770.00" text-anchor="start" fill="#000" style='font-size:6.00px;font-weight:normal;font-family:"Liberation Mono",monospace;' transform="rotate(-90.0 576.22 770.00)">shSMAD9_1(3)</text>
<text x="583.18" y="770.00" text-anchor="start" fill="#000" style='font-size:6.00px;font-weight:normal;font-family:"Liberation Mono",monospace;' transform="rotate(-90.0 583.18 770.00)">shSMAD9_2(1)</text>
<text x="590.15" y="770.00" text-anchor="start" fill="#000" style='font-size:6.00px;font-weight:normal;font-family:"Liberation Mono",monospace;' transform="rotate(-90.0 590.15 770.00)">shSMAD9_2(2)</text>
<text x="597.12" y="770.00" text-anchor="start" fill="#000" style='font-size:6.00px;font-weight:normal;font-family:"Liberation Mono",monospace;' transform="rotate(-90.0 597.12 770.00)">shSMAD9_2(3)</text>
<text x="604.08" y="770.00" text-anchor="start" fill="#000" style='font-size:6.00px;font-weight:normal;font-family:"Liberation Mono",monospace;' transform="rotate(-90.0 604.08 770.00)">shSMAD9_3(1)</text>
<text x="611.05" y="770.00" text-anchor="start" fill="#000" style='font-size:6.00px;font-weight:normal;font-family:"Liberation Mono",monospace;' transform="rotate(-90.0 611.05 770.00)">shSMAD9_3(2)</text>
<text x="618.02" y="770.00" text-anchor="start" fill="#000" style='font-size:6.00px;font-weight:normal;font-family:"Liberation Mono",monospace;' transform="rotate(-90.0 618.02 770.00)">shSMAD9_3(3)</text>
<text x="621.00" y="777.23" text-anchor="start" fill="#000" style='font-size:6.60px;font-weight:normal;font-family:"Liberation Mono",monospace;'>SMAD9</text>
<text x="621.00" y="783.70" text-anchor="start" fill="#000" style='font-size:6.60px;font-weight:normal;font-family:"Liberation Mono",monospace;'>INS</text>
<text x="621.00" y="790.16" text-anchor="start" fill="#000" style='font-size:6.60px;font-weight:normal;font-family:"Liberation Mono",monospace;'>IAPP</text>
<text x="621.00" y="796.62" text-anchor="start" fill="#000" style='font-size:6.60px;font-weight:normal;font-family:"Liberation Mono",monospace;'>PPY</text>
<text x="621.00" y="803.09" text-anchor="start" fill="#000" style='font-size:6.60px;font-weight:normal;font-family:"Liberation Mono",monospace;'>GLIS3</text>
<text x="621.00" y="809.55" text-anchor="start" fill="#000" style='font-size:6.60px;font-weight:normal;font-family:"Liberation Mono",monospace;'>MAF</text>
<text x="621.00" y="816.02" text-anchor="start" fill="#000" style='font-size:6.60px;font-weight:normal;font-family:"Liberation Mono",monospace;'>NKX6-1</text>
<text x="621.00" y="822.48" text-anchor="start" fill="#000" style='font-size:6.60px;font-weight:normal;font-family:"Liberation Mono",monospace;'>RFX2</text>
<text x="621.00" y="828.95" text-anchor="start" fill="#000" style='font-size:6.60px;font-weight:normal;font-family:"Liberation Mono",monospace;'>RFX3</text>
<text x="621.00" y="835.41" text-anchor="start" fill="#000" style='font-size:6.60px;font-weight:normal;font-family:"Liberation Mono",monospace;'>MAFA</text>
<text x="621.00" y="841.88" text-anchor="start" fill="#000" style='font-size:6.60px;font-weight:normal;font-family:"Liberation Mono",monospace;'>MAFB</text>
<text x="621.00" y="848.34" text-anchor="start" fill="#000" style='font-size:6.60px;font-weight:normal;font-family:"Liberation Mono",monospace;'>HNF1B</text>
<text x="621.00" y="854.80" text-anchor="start" fill="#000" style='font-size:6.60px;font-weight:normal;font-family:"Liberation Mono",monospace;'>NEUROD1</text>
<text x="621.00" y="861.27" text-anchor="start" fill="#000" style='font-size:6.60px;font-weight:normal;font-family:"Liberation Mono",monospace;'>NKX2-2</text>
<text x="621.00" y="867.73" text-anchor="start" fill="#000" style='font-size:6.60px;font-weight:normal;font-family:"Liberation Mono",monospace;'>ALX3</text>
<text x="621.00" y="874.20" text-anchor="start" fill="#000" style='font-size:6.60px;font-weight:normal;font-family:"Liberation Mono",monospace;'>NNT</text>
<text x="621.00" y="880.66" text-anchor="start" fill="#000" style='font-size:6.60px;font-weight:normal;font-family:"Liberation Mono",monospace;'>PDK3</text>
<text x="621.00" y="887.12" text-anchor="start" fill="#000" style='font-size:6.60px;font-weight:normal;font-family:"Liberation Mono",monospace;'>PGAP1</text>
<text x="621.00" y="893.59" text-anchor="start" fill="#000" style='font-size:6.60px;font-weight:normal;font-family:"Liberation Mono",monospace;'>RIMS4</text>
<text x="621.00" y="900.05" text-anchor="start" fill="#000" style='font-size:6.60px;font-weight:normal;font-family:"Liberation Mono",monospace;'>SYT4</text>
<text x="621.00" y="906.52" text-anchor="start" fill="#000" style='font-size:6.60px;font-weight:normal;font-family:"Liberation Mono",monospace;'>VAMP3</text>
<text x="621.00" y="912.98" text-anchor="start" fill="#000" style='font-size:6.60px;font-weight:normal;font-family:"Liberation Mono",monospace;'>ABCC8</text>
<text x="621.00" y="919.45" text-anchor="start" fill="#000" style='font-size:6.60px;font-weight:normal;font-family:"Liberation Mono",monospace;'>KCNC4</text>
<text x="621.00" y="925.91" text-anchor="start" fill="#000" style='font-size:6.60px;font-weight:normal;font-family:"Liberation Mono",monospace;'>KCNJ4</text>
<text x="621.00" y="932.38" text-anchor="start" fill="#000" style='font-size:6.60px;font-weight:normal;font-family:"Liberation Mono",monospace;'>HCN1</text>
<text x="621.00" y="938.84" text-anchor="start" fill="#000" style='font-size:6.60px;font-weight:normal;font-family:"Liberation Mono",monospace;'>KCNN3</text>
<text x="621.00" y="945.30" text-anchor="start" fill="#000" style='font-size:6.60px;font-weight:normal;font-family:"Liberation Mono",monospace;'>MMP2</text>
<text x="621.00" y="951.77" text-anchor="start" fill="#000" style='font-size:6.60px;font-weight:normal;font-family:"Liberation Mono",monospace;'>FXYD2</text>
<rect x="662.90" y="772.60" width="19.00" height="41.00" fill="#ececec"/>
<rect x="657.10" y="772.90" width="5.80" height="6.00" fill="#0000ff"/>
<rect x="657.10" y="778.90" width="5.80" height="5.30" fill="#5555ff"/>
<rect x="657.10" y="784.20" width="5.80" height="5.60" fill="#aaaaff"/>
<rect x="657.10" y="795.50" width="5.80" height="5.70" fill="#ffaaaa"/>
<rect x="657.10" y="801.20" width="5.80" height="5.90" fill="#ff5555"/>
<rect x="657.10" y="807.10" width="5.80" height="4.80" fill="#ff0000"/>
<text x="663.10" y="779.47" text-anchor="start" fill="#555" style='font-size:6.30px;font-weight:normal;' textLength="12.96" lengthAdjust="spacingAndGlyphs">-3.00</text>
<text x="663.10" y="785.27" text-anchor="start" fill="#555" style='font-size:6.30px;font-weight:normal;' textLength="12.96" lengthAdjust="spacingAndGlyphs">-2.00</text>
<text x="663.10" y="790.97" text-anchor="start" fill="#555" style='font-size:6.30px;font-weight:normal;' textLength="12.96" lengthAdjust="spacingAndGlyphs">-1.00</text>
<text x="663.00" y="796.67" text-anchor="start" fill="#555" style='font-size:6.30px;font-weight:normal;' textLength="10.80" lengthAdjust="spacingAndGlyphs">0.00</text>
<text x="663.00" y="801.77" text-anchor="start" fill="#555" style='font-size:6.30px;font-weight:normal;' textLength="10.80" lengthAdjust="spacingAndGlyphs">1.00</text>
<text x="663.00" y="807.37" text-anchor="start" fill="#555" style='font-size:6.30px;font-weight:normal;' textLength="10.80" lengthAdjust="spacingAndGlyphs">2.00</text>
<text x="663.00" y="813.07" text-anchor="start" fill="#555" style='font-size:6.30px;font-weight:normal;' textLength="10.80" lengthAdjust="spacingAndGlyphs">3.00</text>
</svg></body></html>
